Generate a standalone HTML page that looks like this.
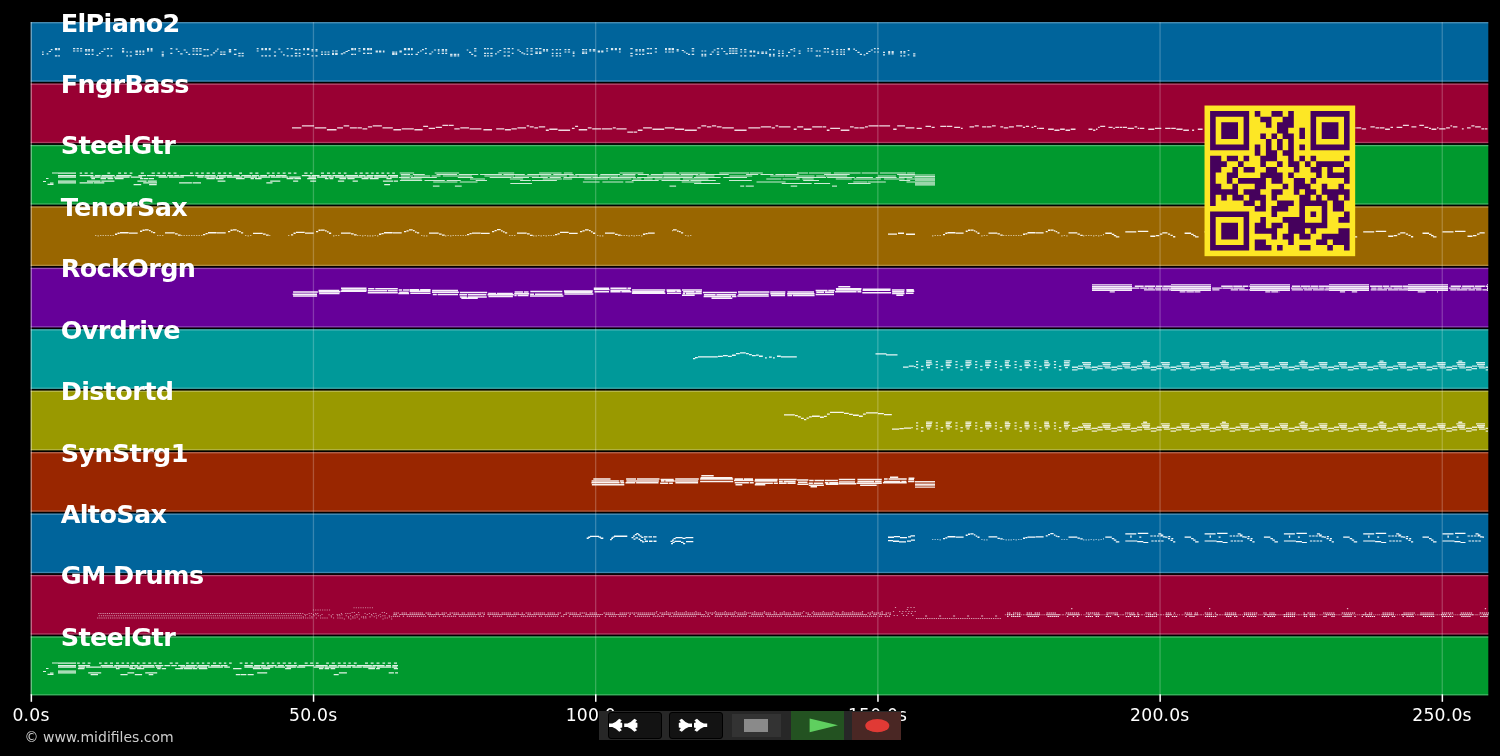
<!DOCTYPE html><html><head><meta charset="utf-8"><title>MIDI tracks</title><style>
html,body{margin:0;padding:0;background:#000;}
body{width:1500px;height:756px;position:relative;overflow:hidden;font-family:"DejaVu Sans","Liberation Sans",sans-serif;}
.lbl{position:absolute;left:60.7px;color:#fff;font-weight:bold;font-size:25.5px;line-height:25px;white-space:nowrap;letter-spacing:-0.65px;word-spacing:-0.8px;}
.tk{position:absolute;color:#fff;font-size:17.2px;line-height:17px;white-space:nowrap;transform:translateX(-50%);top:706.5px;letter-spacing:0.2px;}
.cr{position:absolute;left:24.5px;top:729.7px;color:#ccc;font-size:14px;line-height:14px;white-space:nowrap;}
.tb{position:absolute;left:599px;top:711.4px;width:302px;height:28.5px;background:#272727;}
.tb div{position:absolute;box-sizing:border-box;}

</style></head><body>
<svg width="1500" height="756" viewBox="0 0 1500 756" style="position:absolute;left:0;top:0">
<rect width="1500" height="756" fill="#000"/>
<rect x="30.7" y="22.07" width="1457.6" height="59.63" fill="#00649b"/>
<rect x="30.7" y="22.07" width="1457.6" height="1.3" fill="#fff" fill-opacity="0.3"/>
<rect x="30.7" y="80.40" width="1457.6" height="1.3" fill="#fff" fill-opacity="0.24"/>
<rect x="30.7" y="83.50" width="1457.6" height="59.63" fill="#990033"/>
<rect x="30.7" y="83.50" width="1457.6" height="1.3" fill="#fff" fill-opacity="0.3"/>
<rect x="30.7" y="141.83" width="1457.6" height="1.3" fill="#fff" fill-opacity="0.24"/>
<rect x="30.7" y="144.93" width="1457.6" height="59.63" fill="#00992e"/>
<rect x="30.7" y="144.93" width="1457.6" height="1.3" fill="#fff" fill-opacity="0.3"/>
<rect x="30.7" y="203.26" width="1457.6" height="1.3" fill="#fff" fill-opacity="0.24"/>
<rect x="30.7" y="206.36" width="1457.6" height="59.63" fill="#996600"/>
<rect x="30.7" y="206.36" width="1457.6" height="1.3" fill="#fff" fill-opacity="0.3"/>
<rect x="30.7" y="264.69" width="1457.6" height="1.3" fill="#fff" fill-opacity="0.24"/>
<rect x="30.7" y="267.79" width="1457.6" height="59.63" fill="#660099"/>
<rect x="30.7" y="267.79" width="1457.6" height="1.3" fill="#fff" fill-opacity="0.3"/>
<rect x="30.7" y="326.12" width="1457.6" height="1.3" fill="#fff" fill-opacity="0.24"/>
<rect x="30.7" y="329.22" width="1457.6" height="59.63" fill="#009999"/>
<rect x="30.7" y="329.22" width="1457.6" height="1.3" fill="#fff" fill-opacity="0.3"/>
<rect x="30.7" y="387.55" width="1457.6" height="1.3" fill="#fff" fill-opacity="0.24"/>
<rect x="30.7" y="390.65" width="1457.6" height="59.63" fill="#999900"/>
<rect x="30.7" y="390.65" width="1457.6" height="1.3" fill="#fff" fill-opacity="0.3"/>
<rect x="30.7" y="448.98" width="1457.6" height="1.3" fill="#fff" fill-opacity="0.24"/>
<rect x="30.7" y="452.08" width="1457.6" height="59.63" fill="#992600"/>
<rect x="30.7" y="452.08" width="1457.6" height="1.3" fill="#fff" fill-opacity="0.3"/>
<rect x="30.7" y="510.41" width="1457.6" height="1.3" fill="#fff" fill-opacity="0.24"/>
<rect x="30.7" y="513.51" width="1457.6" height="59.63" fill="#00649b"/>
<rect x="30.7" y="513.51" width="1457.6" height="1.3" fill="#fff" fill-opacity="0.3"/>
<rect x="30.7" y="571.84" width="1457.6" height="1.3" fill="#fff" fill-opacity="0.24"/>
<rect x="30.7" y="574.94" width="1457.6" height="59.63" fill="#990033"/>
<rect x="30.7" y="574.94" width="1457.6" height="1.3" fill="#fff" fill-opacity="0.3"/>
<rect x="30.7" y="633.27" width="1457.6" height="1.3" fill="#fff" fill-opacity="0.24"/>
<rect x="30.7" y="636.37" width="1457.6" height="59.03" fill="#00992e"/>
<rect x="30.7" y="636.37" width="1457.6" height="1.3" fill="#fff" fill-opacity="0.3"/>
<rect x="30.7" y="694.10" width="1457.6" height="1.3" fill="#fff" fill-opacity="0.24"/>
<rect x="30.60" y="22.07" width="1.3" height="673.33" fill="#fff" fill-opacity="0.45"/>
<rect x="30.60" y="694.3" width="1.5" height="7.5" fill="#fff"/>
<rect x="312.80" y="22.07" width="1.3" height="673.33" fill="#fff" fill-opacity="0.22"/>
<rect x="312.80" y="694.3" width="1.5" height="7.5" fill="#fff"/>
<rect x="595.00" y="22.07" width="1.3" height="673.33" fill="#fff" fill-opacity="0.22"/>
<rect x="595.00" y="694.3" width="1.5" height="7.5" fill="#fff"/>
<rect x="877.20" y="22.07" width="1.3" height="673.33" fill="#fff" fill-opacity="0.22"/>
<rect x="877.20" y="694.3" width="1.5" height="7.5" fill="#fff"/>
<rect x="1159.40" y="22.07" width="1.3" height="673.33" fill="#fff" fill-opacity="0.22"/>
<rect x="1159.40" y="694.3" width="1.5" height="7.5" fill="#fff"/>
<rect x="1441.60" y="22.07" width="1.3" height="673.33" fill="#fff" fill-opacity="0.22"/>
<rect x="1441.60" y="694.3" width="1.5" height="7.5" fill="#fff"/>
<path fill="#fff" fill-opacity="0.85" d="M42.0 51.4h1.7v1.2h-1.7zM42.0 53.8h1.7v1.2h-1.7zM46.6 53.3h1.7v1.2h-1.7zM48.7 50.9h2.3v1.2h-2.3zM50.7 49.0h1.8v1.2h-1.8zM54.9 48.0h2.5v1.2h-2.5zM54.9 49.0h2.5v1.2h-2.5zM54.9 55.2h2.5v1.2h-2.5zM58.2 48.0h1.7v1.2h-1.7zM58.2 49.0h1.7v1.2h-1.7zM58.2 55.2h1.7v1.2h-1.7zM73.0 50.4h2.3v1.2h-2.3zM73.0 48.0h2.3v1.2h-2.3zM76.6 50.4h2.2v1.2h-2.2zM76.6 48.0h2.2v1.2h-2.2zM80.1 50.4h2.1v1.2h-2.1zM80.1 48.0h2.1v1.2h-2.1zM85.0 50.4h2.4v1.2h-2.4zM85.0 49.0h2.4v1.2h-2.4zM85.0 53.8h2.4v1.2h-2.4zM88.1 50.4h1.9v1.2h-1.9zM88.1 49.0h1.9v1.2h-1.9zM88.1 53.8h1.9v1.2h-1.9zM91.6 50.4h1.9v1.2h-1.9zM91.6 49.0h1.9v1.2h-1.9zM91.6 53.8h1.9v1.2h-1.9zM96.5 54.7h1.9v1.2h-1.9zM99.0 52.8h1.7v1.2h-1.7zM101.2 50.9h2.2v1.2h-2.2zM103.6 48.5h1.9v1.2h-1.9zM106.9 55.2h2.1v1.2h-2.1zM106.9 48.0h2.1v1.2h-2.1zM110.6 55.2h1.7v1.2h-1.7zM110.6 48.0h1.7v1.2h-1.7zM122.0 48.0h2.2v1.2h-2.2zM122.0 51.4h2.2v1.2h-2.2zM122.0 50.4h2.2v1.2h-2.2zM126.3 51.4h1.7v1.2h-1.7zM126.3 55.2h1.7v1.2h-1.7zM129.8 51.4h2.1v1.2h-2.1zM129.8 55.2h2.1v1.2h-2.1zM135.4 53.8h2.5v1.2h-2.5zM135.4 51.4h2.5v1.2h-2.5zM135.4 50.4h2.5v1.2h-2.5zM139.3 53.8h1.8v1.2h-1.8zM139.3 51.4h1.8v1.2h-1.8zM139.3 50.4h1.8v1.2h-1.8zM142.5 53.8h1.8v1.2h-1.8zM142.5 51.4h1.8v1.2h-1.8zM142.5 50.4h1.8v1.2h-1.8zM147.0 50.4h2.1v1.2h-2.1zM147.0 48.0h2.1v1.2h-2.1zM147.0 49.0h2.1v1.2h-2.1zM150.6 50.4h1.9v1.2h-1.9zM150.6 48.0h1.9v1.2h-1.9zM150.6 49.0h1.9v1.2h-1.9zM161.7 51.4h2.1v1.2h-2.1zM161.7 55.2h2.1v1.2h-2.1zM161.7 53.8h2.1v1.2h-2.1zM170.3 48.0h2.1v1.2h-2.1zM170.3 52.8h2.1v1.2h-2.1zM175.7 48.5h1.9v1.2h-1.9zM177.8 50.9h1.7v1.2h-1.7zM180.2 53.3h2.4v1.2h-2.4zM183.6 49.4h2.2v1.2h-2.2zM185.8 51.8h1.8v1.2h-1.8zM188.3 53.8h1.9v1.2h-1.9zM192.5 53.8h2.0v1.2h-2.0zM192.5 48.0h2.0v1.2h-2.0zM192.5 50.4h2.0v1.2h-2.0zM195.7 53.8h2.4v1.2h-2.4zM195.7 48.0h2.4v1.2h-2.4zM195.7 50.4h2.4v1.2h-2.4zM199.2 53.8h2.4v1.2h-2.4zM199.2 48.0h2.4v1.2h-2.4zM199.2 50.4h2.4v1.2h-2.4zM203.4 55.2h2.3v1.2h-2.3zM203.4 49.0h2.3v1.2h-2.3zM206.6 55.2h2.1v1.2h-2.1zM206.6 49.0h2.1v1.2h-2.1zM210.5 54.2h1.9v1.2h-1.9zM212.9 52.3h2.2v1.2h-2.2zM215.0 50.4h2.4v1.2h-2.4zM216.9 48.5h1.7v1.2h-1.7zM220.1 51.4h2.4v1.2h-2.4zM220.1 53.8h2.4v1.2h-2.4zM223.2 51.4h2.3v1.2h-2.3zM223.2 53.8h2.3v1.2h-2.3zM228.8 49.0h2.4v1.2h-2.4zM228.8 51.4h2.4v1.2h-2.4zM228.8 50.4h2.4v1.2h-2.4zM233.9 53.8h2.6v1.2h-2.6zM233.9 49.0h2.6v1.2h-2.6zM238.3 52.8h2.3v1.2h-2.3zM238.3 55.2h2.3v1.2h-2.3zM241.6 52.8h2.1v1.2h-2.1zM241.6 55.2h2.1v1.2h-2.1zM256.7 48.0h1.9v1.2h-1.9zM256.7 50.4h1.9v1.2h-1.9zM261.3 55.2h2.0v1.2h-2.0zM261.3 49.0h2.0v1.2h-2.0zM261.3 48.0h2.0v1.2h-2.0zM264.8 55.2h2.2v1.2h-2.2zM264.8 49.0h2.2v1.2h-2.2zM264.8 48.0h2.2v1.2h-2.2zM268.7 55.2h2.0v1.2h-2.0zM268.7 49.0h2.0v1.2h-2.0zM268.7 48.0h2.0v1.2h-2.0zM273.9 55.2h2.2v1.2h-2.2zM273.9 51.4h2.2v1.2h-2.2zM278.4 48.5h2.0v1.2h-2.0zM280.7 51.4h1.7v1.2h-1.7zM283.0 54.2h1.8v1.2h-1.8zM286.7 55.2h1.9v1.2h-1.9zM286.7 48.0h1.9v1.2h-1.9zM290.7 55.2h2.2v1.2h-2.2zM290.7 48.0h2.2v1.2h-2.2zM294.8 52.8h2.5v1.2h-2.5zM294.8 49.0h2.5v1.2h-2.5zM294.8 55.2h2.5v1.2h-2.5zM298.7 52.8h1.8v1.2h-1.8zM298.7 49.0h1.8v1.2h-1.8zM298.7 55.2h1.8v1.2h-1.8zM303.2 48.0h1.7v1.2h-1.7zM303.2 53.8h1.7v1.2h-1.7zM303.2 49.0h1.7v1.2h-1.7zM306.9 48.0h2.4v1.2h-2.4zM306.9 53.8h2.4v1.2h-2.4zM306.9 49.0h2.4v1.2h-2.4zM311.5 49.0h1.8v1.2h-1.8zM311.5 50.4h1.8v1.2h-1.8zM311.5 55.2h1.8v1.2h-1.8zM315.5 49.0h2.0v1.2h-2.0zM315.5 50.4h2.0v1.2h-2.0zM315.5 55.2h2.0v1.2h-2.0zM321.0 53.8h2.0v1.2h-2.0zM321.0 51.4h2.0v1.2h-2.0zM324.4 53.8h2.0v1.2h-2.0zM324.4 51.4h2.0v1.2h-2.0zM327.5 53.8h2.0v1.2h-2.0zM327.5 51.4h2.0v1.2h-2.0zM332.0 50.4h2.1v1.2h-2.1zM332.0 52.8h2.1v1.2h-2.1zM332.0 53.8h2.1v1.2h-2.1zM335.1 50.4h2.6v1.2h-2.6zM335.1 52.8h2.6v1.2h-2.6zM335.1 53.8h2.6v1.2h-2.6zM340.8 53.3h2.2v1.2h-2.2zM343.2 52.3h2.3v1.2h-2.3zM345.5 50.9h2.4v1.2h-2.4zM347.7 49.9h2.0v1.2h-2.0zM351.1 48.0h2.5v1.2h-2.5zM351.1 53.8h2.5v1.2h-2.5zM351.1 49.0h2.5v1.2h-2.5zM354.4 48.0h1.6v1.2h-1.6zM354.4 53.8h1.6v1.2h-1.6zM354.4 49.0h1.6v1.2h-1.6zM358.4 48.0h2.1v1.2h-2.1zM358.4 50.4h2.1v1.2h-2.1zM363.0 52.8h2.3v1.2h-2.3zM363.0 49.0h2.3v1.2h-2.3zM363.0 48.0h2.3v1.2h-2.3zM367.0 52.8h2.6v1.2h-2.6zM367.0 49.0h2.6v1.2h-2.6zM367.0 48.0h2.6v1.2h-2.6zM370.2 52.8h1.8v1.2h-1.8zM370.2 49.0h1.8v1.2h-1.8zM370.2 48.0h1.8v1.2h-1.8zM375.6 50.4h2.3v1.2h-2.3zM375.6 51.4h2.3v1.2h-2.3zM378.9 50.4h2.4v1.2h-2.4zM378.9 51.4h2.4v1.2h-2.4zM382.9 50.4h1.6v1.2h-1.6zM382.9 51.4h1.6v1.2h-1.6zM392.1 53.8h2.6v1.2h-2.6zM392.1 51.4h2.6v1.2h-2.6zM392.1 52.8h2.6v1.2h-2.6zM395.4 53.8h1.8v1.2h-1.8zM395.4 51.4h1.8v1.2h-1.8zM395.4 52.8h1.8v1.2h-1.8zM399.4 51.4h2.4v1.2h-2.4zM399.4 50.4h2.4v1.2h-2.4zM403.9 49.0h2.4v1.2h-2.4zM403.9 48.0h2.4v1.2h-2.4zM403.9 53.8h2.4v1.2h-2.4zM407.7 49.0h2.3v1.2h-2.3zM407.7 48.0h2.3v1.2h-2.3zM407.7 53.8h2.3v1.2h-2.3zM411.0 49.0h1.8v1.2h-1.8zM411.0 48.0h1.8v1.2h-1.8zM411.0 53.8h1.8v1.2h-1.8zM415.5 53.8h2.4v1.2h-2.4zM417.6 51.8h1.6v1.2h-1.6zM420.0 50.4h1.8v1.2h-1.8zM422.0 49.0h1.9v1.2h-1.9zM424.9 52.8h1.9v1.2h-1.9zM424.9 48.0h1.9v1.2h-1.9zM429.1 53.3h2.4v1.2h-2.4zM431.5 51.4h1.7v1.2h-1.7zM433.9 49.4h2.2v1.2h-2.2zM437.8 49.0h1.7v1.2h-1.7zM437.8 50.4h1.7v1.2h-1.7zM437.8 52.8h1.7v1.2h-1.7zM441.7 49.0h2.3v1.2h-2.3zM441.7 50.4h2.3v1.2h-2.3zM441.7 52.8h2.3v1.2h-2.3zM445.2 49.0h2.0v1.2h-2.0zM445.2 50.4h2.0v1.2h-2.0zM445.2 52.8h2.0v1.2h-2.0zM450.1 55.2h2.4v1.2h-2.4zM450.1 53.8h2.4v1.2h-2.4zM453.8 55.2h2.6v1.2h-2.6zM453.8 53.8h2.6v1.2h-2.6zM457.5 55.2h1.7v1.2h-1.7zM457.5 53.8h1.7v1.2h-1.7zM466.7 49.4h1.6v1.2h-1.6zM469.0 51.8h2.2v1.2h-2.2zM471.2 53.8h2.0v1.2h-2.0zM474.1 55.2h2.3v1.2h-2.3zM474.1 48.0h2.3v1.2h-2.3zM474.1 50.4h2.3v1.2h-2.3zM484.0 55.2h2.2v1.2h-2.2zM484.0 48.0h2.2v1.2h-2.2zM484.0 52.8h2.2v1.2h-2.2zM487.1 55.2h1.7v1.2h-1.7zM487.1 48.0h1.7v1.2h-1.7zM487.1 52.8h1.7v1.2h-1.7zM490.3 55.2h2.3v1.2h-2.3zM490.3 48.0h2.3v1.2h-2.3zM490.3 52.8h2.3v1.2h-2.3zM495.0 53.3h1.8v1.2h-1.8zM497.2 51.4h2.2v1.2h-2.2zM499.3 49.9h2.0v1.2h-2.0zM503.6 48.0h2.1v1.2h-2.1zM503.6 51.4h2.1v1.2h-2.1zM503.6 55.2h2.1v1.2h-2.1zM507.4 48.0h2.6v1.2h-2.6zM507.4 51.4h2.6v1.2h-2.6zM507.4 55.2h2.6v1.2h-2.6zM511.8 48.0h1.7v1.2h-1.7zM511.8 52.8h1.7v1.2h-1.7zM517.2 49.4h2.3v1.2h-2.3zM519.4 50.9h1.6v1.2h-1.6zM521.3 52.3h2.0v1.2h-2.0zM523.5 53.3h1.8v1.2h-1.8zM526.5 48.0h1.7v1.2h-1.7zM526.5 50.4h1.7v1.2h-1.7zM526.5 53.8h1.7v1.2h-1.7zM530.4 48.0h2.3v1.2h-2.3zM530.4 50.4h2.3v1.2h-2.3zM530.4 53.8h2.3v1.2h-2.3zM535.3 51.4h2.5v1.2h-2.5zM535.3 52.8h2.5v1.2h-2.5zM535.3 48.0h2.5v1.2h-2.5zM539.0 51.4h2.5v1.2h-2.5zM539.0 52.8h2.5v1.2h-2.5zM539.0 48.0h2.5v1.2h-2.5zM542.9 49.0h2.1v1.2h-2.1zM542.9 50.4h2.1v1.2h-2.1zM546.1 49.0h2.0v1.2h-2.0zM546.1 50.4h2.0v1.2h-2.0zM551.8 52.8h1.7v1.2h-1.7zM551.8 55.2h1.7v1.2h-1.7zM551.8 49.0h1.7v1.2h-1.7zM555.8 52.8h2.0v1.2h-2.0zM555.8 55.2h2.0v1.2h-2.0zM555.8 49.0h2.0v1.2h-2.0zM559.4 52.8h1.7v1.2h-1.7zM559.4 55.2h1.7v1.2h-1.7zM559.4 49.0h1.7v1.2h-1.7zM564.5 49.0h1.9v1.2h-1.9zM564.5 51.4h1.9v1.2h-1.9zM567.8 49.0h2.3v1.2h-2.3zM567.8 51.4h2.3v1.2h-2.3zM572.7 51.4h1.8v1.2h-1.8zM572.7 52.8h1.8v1.2h-1.8zM572.7 55.2h1.8v1.2h-1.8zM582.0 52.8h2.6v1.2h-2.6zM582.0 49.0h2.6v1.2h-2.6zM582.0 51.4h2.6v1.2h-2.6zM585.4 52.8h1.7v1.2h-1.7zM585.4 49.0h1.7v1.2h-1.7zM585.4 51.4h1.7v1.2h-1.7zM589.3 50.4h1.9v1.2h-1.9zM589.3 49.0h1.9v1.2h-1.9zM592.8 50.4h2.5v1.2h-2.5zM592.8 49.0h2.5v1.2h-2.5zM597.7 51.4h2.4v1.2h-2.4zM597.7 50.4h2.4v1.2h-2.4zM601.2 51.4h2.2v1.2h-2.2zM601.2 50.4h2.2v1.2h-2.2zM606.1 48.0h2.0v1.2h-2.0zM606.1 50.4h2.0v1.2h-2.0zM610.9 49.0h2.3v1.2h-2.3zM610.9 48.0h2.3v1.2h-2.3zM614.8 49.0h2.1v1.2h-2.1zM614.8 48.0h2.1v1.2h-2.1zM618.9 51.4h1.8v1.2h-1.8zM618.9 49.0h1.8v1.2h-1.8zM618.9 48.0h1.8v1.2h-1.8zM630.3 48.0h2.4v1.2h-2.4zM630.3 52.8h2.4v1.2h-2.4zM630.3 55.2h2.4v1.2h-2.4zM635.4 49.0h2.2v1.2h-2.2zM635.4 53.8h2.2v1.2h-2.2zM635.4 50.4h2.2v1.2h-2.2zM639.1 49.0h1.7v1.2h-1.7zM639.1 53.8h1.7v1.2h-1.7zM639.1 50.4h1.7v1.2h-1.7zM642.2 49.0h2.1v1.2h-2.1zM642.2 53.8h2.1v1.2h-2.1zM642.2 50.4h2.1v1.2h-2.1zM646.8 48.0h2.6v1.2h-2.6zM646.8 52.8h2.6v1.2h-2.6zM650.1 48.0h1.9v1.2h-1.9zM650.1 52.8h1.9v1.2h-1.9zM654.8 48.0h2.2v1.2h-2.2zM654.8 51.4h2.2v1.2h-2.2zM665.0 49.0h1.9v1.2h-1.9zM665.0 51.4h1.9v1.2h-1.9zM665.0 48.0h1.9v1.2h-1.9zM668.4 49.0h2.3v1.2h-2.3zM668.4 51.4h2.3v1.2h-2.3zM668.4 48.0h2.3v1.2h-2.3zM671.6 49.0h2.4v1.2h-2.4zM671.6 51.4h2.4v1.2h-2.4zM671.6 48.0h2.4v1.2h-2.4zM676.6 50.4h2.1v1.2h-2.1zM676.6 49.0h2.1v1.2h-2.1zM681.7 49.9h2.3v1.2h-2.3zM683.6 51.4h2.1v1.2h-2.1zM686.1 52.8h1.6v1.2h-1.6zM688.0 53.8h2.1v1.2h-2.1zM691.7 53.8h2.5v1.2h-2.5zM691.7 50.4h2.5v1.2h-2.5zM691.7 48.0h2.5v1.2h-2.5zM701.4 55.2h1.8v1.2h-1.8zM701.4 50.4h1.8v1.2h-1.8zM701.4 53.8h1.8v1.2h-1.8zM704.4 55.2h1.9v1.2h-1.9zM704.4 50.4h1.9v1.2h-1.9zM704.4 53.8h1.9v1.2h-1.9zM709.7 53.8h2.2v1.2h-2.2zM711.6 51.4h2.2v1.2h-2.2zM713.6 49.4h2.0v1.2h-2.0zM716.8 48.0h2.4v1.2h-2.4zM716.8 53.8h2.4v1.2h-2.4zM716.8 51.4h2.4v1.2h-2.4zM721.1 48.0h1.7v1.2h-1.7zM723.4 50.9h1.9v1.2h-1.9zM725.5 53.3h2.4v1.2h-2.4zM729.0 50.4h2.5v1.2h-2.5zM729.0 48.0h2.5v1.2h-2.5zM729.0 52.8h2.5v1.2h-2.5zM732.1 50.4h2.4v1.2h-2.4zM732.1 48.0h2.4v1.2h-2.4zM732.1 52.8h2.4v1.2h-2.4zM735.2 50.4h2.3v1.2h-2.3zM735.2 48.0h2.3v1.2h-2.3zM735.2 52.8h2.3v1.2h-2.3zM740.3 55.2h1.8v1.2h-1.8zM740.3 51.4h1.8v1.2h-1.8zM740.3 49.0h1.8v1.2h-1.8zM744.1 55.2h2.3v1.2h-2.3zM744.1 51.4h2.3v1.2h-2.3zM744.1 49.0h2.3v1.2h-2.3zM749.6 55.2h2.4v1.2h-2.4zM749.6 50.4h2.4v1.2h-2.4zM749.6 51.4h2.4v1.2h-2.4zM753.2 55.2h2.1v1.2h-2.1zM753.2 50.4h2.1v1.2h-2.1zM753.2 51.4h2.1v1.2h-2.1zM757.3 51.4h1.9v1.2h-1.9zM757.3 52.8h1.9v1.2h-1.9zM761.3 51.4h2.5v1.2h-2.5zM761.3 52.8h2.5v1.2h-2.5zM765.3 51.4h1.9v1.2h-1.9zM765.3 52.8h1.9v1.2h-1.9zM769.0 49.0h2.1v1.2h-2.1zM769.0 55.2h2.1v1.2h-2.1zM769.0 53.8h2.1v1.2h-2.1zM772.9 49.0h1.8v1.2h-1.8zM772.9 55.2h1.8v1.2h-1.8zM772.9 53.8h1.8v1.2h-1.8zM778.1 50.4h2.0v1.2h-2.0zM778.1 55.2h2.0v1.2h-2.0zM778.1 52.8h2.0v1.2h-2.0zM781.9 50.4h1.8v1.2h-1.8zM781.9 55.2h1.8v1.2h-1.8zM781.9 52.8h1.8v1.2h-1.8zM786.0 55.2h2.0v1.2h-2.0zM788.0 51.8h2.2v1.2h-2.2zM790.3 49.0h2.4v1.2h-2.4zM793.5 50.4h1.7v1.2h-1.7zM793.5 48.0h1.7v1.2h-1.7zM793.5 55.2h1.7v1.2h-1.7zM798.6 50.4h2.0v1.2h-2.0zM798.6 52.8h2.0v1.2h-2.0zM807.4 48.0h1.7v1.2h-1.7zM807.4 50.4h1.7v1.2h-1.7zM810.6 48.0h1.9v1.2h-1.9zM810.6 50.4h1.9v1.2h-1.9zM815.7 55.2h2.3v1.2h-2.3zM815.7 50.4h2.3v1.2h-2.3zM818.8 55.2h1.9v1.2h-1.9zM818.8 50.4h1.9v1.2h-1.9zM823.7 51.4h2.3v1.2h-2.3zM823.7 48.0h2.3v1.2h-2.3zM826.9 51.4h2.1v1.2h-2.1zM826.9 48.0h2.1v1.2h-2.1zM831.6 53.8h1.9v1.2h-1.9zM831.6 50.4h1.9v1.2h-1.9zM831.6 51.4h1.9v1.2h-1.9zM836.2 53.8h2.0v1.2h-2.0zM836.2 49.0h2.0v1.2h-2.0zM836.2 51.4h2.0v1.2h-2.0zM840.2 53.8h2.0v1.2h-2.0zM840.2 49.0h2.0v1.2h-2.0zM840.2 51.4h2.0v1.2h-2.0zM843.3 53.8h1.7v1.2h-1.7zM843.3 49.0h1.7v1.2h-1.7zM843.3 51.4h1.7v1.2h-1.7zM847.8 49.0h2.2v1.2h-2.2zM847.8 48.0h2.2v1.2h-2.2zM853.3 48.5h1.7v1.2h-1.7zM855.3 49.9h1.7v1.2h-1.7zM857.4 51.8h2.2v1.2h-2.2zM859.8 53.8h2.2v1.2h-2.2zM863.6 54.2h1.7v1.2h-1.7zM866.0 52.8h2.2v1.2h-2.2zM868.4 50.9h2.1v1.2h-2.1zM870.8 49.4h2.1v1.2h-2.1zM873.9 48.0h1.8v1.2h-1.8zM873.9 51.4h1.8v1.2h-1.8zM877.2 48.0h1.7v1.2h-1.7zM877.2 51.4h1.7v1.2h-1.7zM883.0 54.2h2.0v1.2h-2.0zM883.0 51.8h2.0v1.2h-2.0zM888.2 51.8h2.0v1.2h-2.0zM888.2 53.3h2.0v1.2h-2.0zM888.2 50.9h2.0v1.2h-2.0zM891.6 51.8h2.1v1.2h-2.1zM891.6 53.3h2.1v1.2h-2.1zM891.6 50.9h2.1v1.2h-2.1zM900.3 55.2h1.7v1.2h-1.7zM900.3 50.9h1.7v1.2h-1.7zM900.3 52.3h1.7v1.2h-1.7zM903.4 55.2h2.0v1.2h-2.0zM903.4 50.9h2.0v1.2h-2.0zM903.4 52.3h2.0v1.2h-2.0zM907.7 49.9h1.7v1.2h-1.7zM907.7 54.2h1.7v1.2h-1.7zM913.1 55.2h2.3v1.2h-2.3zM913.1 53.3h2.3v1.2h-2.3zM292.0 127.2h9.3v1.3h-9.3zM301.9 125.3h12.2v1.3h-12.2zM314.7 127.2h11.6v1.3h-11.6zM326.9 129.1h9.6v1.3h-9.6zM337.1 127.2h5.9v1.3h-5.9zM343.6 125.3h5.6v1.3h-5.6zM349.9 127.2h7.0v1.3h-7.0zM357.4 127.2h4.5v1.3h-4.5zM362.5 128.2h4.8v1.3h-4.8zM367.9 126.2h4.2v1.3h-4.2zM372.7 125.3h9.2v1.3h-9.2zM382.5 127.2h10.3v1.3h-10.3zM393.4 129.1h7.7v1.3h-7.7zM401.7 128.2h12.1v1.3h-12.1zM414.4 129.1h8.2v1.3h-8.2zM423.2 125.8h4.9v1.3h-4.9zM428.7 127.7h6.3v1.3h-6.3zM435.7 126.7h6.2v1.3h-6.2zM442.4 124.8h6.0v1.3h-6.0zM449.0 124.8h4.7v1.3h-4.7zM454.3 128.2h5.4v1.3h-5.4zM460.3 127.2h8.8v1.3h-8.8zM469.7 128.2h11.7v1.3h-11.7zM483.4 129.1h8.6v1.3h-8.6zM496.2 128.2h8.1v1.3h-8.1zM504.9 129.1h6.0v1.3h-6.0zM511.4 128.2h5.4v1.3h-5.4zM517.4 127.2h8.6v1.3h-8.6zM526.7 125.3h2.5v1.3h-2.5zM529.8 126.2h3.9v1.3h-3.9zM534.3 127.2h3.8v1.3h-3.8zM538.8 126.2h6.4v1.3h-6.4zM545.8 129.6h3.0v1.3h-3.0zM549.3 128.6h8.3v1.3h-8.3zM558.3 129.6h11.8v1.3h-11.8zM571.9 127.7h2.7v1.3h-2.7zM575.1 125.8h3.0v1.3h-3.0zM578.7 129.1h8.5v1.3h-8.5zM587.8 127.2h3.8v1.3h-3.8zM592.2 128.2h8.8v1.3h-8.8zM601.7 128.2h10.5v1.3h-10.5zM612.8 127.2h3.0v1.3h-3.0zM616.4 128.2h10.2v1.3h-10.2zM627.3 131.5h6.2v1.3h-6.2zM634.0 131.5h3.2v1.3h-3.2zM637.8 129.6h4.7v1.3h-4.7zM643.1 127.2h8.8v1.3h-8.8zM652.5 128.6h11.7v1.3h-11.7zM664.8 127.2h9.5v1.3h-9.5zM674.9 128.6h9.2v1.3h-9.2zM684.7 129.6h12.1v1.3h-12.1zM697.4 127.2h3.3v1.3h-3.3zM701.3 125.3h5.0v1.3h-5.0zM706.9 126.2h4.4v1.3h-4.4zM711.9 125.3h4.3v1.3h-4.3zM716.8 126.2h4.8v1.3h-4.8zM722.2 127.2h11.6v1.3h-11.6zM734.4 129.6h12.2v1.3h-12.2zM748.3 127.2h12.0v1.3h-12.0zM760.8 126.2h10.3v1.3h-10.3zM771.7 127.2h3.2v1.3h-3.2zM775.5 125.3h2.7v1.3h-2.7zM778.8 126.2h11.7v1.3h-11.7zM793.7 128.6h2.9v1.3h-2.9zM797.2 126.2h6.0v1.3h-6.0zM803.8 128.6h7.7v1.3h-7.7zM812.2 126.2h10.0v1.3h-10.0zM822.7 126.2h3.5v1.3h-3.5zM826.8 129.6h2.7v1.3h-2.7zM830.2 127.7h9.9v1.3h-9.9zM840.7 129.6h8.7v1.3h-8.7zM850.0 126.2h3.7v1.3h-3.7zM854.3 127.2h4.4v1.3h-4.4zM859.4 127.2h5.0v1.3h-5.0zM865.0 126.2h2.9v1.3h-2.9zM868.5 125.3h10.1v1.3h-10.1zM879.2 125.3h10.9v1.3h-10.9zM893.2 128.6h3.4v1.3h-3.4zM897.2 125.3h7.8v1.3h-7.8zM905.6 127.2h8.8v1.3h-8.8zM916.6 127.7h5.2v1.3h-5.2zM925.5 125.8h5.5v1.3h-5.5zM931.6 126.7h3.1v1.3h-3.1zM940.3 125.8h6.1v1.3h-6.1zM947.0 125.8h5.3v1.3h-5.3zM954.2 126.7h6.0v1.3h-6.0zM960.9 127.7h1.8v1.3h-1.8zM969.5 126.2h4.6v1.3h-4.6zM974.7 125.3h4.1v1.3h-4.1zM982.1 126.2h4.0v1.3h-4.0zM986.7 126.2h4.7v1.3h-4.7zM992.0 125.3h3.7v1.3h-3.7zM1000.3 126.2h2.9v1.3h-2.9zM1003.8 127.2h4.5v1.3h-4.5zM1008.9 126.2h5.0v1.3h-5.0zM1016.1 125.3h6.3v1.3h-6.3zM1022.9 126.7h2.2v1.3h-2.2zM1025.8 125.8h3.3v1.3h-3.3zM1031.5 126.7h1.9v1.3h-1.9zM1034.0 125.8h2.4v1.3h-2.4zM1037.1 127.7h1.5v1.3h-1.5zM1039.1 127.7h4.9v1.3h-4.9zM1048.1 128.6h5.7v1.3h-5.7zM1054.4 129.6h5.1v1.3h-5.1zM1060.1 128.6h4.7v1.3h-4.7zM1065.5 129.6h4.6v1.3h-4.6zM1070.7 128.6h4.8v1.3h-4.8zM1088.5 128.6h4.0v1.3h-4.0zM1093.1 129.6h2.3v1.3h-2.3zM1096.0 128.6h1.5v1.3h-1.5zM1098.1 126.7h1.6v1.3h-1.6zM1100.2 125.8h5.0v1.3h-5.0zM1108.5 126.7h4.1v1.3h-4.1zM1113.3 127.7h1.5v1.3h-1.5zM1115.3 126.7h4.0v1.3h-4.0zM1119.9 126.7h2.5v1.3h-2.5zM1123.0 126.7h4.0v1.3h-4.0zM1127.6 127.7h6.3v1.3h-6.3zM1134.5 126.2h2.7v1.3h-2.7zM1137.7 127.7h1.5v1.3h-1.5zM1139.8 127.7h4.5v1.3h-4.5zM1148.2 128.6h6.1v1.3h-6.1zM1154.9 127.7h6.4v1.3h-6.4zM1165.2 127.7h5.4v1.3h-5.4zM1171.2 127.7h4.6v1.3h-4.6zM1176.4 128.6h6.2v1.3h-6.2zM1183.3 129.6h5.6v1.3h-5.6zM1192.1 129.6h2.0v1.3h-2.0zM1197.8 128.6h4.8v1.3h-4.8zM1208.3 129.6h3.8v1.3h-3.8zM1212.7 128.6h1.8v1.3h-1.8zM1215.1 127.7h6.0v1.3h-6.0zM1221.8 126.2h1.8v1.3h-1.8zM1228.7 125.3h6.2v1.3h-6.2zM1235.5 126.2h4.4v1.3h-4.4zM1240.5 127.2h2.6v1.3h-2.6zM1245.9 126.2h4.1v1.3h-4.1zM1250.6 127.2h4.4v1.3h-4.4zM1255.6 128.2h5.9v1.3h-5.9zM1265.2 129.1h4.1v1.3h-4.1zM1271.2 129.1h3.5v1.3h-3.5zM1277.7 129.1h2.1v1.3h-2.1zM1280.4 129.1h2.2v1.3h-2.2zM1283.3 128.2h1.4v1.3h-1.4zM1285.3 128.2h4.9v1.3h-4.9zM1290.8 127.2h5.6v1.3h-5.6zM1297.0 127.2h6.4v1.3h-6.4zM1304.0 126.2h4.6v1.3h-4.6zM1312.4 127.7h6.4v1.3h-6.4zM1319.4 126.2h4.0v1.3h-4.0zM1323.9 125.3h1.6v1.3h-1.6zM1329.1 126.2h3.1v1.3h-3.1zM1335.1 127.2h3.5v1.3h-3.5zM1339.2 128.2h2.8v1.3h-2.8zM1342.6 128.2h3.4v1.3h-3.4zM1353.8 127.2h1.8v1.3h-1.8zM1356.2 127.2h5.0v1.3h-5.0zM1361.8 128.2h4.3v1.3h-4.3zM1370.4 126.2h4.4v1.3h-4.4zM1375.5 127.2h3.9v1.3h-3.9zM1380.0 127.2h4.5v1.3h-4.5zM1385.1 128.6h4.8v1.3h-4.8zM1390.5 126.7h2.5v1.3h-2.5zM1396.6 126.7h5.7v1.3h-5.7zM1402.9 124.8h6.0v1.3h-6.0zM1411.4 126.2h5.0v1.3h-5.0zM1419.3 124.8h4.6v1.3h-4.6zM1424.5 126.7h3.9v1.3h-3.9zM1429.0 127.7h2.0v1.3h-2.0zM1431.5 128.6h4.9v1.3h-4.9zM1437.0 127.2h1.5v1.3h-1.5zM1439.1 128.2h6.4v1.3h-6.4zM1446.1 127.2h3.8v1.3h-3.8zM1450.4 125.3h1.8v1.3h-1.8zM1452.9 126.2h4.5v1.3h-4.5zM1461.9 128.2h1.8v1.3h-1.8zM1467.0 127.2h3.7v1.3h-3.7zM1471.3 125.3h3.2v1.3h-3.2zM1475.1 126.2h5.7v1.3h-5.7zM1481.4 128.2h2.9v1.3h-2.9zM1484.9 128.2h2.5v1.3h-2.5z"/>
<path fill="#fff" fill-opacity="0.88" d="M58.0 172.4h18.0v1.3h-18.0zM58.0 175.0h18.0v1.3h-18.0zM58.0 176.5h18.0v1.3h-18.0zM58.0 180.5h18.0v1.3h-18.0zM58.0 182.2h18.0v1.3h-18.0zM43.0 181.0h3.0v1.1h-3.0zM46.0 178.0h2.5v1.1h-2.5zM47.5 183.8h6.0v1.1h-6.0zM50.0 182.4h3.5v1.1h-3.5zM52.0 172.4h6.0v1.1h-6.0zM79.7 172.4h2.4v1.3h-2.4zM84.6 172.4h3.1v1.3h-3.1zM90.5 172.4h2.7v1.3h-2.7zM107.4 172.4h2.8v1.3h-2.8zM118.1 172.4h3.0v1.3h-3.0zM124.0 172.4h2.8v1.3h-2.8zM129.7 172.4h2.7v1.3h-2.7zM140.8 172.4h3.1v1.3h-3.1zM151.6 172.4h3.2v1.3h-3.2zM157.4 172.4h2.7v1.3h-2.7zM162.6 172.4h2.8v1.3h-2.8zM168.0 172.4h2.6v1.3h-2.6zM173.5 172.4h3.0v1.3h-3.0zM190.0 172.4h2.8v1.3h-2.8zM195.6 172.4h2.8v1.3h-2.8zM201.1 172.4h2.7v1.3h-2.7zM206.6 172.4h3.2v1.3h-3.2zM212.2 172.4h2.7v1.3h-2.7zM217.9 172.4h2.9v1.3h-2.9zM223.4 172.4h2.8v1.3h-2.8zM228.9 172.4h2.5v1.3h-2.5zM239.2 172.4h2.8v1.3h-2.8zM249.6 172.4h2.9v1.3h-2.9zM255.3 172.4h3.1v1.3h-3.1zM266.8 172.4h2.8v1.3h-2.8zM272.1 172.4h2.4v1.3h-2.4zM277.3 172.4h2.5v1.3h-2.5zM282.7 172.4h2.9v1.3h-2.9zM288.1 172.4h3.1v1.3h-3.1zM293.7 172.4h2.8v1.3h-2.8zM304.3 172.4h3.2v1.3h-3.2zM310.0 172.4h2.4v1.3h-2.4zM320.9 172.4h3.1v1.3h-3.1zM327.0 172.4h3.0v1.3h-3.0zM332.5 172.4h2.6v1.3h-2.6zM338.1 172.4h2.8v1.3h-2.8zM343.8 172.4h2.7v1.3h-2.7zM354.8 172.4h2.4v1.3h-2.4zM359.7 172.4h3.1v1.3h-3.1zM365.5 172.4h3.0v1.3h-3.0zM371.2 172.4h2.5v1.3h-2.5zM376.1 172.4h2.6v1.3h-2.6zM381.4 172.4h2.8v1.3h-2.8zM386.8 172.4h2.7v1.3h-2.7zM392.2 172.4h2.7v1.3h-2.7zM79.7 175.0h13.8v1.3h-13.8zM94.8 175.0h5.9v1.3h-5.9zM101.5 175.0h13.2v1.3h-13.2zM116.2 175.0h15.2v1.3h-15.2zM138.4 175.0h7.6v1.3h-7.6zM146.8 175.0h8.7v1.3h-8.7zM156.0 175.0h10.0v1.3h-10.0zM166.9 175.0h6.6v1.3h-6.6zM174.2 175.0h5.3v1.3h-5.3zM180.2 175.0h13.8v1.3h-13.8zM194.6 175.0h10.0v1.3h-10.0zM205.1 175.0h10.6v1.3h-10.6zM217.1 175.0h15.2v1.3h-15.2zM233.5 175.0h6.3v1.3h-6.3zM241.3 175.0h9.8v1.3h-9.8zM251.7 175.0h7.6v1.3h-7.6zM260.2 175.0h6.8v1.3h-6.8zM268.5 175.0h6.6v1.3h-6.6zM276.0 175.0h10.6v1.3h-10.6zM301.8 175.0h9.0v1.3h-9.0zM311.6 175.0h8.0v1.3h-8.0zM321.0 175.0h10.7v1.3h-10.7zM332.3 175.0h11.6v1.3h-11.6zM345.3 175.0h13.0v1.3h-13.0zM359.0 175.0h6.5v1.3h-6.5zM366.6 175.0h7.1v1.3h-7.1zM374.1 175.0h12.6v1.3h-12.6zM388.0 175.0h10.0v1.3h-10.0zM90.4 176.5h9.5v1.3h-9.5zM100.4 176.5h12.3v1.3h-12.3zM113.8 176.5h15.8v1.3h-15.8zM130.8 176.5h11.3v1.3h-11.3zM158.6 176.5h8.9v1.3h-8.9zM168.9 176.5h15.0v1.3h-15.0zM197.3 176.5h6.2v1.3h-6.2zM204.4 176.5h5.3v1.3h-5.3zM210.2 176.5h7.7v1.3h-7.7zM219.0 176.5h6.8v1.3h-6.8zM226.8 176.5h15.5v1.3h-15.5zM243.8 176.5h13.1v1.3h-13.1zM258.2 176.5h12.0v1.3h-12.0zM270.9 176.5h9.9v1.3h-9.9zM281.3 176.5h7.0v1.3h-7.0zM289.2 176.5h11.4v1.3h-11.4zM308.5 176.5h7.5v1.3h-7.5zM317.1 176.5h10.1v1.3h-10.1zM328.6 176.5h5.2v1.3h-5.2zM335.0 176.5h11.6v1.3h-11.6zM347.0 176.5h15.7v1.3h-15.7zM363.5 176.5h9.4v1.3h-9.4zM374.1 176.5h14.3v1.3h-14.3zM389.8 176.5h8.2v1.3h-8.2zM91.3 178.0h3.7v1.3h-3.7zM100.5 178.0h5.5v1.3h-5.5zM107.6 178.0h5.7v1.3h-5.7zM114.8 178.0h8.8v1.3h-8.8zM140.0 178.0h3.6v1.3h-3.6zM144.0 178.0h4.4v1.3h-4.4zM148.9 178.0h5.1v1.3h-5.1zM206.4 178.0h8.4v1.3h-8.4zM215.7 178.0h7.9v1.3h-7.9zM235.9 178.0h8.7v1.3h-8.7zM250.6 178.0h3.3v1.3h-3.3zM255.0 178.0h6.6v1.3h-6.6zM286.6 178.0h7.0v1.3h-7.0zM294.3 178.0h6.7v1.3h-6.7zM307.2 178.0h9.0v1.3h-9.0zM324.9 178.0h3.6v1.3h-3.6zM329.6 178.0h3.7v1.3h-3.7zM339.4 178.0h6.7v1.3h-6.7zM347.4 178.0h7.2v1.3h-7.2zM361.6 178.0h6.9v1.3h-6.9zM369.7 178.0h8.9v1.3h-8.9zM386.4 178.0h5.3v1.3h-5.3zM87.0 180.5h13.6v1.3h-13.6zM101.3 180.5h13.1v1.3h-13.1zM137.4 180.5h9.2v1.3h-9.2zM147.7 180.5h9.1v1.3h-9.1zM217.6 180.5h7.8v1.3h-7.8zM270.2 180.5h10.1v1.3h-10.1zM293.1 180.5h5.1v1.3h-5.1zM310.2 180.5h5.9v1.3h-5.9zM337.9 180.5h6.3v1.3h-6.3zM352.6 180.5h5.3v1.3h-5.3zM382.9 180.5h10.2v1.3h-10.2zM393.8 180.5h4.2v1.3h-4.2zM79.6 182.2h13.5v1.3h-13.5zM93.7 182.2h10.6v1.3h-10.6zM143.2 182.2h13.8v1.3h-13.8zM179.1 182.2h12.8v1.3h-12.8zM192.6 182.2h8.4v1.3h-8.4zM266.3 182.2h6.2v1.3h-6.2zM133.6 184.0h7.6v1.3h-7.6zM149.1 184.0h7.6v1.3h-7.6zM384.2 184.0h5.9v1.3h-5.9zM58.0 662.4h18.0v1.3h-18.0zM58.0 665.0h18.0v1.3h-18.0zM58.0 666.5h18.0v1.3h-18.0zM58.0 670.5h18.0v1.3h-18.0zM58.0 672.2h18.0v1.3h-18.0zM43.0 671.0h3.0v1.1h-3.0zM46.0 668.0h2.5v1.1h-2.5zM47.5 673.8h6.0v1.1h-6.0zM50.0 672.4h3.5v1.1h-3.5zM52.0 662.4h6.0v1.1h-6.0zM77.1 662.4h2.7v1.3h-2.7zM82.3 662.4h2.9v1.3h-2.9zM87.7 662.4h2.8v1.3h-2.8zM99.0 662.4h2.6v1.3h-2.6zM104.4 662.4h3.0v1.3h-3.0zM110.0 662.4h3.0v1.3h-3.0zM116.0 662.4h2.9v1.3h-2.9zM121.6 662.4h2.5v1.3h-2.5zM126.6 662.4h2.5v1.3h-2.5zM131.6 662.4h2.7v1.3h-2.7zM136.9 662.4h2.7v1.3h-2.7zM142.5 662.4h3.0v1.3h-3.0zM148.2 662.4h3.0v1.3h-3.0zM153.7 662.4h2.7v1.3h-2.7zM158.9 662.4h2.9v1.3h-2.9zM169.7 662.4h3.0v1.3h-3.0zM175.3 662.4h2.9v1.3h-2.9zM186.1 662.4h2.6v1.3h-2.6zM191.3 662.4h2.5v1.3h-2.5zM196.5 662.4h2.7v1.3h-2.7zM201.9 662.4h2.4v1.3h-2.4zM207.3 662.4h2.6v1.3h-2.6zM213.0 662.4h3.1v1.3h-3.1zM218.8 662.4h2.6v1.3h-2.6zM223.9 662.4h2.4v1.3h-2.4zM229.1 662.4h2.6v1.3h-2.6zM239.7 662.4h2.7v1.3h-2.7zM244.9 662.4h2.9v1.3h-2.9zM250.6 662.4h2.6v1.3h-2.6zM261.7 662.4h2.5v1.3h-2.5zM266.6 662.4h2.6v1.3h-2.6zM271.7 662.4h2.6v1.3h-2.6zM277.2 662.4h2.9v1.3h-2.9zM282.7 662.4h3.1v1.3h-3.1zM288.2 662.4h3.0v1.3h-3.0zM294.0 662.4h2.5v1.3h-2.5zM304.7 662.4h3.0v1.3h-3.0zM310.1 662.4h3.1v1.3h-3.1zM315.9 662.4h2.7v1.3h-2.7zM326.2 662.4h2.7v1.3h-2.7zM331.7 662.4h3.2v1.3h-3.2zM337.8 662.4h2.8v1.3h-2.8zM343.3 662.4h2.6v1.3h-2.6zM348.4 662.4h2.4v1.3h-2.4zM353.8 662.4h2.9v1.3h-2.9zM365.0 662.4h3.0v1.3h-3.0zM370.7 662.4h2.9v1.3h-2.9zM376.5 662.4h3.0v1.3h-3.0zM382.5 662.4h2.6v1.3h-2.6zM387.8 662.4h3.1v1.3h-3.1zM393.9 662.4h3.1v1.3h-3.1zM78.2 665.0h11.9v1.3h-11.9zM100.7 665.0h12.4v1.3h-12.4zM114.2 665.0h14.9v1.3h-14.9zM129.9 665.0h8.3v1.3h-8.3zM139.6 665.0h14.7v1.3h-14.7zM155.1 665.0h8.3v1.3h-8.3zM164.4 665.0h5.9v1.3h-5.9zM171.3 665.0h5.4v1.3h-5.4zM178.1 665.0h7.1v1.3h-7.1zM186.0 665.0h10.9v1.3h-10.9zM197.6 665.0h11.9v1.3h-11.9zM210.9 665.0h9.3v1.3h-9.3zM220.7 665.0h6.8v1.3h-6.8zM244.3 665.0h8.5v1.3h-8.5zM254.1 665.0h11.7v1.3h-11.7zM267.2 665.0h9.3v1.3h-9.3zM277.8 665.0h6.1v1.3h-6.1zM285.0 665.0h12.2v1.3h-12.2zM298.4 665.0h15.8v1.3h-15.8zM315.4 665.0h12.3v1.3h-12.3zM329.0 665.0h7.8v1.3h-7.8zM337.7 665.0h8.6v1.3h-8.6zM347.1 665.0h8.4v1.3h-8.4zM356.6 665.0h15.3v1.3h-15.3zM372.4 665.0h12.2v1.3h-12.2zM385.8 665.0h5.2v1.3h-5.2zM392.3 665.0h5.7v1.3h-5.7zM78.5 666.5h6.7v1.3h-6.7zM86.1 666.5h15.4v1.3h-15.4zM102.0 666.5h15.3v1.3h-15.3zM117.9 666.5h15.1v1.3h-15.1zM134.5 666.5h6.9v1.3h-6.9zM142.8 666.5h11.9v1.3h-11.9zM156.0 666.5h5.3v1.3h-5.3zM180.4 666.5h14.9v1.3h-14.9zM196.6 666.5h10.5v1.3h-10.5zM208.1 666.5h14.8v1.3h-14.8zM224.2 666.5h5.7v1.3h-5.7zM244.4 666.5h15.7v1.3h-15.7zM260.9 666.5h12.6v1.3h-12.6zM274.9 666.5h10.2v1.3h-10.2zM286.5 666.5h9.4v1.3h-9.4zM296.7 666.5h8.5v1.3h-8.5zM313.5 666.5h10.5v1.3h-10.5zM324.6 666.5h14.8v1.3h-14.8zM340.1 666.5h10.9v1.3h-10.9zM352.3 666.5h9.5v1.3h-9.5zM362.7 666.5h12.9v1.3h-12.9zM376.9 666.5h14.4v1.3h-14.4zM392.1 666.5h5.1v1.3h-5.1zM77.9 668.0h6.6v1.3h-6.6zM115.9 668.0h3.7v1.3h-3.7zM129.5 668.0h6.0v1.3h-6.0zM136.9 668.0h7.3v1.3h-7.3zM157.2 668.0h3.4v1.3h-3.4zM161.7 668.0h4.4v1.3h-4.4zM175.2 668.0h8.1v1.3h-8.1zM184.0 668.0h8.1v1.3h-8.1zM192.6 668.0h4.7v1.3h-4.7zM198.8 668.0h8.6v1.3h-8.6zM233.1 668.0h8.4v1.3h-8.4zM252.9 668.0h8.7v1.3h-8.7zM262.5 668.0h7.6v1.3h-7.6zM285.1 668.0h5.9v1.3h-5.9zM319.0 668.0h4.3v1.3h-4.3zM324.6 668.0h4.6v1.3h-4.6zM330.6 668.0h4.6v1.3h-4.6zM368.3 668.0h6.7v1.3h-6.7zM376.1 668.0h3.7v1.3h-3.7zM393.8 668.0h4.2v1.3h-4.2zM88.2 672.2h13.0v1.3h-13.0zM127.4 672.2h6.8v1.3h-6.8zM145.2 672.2h12.0v1.3h-12.0zM257.2 672.2h10.0v1.3h-10.0zM338.9 672.2h8.0v1.3h-8.0zM388.7 672.2h5.2v1.3h-5.2zM395.1 672.2h2.9v1.3h-2.9zM90.6 674.0h7.4v1.3h-7.4zM120.4 674.0h7.2v1.3h-7.2zM134.8 674.0h7.3v1.3h-7.3zM148.7 674.0h4.6v1.3h-4.6zM235.8 674.0h4.6v1.3h-4.6zM240.8 674.0h5.6v1.3h-5.6zM247.6 674.0h6.1v1.3h-6.1zM333.7 674.0h5.0v1.3h-5.0z"/>
<path fill="#fff" fill-opacity="0.8" d="M399.7 172.4h14.4v1.2h-14.4zM434.7 172.4h24.4v1.2h-24.4zM498.3 172.4h15.9v1.2h-15.9zM539.1 172.4h22.4v1.2h-22.4zM563.9 172.4h8.6v1.2h-8.6zM619.6 172.4h23.8v1.2h-23.8zM663.2 172.4h13.1v1.2h-13.1zM679.1 172.4h26.4v1.2h-26.4zM719.3 172.4h30.0v1.2h-30.0zM750.0 172.4h12.8v1.2h-12.8zM797.0 172.4h11.1v1.2h-11.1zM809.0 172.4h22.0v1.2h-22.0zM833.9 172.4h26.7v1.2h-26.7zM861.7 172.4h16.2v1.2h-16.2zM879.9 172.4h26.3v1.2h-26.3zM907.1 172.4h7.9v1.2h-7.9zM400.7 173.9h9.4v1.2h-9.4zM412.9 173.9h11.9v1.2h-11.9zM436.5 173.9h20.5v1.2h-20.5zM458.9 173.9h19.4v1.2h-19.4zM480.1 173.9h21.8v1.2h-21.8zM503.4 173.9h21.4v1.2h-21.4zM527.3 173.9h23.9v1.2h-23.9zM553.3 173.9h20.4v1.2h-20.4zM575.2 173.9h22.4v1.2h-22.4zM600.3 173.9h19.7v1.2h-19.7zM622.6 173.9h12.9v1.2h-12.9zM637.7 173.9h11.2v1.2h-11.2zM650.8 173.9h28.7v1.2h-28.7zM680.7 173.9h17.7v1.2h-17.7zM699.5 173.9h29.3v1.2h-29.3zM746.1 173.9h12.1v1.2h-12.1zM760.5 173.9h13.0v1.2h-13.0zM775.4 173.9h23.3v1.2h-23.3zM824.1 173.9h25.6v1.2h-25.6zM897.1 173.9h17.9v1.2h-17.9zM400.9 175.4h12.2v1.2h-12.2zM413.9 175.4h16.2v1.2h-16.2zM431.6 175.4h9.0v1.2h-9.0zM442.9 175.4h29.0v1.2h-29.0zM484.4 175.4h29.7v1.2h-29.7zM514.9 175.4h24.0v1.2h-24.0zM540.4 175.4h26.5v1.2h-26.5zM569.2 175.4h8.3v1.2h-8.3zM578.6 175.4h19.3v1.2h-19.3zM599.3 175.4h18.8v1.2h-18.8zM619.4 175.4h15.8v1.2h-15.8zM647.1 175.4h15.8v1.2h-15.8zM663.4 175.4h29.8v1.2h-29.8zM695.7 175.4h18.7v1.2h-18.7zM729.5 175.4h22.7v1.2h-22.7zM770.2 175.4h13.9v1.2h-13.9zM784.6 175.4h29.9v1.2h-29.9zM816.2 175.4h8.7v1.2h-8.7zM825.6 175.4h21.6v1.2h-21.6zM878.0 175.4h17.9v1.2h-17.9zM898.8 175.4h16.2v1.2h-16.2zM398.9 176.9h10.9v1.2h-10.9zM410.8 176.9h26.0v1.2h-26.0zM457.8 176.9h15.4v1.2h-15.4zM489.7 176.9h21.9v1.2h-21.9zM512.5 176.9h16.5v1.2h-16.5zM531.9 176.9h15.9v1.2h-15.9zM549.7 176.9h11.1v1.2h-11.1zM563.6 176.9h27.9v1.2h-27.9zM592.4 176.9h17.4v1.2h-17.4zM610.5 176.9h25.4v1.2h-25.4zM637.1 176.9h25.5v1.2h-25.5zM663.3 176.9h29.2v1.2h-29.2zM693.9 176.9h26.8v1.2h-26.8zM723.3 176.9h23.7v1.2h-23.7zM796.2 176.9h29.9v1.2h-29.9zM827.1 176.9h27.6v1.2h-27.6zM856.2 176.9h16.7v1.2h-16.7zM875.7 176.9h20.9v1.2h-20.9zM898.9 176.9h13.5v1.2h-13.5zM914.6 176.9h0.4v1.2h-0.4zM400.8 178.4h20.9v1.2h-20.9zM470.0 178.4h15.0v1.2h-15.0zM509.9 178.4h13.2v1.2h-13.2zM542.8 178.4h19.0v1.2h-19.0zM562.9 178.4h9.2v1.2h-9.2zM584.3 178.4h23.8v1.2h-23.8zM609.3 178.4h22.1v1.2h-22.1zM632.8 178.4h8.6v1.2h-8.6zM644.0 178.4h8.6v1.2h-8.6zM654.7 178.4h25.6v1.2h-25.6zM682.9 178.4h25.5v1.2h-25.5zM766.3 178.4h15.0v1.2h-15.0zM782.6 178.4h17.1v1.2h-17.1zM802.3 178.4h11.4v1.2h-11.4zM835.8 178.4h16.0v1.2h-16.0zM853.9 178.4h27.0v1.2h-27.0zM884.0 178.4h20.6v1.2h-20.6zM906.6 178.4h8.4v1.2h-8.4zM399.9 179.9h22.3v1.2h-22.3zM424.5 179.9h20.3v1.2h-20.3zM446.7 179.9h14.0v1.2h-14.0zM475.7 179.9h11.3v1.2h-11.3zM520.1 179.9h10.7v1.2h-10.7zM531.8 179.9h25.1v1.2h-25.1zM631.8 179.9h26.9v1.2h-26.9zM661.5 179.9h27.8v1.2h-27.8zM690.4 179.9h25.4v1.2h-25.4zM729.0 179.9h22.8v1.2h-22.8zM803.2 179.9h15.8v1.2h-15.8zM899.2 179.9h11.0v1.2h-11.0zM433.2 181.4h24.2v1.2h-24.2zM459.8 181.4h17.7v1.2h-17.7zM582.9 181.4h16.7v1.2h-16.7zM602.4 181.4h20.9v1.2h-20.9zM625.3 181.4h8.3v1.2h-8.3zM681.7 181.4h19.6v1.2h-19.6zM756.5 181.4h29.1v1.2h-29.1zM853.3 181.4h13.9v1.2h-13.9zM867.8 181.4h18.0v1.2h-18.0zM906.5 181.4h8.5v1.2h-8.5zM510.3 182.9h21.7v1.2h-21.7zM694.1 182.9h26.2v1.2h-26.2zM781.7 182.9h30.0v1.2h-30.0zM814.1 182.9h16.0v1.2h-16.0zM848.0 182.9h22.6v1.2h-22.6zM915.0 174.5h20.0v1.0h-20.0zM915.0 175.9h20.0v1.0h-20.0zM915.0 177.4h20.0v1.0h-20.0zM915.0 178.8h20.0v1.0h-20.0zM915.0 180.3h20.0v1.0h-20.0zM915.0 181.7h20.0v1.0h-20.0zM915.0 183.2h20.0v1.0h-20.0zM915.0 184.6h20.0v1.0h-20.0z"/>
<path fill="#fff" fill-opacity="0.75" d="M432.9 185.6h6.6v1.1h-6.6zM454.9 185.6h6.8v1.1h-6.8zM669.5 185.6h6.6v1.1h-6.6zM740.2 185.6h4.0v1.1h-4.0zM745.7 185.6h8.1v1.1h-8.1zM790.7 185.6h6.5v1.1h-6.5zM832.0 185.6h5.0v1.1h-5.0zM393.6 612.6h1.3v1.0h-1.3zM395.6 612.6h1.3v1.0h-1.3zM397.6 612.6h1.3v1.0h-1.3zM401.6 612.6h1.3v1.0h-1.3zM403.6 612.6h1.3v1.0h-1.3zM405.6 612.6h1.3v1.0h-1.3zM409.6 612.6h1.3v1.0h-1.3zM411.6 612.6h1.3v1.0h-1.3zM413.6 612.6h1.3v1.0h-1.3zM415.6 612.6h1.3v1.0h-1.3zM417.6 612.6h1.3v1.0h-1.3zM419.6 612.6h1.3v1.0h-1.3zM421.6 612.6h1.3v1.0h-1.3zM425.6 612.6h1.3v1.0h-1.3zM427.6 612.6h1.3v1.0h-1.3zM429.6 612.6h1.3v1.0h-1.3zM435.6 612.6h1.3v1.0h-1.3zM437.6 612.6h1.3v1.0h-1.3zM441.6 612.6h1.3v1.0h-1.3zM443.6 612.6h1.3v1.0h-1.3zM445.6 612.6h1.3v1.0h-1.3zM449.6 612.6h1.3v1.0h-1.3zM451.6 612.6h1.3v1.0h-1.3zM453.6 612.6h1.3v1.0h-1.3zM455.6 612.6h1.3v1.0h-1.3zM457.6 612.6h1.3v1.0h-1.3zM461.6 612.6h1.3v1.0h-1.3zM463.6 612.6h1.3v1.0h-1.3zM467.6 612.6h1.3v1.0h-1.3zM469.6 612.6h1.3v1.0h-1.3zM471.6 612.6h1.3v1.0h-1.3zM473.6 612.6h1.3v1.0h-1.3zM477.6 612.6h1.3v1.0h-1.3zM479.6 612.6h1.3v1.0h-1.3zM481.6 612.6h1.3v1.0h-1.3zM483.6 612.6h1.3v1.0h-1.3zM487.6 612.6h1.3v1.0h-1.3zM489.6 612.6h1.3v1.0h-1.3zM491.6 612.6h1.3v1.0h-1.3zM493.6 612.6h1.3v1.0h-1.3zM495.6 612.6h1.3v1.0h-1.3zM497.6 612.6h1.3v1.0h-1.3zM501.6 612.6h1.3v1.0h-1.3zM503.6 612.6h1.3v1.0h-1.3zM505.6 612.6h1.3v1.0h-1.3zM507.6 612.6h1.3v1.0h-1.3zM509.6 612.6h1.3v1.0h-1.3zM513.6 612.6h1.3v1.0h-1.3zM515.6 612.6h1.3v1.0h-1.3zM517.6 612.6h1.3v1.0h-1.3zM521.6 612.6h1.3v1.0h-1.3zM525.6 612.6h1.3v1.0h-1.3zM527.6 612.6h1.3v1.0h-1.3zM529.6 612.6h1.3v1.0h-1.3zM533.6 612.6h1.3v1.0h-1.3zM535.6 612.6h1.3v1.0h-1.3zM537.6 612.6h1.3v1.0h-1.3zM539.6 612.6h1.3v1.0h-1.3zM541.6 612.6h1.3v1.0h-1.3zM543.6 612.6h1.3v1.0h-1.3zM547.6 612.6h1.3v1.0h-1.3zM549.6 612.6h1.3v1.0h-1.3zM551.6 612.6h1.3v1.0h-1.3zM553.6 612.6h1.3v1.0h-1.3zM557.6 612.6h1.3v1.0h-1.3zM559.6 612.6h1.3v1.0h-1.3zM565.6 612.6h1.3v1.0h-1.3zM567.6 612.6h1.3v1.0h-1.3zM569.6 612.6h1.3v1.0h-1.3zM571.6 612.6h1.3v1.0h-1.3zM573.6 612.6h1.3v1.0h-1.3zM575.6 612.6h1.3v1.0h-1.3zM579.6 612.6h1.3v1.0h-1.3zM581.6 612.6h1.3v1.0h-1.3zM583.6 612.6h1.3v1.0h-1.3zM585.6 612.6h1.3v1.0h-1.3zM589.6 612.6h1.3v1.0h-1.3zM591.6 612.6h1.3v1.0h-1.3zM593.6 612.6h1.3v1.0h-1.3zM595.6 612.6h1.3v1.0h-1.3zM603.6 612.6h1.3v1.0h-1.3zM605.6 612.6h1.3v1.0h-1.3zM607.6 612.6h1.3v1.0h-1.3zM609.6 612.6h1.3v1.0h-1.3zM611.6 612.6h1.3v1.0h-1.3zM613.6 612.6h1.3v1.0h-1.3zM619.6 612.6h1.3v1.0h-1.3zM621.6 612.6h1.3v1.0h-1.3zM623.6 612.6h1.3v1.0h-1.3zM625.6 612.6h1.3v1.0h-1.3zM627.6 612.6h1.3v1.0h-1.3zM629.6 612.6h1.3v1.0h-1.3zM631.6 612.6h1.3v1.0h-1.3zM633.6 612.6h1.3v1.0h-1.3zM635.6 612.6h1.3v1.0h-1.3zM637.6 612.6h1.3v1.0h-1.3zM639.6 612.6h1.3v1.0h-1.3zM641.6 612.6h1.3v1.0h-1.3zM643.6 612.6h1.3v1.0h-1.3zM645.6 612.6h1.3v1.0h-1.3zM647.6 612.6h1.3v1.0h-1.3zM649.6 612.6h1.3v1.0h-1.3zM651.6 612.6h1.3v1.0h-1.3zM653.6 612.6h1.3v1.0h-1.3zM655.6 612.6h1.3v1.0h-1.3zM659.6 612.6h1.3v1.0h-1.3zM661.6 612.6h1.3v1.0h-1.3zM663.6 612.6h1.3v1.0h-1.3zM665.6 612.6h1.3v1.0h-1.3zM667.6 612.6h1.3v1.0h-1.3zM669.6 612.6h1.3v1.0h-1.3zM671.6 612.6h1.3v1.0h-1.3zM673.6 612.6h1.3v1.0h-1.3zM675.6 612.6h1.3v1.0h-1.3zM677.6 612.6h1.3v1.0h-1.3zM679.6 612.6h1.3v1.0h-1.3zM681.6 612.6h1.3v1.0h-1.3zM683.6 612.6h1.3v1.0h-1.3zM685.6 612.6h1.3v1.0h-1.3zM687.6 612.6h1.3v1.0h-1.3zM689.6 612.6h1.3v1.0h-1.3zM691.6 612.6h1.3v1.0h-1.3zM693.6 612.6h1.3v1.0h-1.3zM695.6 612.6h1.3v1.0h-1.3zM697.6 612.6h1.3v1.0h-1.3zM699.6 612.6h1.3v1.0h-1.3zM705.6 612.6h1.3v1.0h-1.3zM707.6 612.6h1.3v1.0h-1.3zM709.6 612.6h1.3v1.0h-1.3zM711.6 612.6h1.3v1.0h-1.3zM713.6 612.6h1.3v1.0h-1.3zM715.6 612.6h1.3v1.0h-1.3zM717.6 612.6h1.3v1.0h-1.3zM719.6 612.6h1.3v1.0h-1.3zM721.6 612.6h1.3v1.0h-1.3zM723.6 612.6h1.3v1.0h-1.3zM725.6 612.6h1.3v1.0h-1.3zM727.6 612.6h1.3v1.0h-1.3zM729.6 612.6h1.3v1.0h-1.3zM731.6 612.6h1.3v1.0h-1.3zM733.6 612.6h1.3v1.0h-1.3zM735.6 612.6h1.3v1.0h-1.3zM737.6 612.6h1.3v1.0h-1.3zM739.6 612.6h1.3v1.0h-1.3zM741.6 612.6h1.3v1.0h-1.3zM743.6 612.6h1.3v1.0h-1.3zM745.6 612.6h1.3v1.0h-1.3zM747.6 612.6h1.3v1.0h-1.3zM749.6 612.6h1.3v1.0h-1.3zM751.6 612.6h1.3v1.0h-1.3zM753.6 612.6h1.3v1.0h-1.3zM755.6 612.6h1.3v1.0h-1.3zM757.6 612.6h1.3v1.0h-1.3zM759.6 612.6h1.3v1.0h-1.3zM761.6 612.6h1.3v1.0h-1.3zM763.6 612.6h1.3v1.0h-1.3zM765.6 612.6h1.3v1.0h-1.3zM767.6 612.6h1.3v1.0h-1.3zM769.6 612.6h1.3v1.0h-1.3zM773.6 612.6h1.3v1.0h-1.3zM775.6 612.6h1.3v1.0h-1.3zM779.6 612.6h1.3v1.0h-1.3zM781.6 612.6h1.3v1.0h-1.3zM783.6 612.6h1.3v1.0h-1.3zM785.6 612.6h1.3v1.0h-1.3zM787.6 612.6h1.3v1.0h-1.3zM789.6 612.6h1.3v1.0h-1.3zM793.6 612.6h1.3v1.0h-1.3zM795.6 612.6h1.3v1.0h-1.3zM797.6 612.6h1.3v1.0h-1.3zM799.6 612.6h1.3v1.0h-1.3zM801.6 612.6h1.3v1.0h-1.3zM805.6 612.6h1.3v1.0h-1.3zM807.6 612.6h1.3v1.0h-1.3zM811.6 612.6h1.3v1.0h-1.3zM813.6 612.6h1.3v1.0h-1.3zM815.6 612.6h1.3v1.0h-1.3zM817.6 612.6h1.3v1.0h-1.3zM819.6 612.6h1.3v1.0h-1.3zM821.6 612.6h1.3v1.0h-1.3zM823.6 612.6h1.3v1.0h-1.3zM825.6 612.6h1.3v1.0h-1.3zM827.6 612.6h1.3v1.0h-1.3zM829.6 612.6h1.3v1.0h-1.3zM831.6 612.6h1.3v1.0h-1.3zM833.6 612.6h1.3v1.0h-1.3zM835.6 612.6h1.3v1.0h-1.3zM837.6 612.6h1.3v1.0h-1.3zM841.6 612.6h1.3v1.0h-1.3zM843.6 612.6h1.3v1.0h-1.3zM845.6 612.6h1.3v1.0h-1.3zM847.6 612.6h1.3v1.0h-1.3zM849.6 612.6h1.3v1.0h-1.3zM851.6 612.6h1.3v1.0h-1.3zM853.6 612.6h1.3v1.0h-1.3zM855.6 612.6h1.3v1.0h-1.3zM857.6 612.6h1.3v1.0h-1.3zM859.6 612.6h1.3v1.0h-1.3zM861.6 612.6h1.3v1.0h-1.3zM867.6 612.6h1.3v1.0h-1.3zM869.6 612.6h1.3v1.0h-1.3zM871.6 612.6h1.3v1.0h-1.3zM873.6 612.6h1.3v1.0h-1.3zM875.6 612.6h1.3v1.0h-1.3zM877.6 612.6h1.3v1.0h-1.3zM879.6 612.6h1.3v1.0h-1.3zM881.6 612.6h1.3v1.0h-1.3zM885.6 612.6h1.3v1.0h-1.3zM887.6 612.6h1.3v1.0h-1.3zM889.6 612.6h1.3v1.0h-1.3zM393.5 614.1h1.3v1.0h-1.3zM395.5 614.1h1.3v1.0h-1.3zM399.5 614.1h1.3v1.0h-1.3zM401.5 614.1h1.3v1.0h-1.3zM403.5 614.1h1.3v1.0h-1.3zM405.5 614.1h1.3v1.0h-1.3zM407.5 614.1h1.3v1.0h-1.3zM409.5 614.1h1.3v1.0h-1.3zM411.5 614.1h1.3v1.0h-1.3zM413.5 614.1h1.3v1.0h-1.3zM415.5 614.1h1.3v1.0h-1.3zM417.5 614.1h1.3v1.0h-1.3zM419.5 614.1h1.3v1.0h-1.3zM421.5 614.1h1.3v1.0h-1.3zM423.5 614.1h1.3v1.0h-1.3zM427.5 614.1h1.3v1.0h-1.3zM429.5 614.1h1.3v1.0h-1.3zM431.5 614.1h1.3v1.0h-1.3zM433.5 614.1h1.3v1.0h-1.3zM435.5 614.1h1.3v1.0h-1.3zM437.5 614.1h1.3v1.0h-1.3zM439.5 614.1h1.3v1.0h-1.3zM441.5 614.1h1.3v1.0h-1.3zM443.5 614.1h1.3v1.0h-1.3zM447.5 614.1h1.3v1.0h-1.3zM449.5 614.1h1.3v1.0h-1.3zM453.5 614.1h1.3v1.0h-1.3zM455.5 614.1h1.3v1.0h-1.3zM457.5 614.1h1.3v1.0h-1.3zM459.5 614.1h1.3v1.0h-1.3zM461.5 614.1h1.3v1.0h-1.3zM463.5 614.1h1.3v1.0h-1.3zM465.5 614.1h1.3v1.0h-1.3zM467.5 614.1h1.3v1.0h-1.3zM469.5 614.1h1.3v1.0h-1.3zM471.5 614.1h1.3v1.0h-1.3zM473.5 614.1h1.3v1.0h-1.3zM475.5 614.1h1.3v1.0h-1.3zM477.5 614.1h1.3v1.0h-1.3zM479.5 614.1h1.3v1.0h-1.3zM483.5 614.1h1.3v1.0h-1.3zM487.5 614.1h1.3v1.0h-1.3zM489.5 614.1h1.3v1.0h-1.3zM491.5 614.1h1.3v1.0h-1.3zM493.5 614.1h1.3v1.0h-1.3zM495.5 614.1h1.3v1.0h-1.3zM497.5 614.1h1.3v1.0h-1.3zM499.5 614.1h1.3v1.0h-1.3zM501.5 614.1h1.3v1.0h-1.3zM503.5 614.1h1.3v1.0h-1.3zM505.5 614.1h1.3v1.0h-1.3zM507.5 614.1h1.3v1.0h-1.3zM509.5 614.1h1.3v1.0h-1.3zM511.5 614.1h1.3v1.0h-1.3zM513.5 614.1h1.3v1.0h-1.3zM515.5 614.1h1.3v1.0h-1.3zM517.5 614.1h1.3v1.0h-1.3zM519.5 614.1h1.3v1.0h-1.3zM521.5 614.1h1.3v1.0h-1.3zM523.5 614.1h1.3v1.0h-1.3zM527.5 614.1h1.3v1.0h-1.3zM529.5 614.1h1.3v1.0h-1.3zM531.5 614.1h1.3v1.0h-1.3zM533.5 614.1h1.3v1.0h-1.3zM535.5 614.1h1.3v1.0h-1.3zM537.5 614.1h1.3v1.0h-1.3zM539.5 614.1h1.3v1.0h-1.3zM541.5 614.1h1.3v1.0h-1.3zM543.5 614.1h1.3v1.0h-1.3zM545.5 614.1h1.3v1.0h-1.3zM547.5 614.1h1.3v1.0h-1.3zM549.5 614.1h1.3v1.0h-1.3zM551.5 614.1h1.3v1.0h-1.3zM553.5 614.1h1.3v1.0h-1.3zM555.5 614.1h1.3v1.0h-1.3zM557.5 614.1h1.3v1.0h-1.3zM563.5 614.1h1.3v1.0h-1.3zM565.5 614.1h1.3v1.0h-1.3zM569.5 614.1h1.3v1.0h-1.3zM571.5 614.1h1.3v1.0h-1.3zM573.5 614.1h1.3v1.0h-1.3zM575.5 614.1h1.3v1.0h-1.3zM577.5 614.1h1.3v1.0h-1.3zM579.5 614.1h1.3v1.0h-1.3zM585.5 614.1h1.3v1.0h-1.3zM587.5 614.1h1.3v1.0h-1.3zM589.5 614.1h1.3v1.0h-1.3zM591.5 614.1h1.3v1.0h-1.3zM593.5 614.1h1.3v1.0h-1.3zM595.5 614.1h1.3v1.0h-1.3zM597.5 614.1h1.3v1.0h-1.3zM599.5 614.1h1.3v1.0h-1.3zM601.5 614.1h1.3v1.0h-1.3zM605.5 614.1h1.3v1.0h-1.3zM607.5 614.1h1.3v1.0h-1.3zM609.5 614.1h1.3v1.0h-1.3zM611.5 614.1h1.3v1.0h-1.3zM613.5 614.1h1.3v1.0h-1.3zM615.5 614.1h1.3v1.0h-1.3zM617.5 614.1h1.3v1.0h-1.3zM619.5 614.1h1.3v1.0h-1.3zM621.5 614.1h1.3v1.0h-1.3zM623.5 614.1h1.3v1.0h-1.3zM625.5 614.1h1.3v1.0h-1.3zM629.5 614.1h1.3v1.0h-1.3zM633.5 614.1h1.3v1.0h-1.3zM637.5 614.1h1.3v1.0h-1.3zM639.5 614.1h1.3v1.0h-1.3zM641.5 614.1h1.3v1.0h-1.3zM643.5 614.1h1.3v1.0h-1.3zM645.5 614.1h1.3v1.0h-1.3zM647.5 614.1h1.3v1.0h-1.3zM649.5 614.1h1.3v1.0h-1.3zM651.5 614.1h1.3v1.0h-1.3zM653.5 614.1h1.3v1.0h-1.3zM657.5 614.1h1.3v1.0h-1.3zM661.5 614.1h1.3v1.0h-1.3zM663.5 614.1h1.3v1.0h-1.3zM665.5 614.1h1.3v1.0h-1.3zM667.5 614.1h1.3v1.0h-1.3zM669.5 614.1h1.3v1.0h-1.3zM673.5 614.1h1.3v1.0h-1.3zM675.5 614.1h1.3v1.0h-1.3zM677.5 614.1h1.3v1.0h-1.3zM679.5 614.1h1.3v1.0h-1.3zM681.5 614.1h1.3v1.0h-1.3zM683.5 614.1h1.3v1.0h-1.3zM685.5 614.1h1.3v1.0h-1.3zM687.5 614.1h1.3v1.0h-1.3zM689.5 614.1h1.3v1.0h-1.3zM691.5 614.1h1.3v1.0h-1.3zM693.5 614.1h1.3v1.0h-1.3zM695.5 614.1h1.3v1.0h-1.3zM697.5 614.1h1.3v1.0h-1.3zM699.5 614.1h1.3v1.0h-1.3zM701.5 614.1h1.3v1.0h-1.3zM703.5 614.1h1.3v1.0h-1.3zM707.5 614.1h1.3v1.0h-1.3zM711.5 614.1h1.3v1.0h-1.3zM715.5 614.1h1.3v1.0h-1.3zM717.5 614.1h1.3v1.0h-1.3zM719.5 614.1h1.3v1.0h-1.3zM721.5 614.1h1.3v1.0h-1.3zM723.5 614.1h1.3v1.0h-1.3zM725.5 614.1h1.3v1.0h-1.3zM727.5 614.1h1.3v1.0h-1.3zM729.5 614.1h1.3v1.0h-1.3zM731.5 614.1h1.3v1.0h-1.3zM733.5 614.1h1.3v1.0h-1.3zM737.5 614.1h1.3v1.0h-1.3zM739.5 614.1h1.3v1.0h-1.3zM741.5 614.1h1.3v1.0h-1.3zM743.5 614.1h1.3v1.0h-1.3zM745.5 614.1h1.3v1.0h-1.3zM751.5 614.1h1.3v1.0h-1.3zM753.5 614.1h1.3v1.0h-1.3zM755.5 614.1h1.3v1.0h-1.3zM757.5 614.1h1.3v1.0h-1.3zM759.5 614.1h1.3v1.0h-1.3zM761.5 614.1h1.3v1.0h-1.3zM765.5 614.1h1.3v1.0h-1.3zM767.5 614.1h1.3v1.0h-1.3zM769.5 614.1h1.3v1.0h-1.3zM771.5 614.1h1.3v1.0h-1.3zM773.5 614.1h1.3v1.0h-1.3zM775.5 614.1h1.3v1.0h-1.3zM777.5 614.1h1.3v1.0h-1.3zM779.5 614.1h1.3v1.0h-1.3zM781.5 614.1h1.3v1.0h-1.3zM783.5 614.1h1.3v1.0h-1.3zM785.5 614.1h1.3v1.0h-1.3zM787.5 614.1h1.3v1.0h-1.3zM789.5 614.1h1.3v1.0h-1.3zM791.5 614.1h1.3v1.0h-1.3zM793.5 614.1h1.3v1.0h-1.3zM795.5 614.1h1.3v1.0h-1.3zM797.5 614.1h1.3v1.0h-1.3zM799.5 614.1h1.3v1.0h-1.3zM807.5 614.1h1.3v1.0h-1.3zM809.5 614.1h1.3v1.0h-1.3zM813.5 614.1h1.3v1.0h-1.3zM815.5 614.1h1.3v1.0h-1.3zM817.5 614.1h1.3v1.0h-1.3zM819.5 614.1h1.3v1.0h-1.3zM821.5 614.1h1.3v1.0h-1.3zM823.5 614.1h1.3v1.0h-1.3zM825.5 614.1h1.3v1.0h-1.3zM827.5 614.1h1.3v1.0h-1.3zM829.5 614.1h1.3v1.0h-1.3zM831.5 614.1h1.3v1.0h-1.3zM835.5 614.1h1.3v1.0h-1.3zM837.5 614.1h1.3v1.0h-1.3zM839.5 614.1h1.3v1.0h-1.3zM841.5 614.1h1.3v1.0h-1.3zM843.5 614.1h1.3v1.0h-1.3zM845.5 614.1h1.3v1.0h-1.3zM847.5 614.1h1.3v1.0h-1.3zM849.5 614.1h1.3v1.0h-1.3zM851.5 614.1h1.3v1.0h-1.3zM853.5 614.1h1.3v1.0h-1.3zM855.5 614.1h1.3v1.0h-1.3zM857.5 614.1h1.3v1.0h-1.3zM859.5 614.1h1.3v1.0h-1.3zM861.5 614.1h1.3v1.0h-1.3zM863.5 614.1h1.3v1.0h-1.3zM865.5 614.1h1.3v1.0h-1.3zM869.5 614.1h1.3v1.0h-1.3zM873.5 614.1h1.3v1.0h-1.3zM875.5 614.1h1.3v1.0h-1.3zM879.5 614.1h1.3v1.0h-1.3zM881.5 614.1h1.3v1.0h-1.3zM883.5 614.1h1.3v1.0h-1.3zM885.5 614.1h1.3v1.0h-1.3zM889.5 614.1h1.3v1.0h-1.3zM392.8 615.7h1.3v1.0h-1.3zM394.8 615.7h1.3v1.0h-1.3zM396.8 615.7h1.3v1.0h-1.3zM398.8 615.7h1.3v1.0h-1.3zM402.8 615.7h1.3v1.0h-1.3zM406.8 615.7h1.3v1.0h-1.3zM408.8 615.7h1.3v1.0h-1.3zM410.8 615.7h1.3v1.0h-1.3zM412.8 615.7h1.3v1.0h-1.3zM414.8 615.7h1.3v1.0h-1.3zM416.8 615.7h1.3v1.0h-1.3zM418.8 615.7h1.3v1.0h-1.3zM420.8 615.7h1.3v1.0h-1.3zM422.8 615.7h1.3v1.0h-1.3zM424.8 615.7h1.3v1.0h-1.3zM428.8 615.7h1.3v1.0h-1.3zM430.8 615.7h1.3v1.0h-1.3zM432.8 615.7h1.3v1.0h-1.3zM434.8 615.7h1.3v1.0h-1.3zM438.8 615.7h1.3v1.0h-1.3zM442.8 615.7h1.3v1.0h-1.3zM444.8 615.7h1.3v1.0h-1.3zM446.8 615.7h1.3v1.0h-1.3zM448.8 615.7h1.3v1.0h-1.3zM450.8 615.7h1.3v1.0h-1.3zM452.8 615.7h1.3v1.0h-1.3zM454.8 615.7h1.3v1.0h-1.3zM458.8 615.7h1.3v1.0h-1.3zM460.8 615.7h1.3v1.0h-1.3zM462.8 615.7h1.3v1.0h-1.3zM464.8 615.7h1.3v1.0h-1.3zM466.8 615.7h1.3v1.0h-1.3zM468.8 615.7h1.3v1.0h-1.3zM470.8 615.7h1.3v1.0h-1.3zM472.8 615.7h1.3v1.0h-1.3zM474.8 615.7h1.3v1.0h-1.3zM478.8 615.7h1.3v1.0h-1.3zM480.8 615.7h1.3v1.0h-1.3zM482.8 615.7h1.3v1.0h-1.3zM488.8 615.7h1.3v1.0h-1.3zM492.8 615.7h1.3v1.0h-1.3zM494.8 615.7h1.3v1.0h-1.3zM496.8 615.7h1.3v1.0h-1.3zM498.8 615.7h1.3v1.0h-1.3zM500.8 615.7h1.3v1.0h-1.3zM506.8 615.7h1.3v1.0h-1.3zM508.8 615.7h1.3v1.0h-1.3zM510.8 615.7h1.3v1.0h-1.3zM512.8 615.7h1.3v1.0h-1.3zM514.8 615.7h1.3v1.0h-1.3zM520.8 615.7h1.3v1.0h-1.3zM522.8 615.7h1.3v1.0h-1.3zM524.8 615.7h1.3v1.0h-1.3zM526.8 615.7h1.3v1.0h-1.3zM528.8 615.7h1.3v1.0h-1.3zM530.8 615.7h1.3v1.0h-1.3zM532.8 615.7h1.3v1.0h-1.3zM534.8 615.7h1.3v1.0h-1.3zM538.8 615.7h1.3v1.0h-1.3zM540.8 615.7h1.3v1.0h-1.3zM544.8 615.7h1.3v1.0h-1.3zM546.8 615.7h1.3v1.0h-1.3zM548.8 615.7h1.3v1.0h-1.3zM550.8 615.7h1.3v1.0h-1.3zM552.8 615.7h1.3v1.0h-1.3zM554.8 615.7h1.3v1.0h-1.3zM556.8 615.7h1.3v1.0h-1.3zM560.8 615.7h1.3v1.0h-1.3zM562.8 615.7h1.3v1.0h-1.3zM568.8 615.7h1.3v1.0h-1.3zM572.8 615.7h1.3v1.0h-1.3zM574.8 615.7h1.3v1.0h-1.3zM576.8 615.7h1.3v1.0h-1.3zM578.8 615.7h1.3v1.0h-1.3zM580.8 615.7h1.3v1.0h-1.3zM582.8 615.7h1.3v1.0h-1.3zM584.8 615.7h1.3v1.0h-1.3zM586.8 615.7h1.3v1.0h-1.3zM588.8 615.7h1.3v1.0h-1.3zM590.8 615.7h1.3v1.0h-1.3zM592.8 615.7h1.3v1.0h-1.3zM594.8 615.7h1.3v1.0h-1.3zM596.8 615.7h1.3v1.0h-1.3zM598.8 615.7h1.3v1.0h-1.3zM604.8 615.7h1.3v1.0h-1.3zM608.8 615.7h1.3v1.0h-1.3zM610.8 615.7h1.3v1.0h-1.3zM612.8 615.7h1.3v1.0h-1.3zM614.8 615.7h1.3v1.0h-1.3zM618.8 615.7h1.3v1.0h-1.3zM620.8 615.7h1.3v1.0h-1.3zM622.8 615.7h1.3v1.0h-1.3zM624.8 615.7h1.3v1.0h-1.3zM628.8 615.7h1.3v1.0h-1.3zM634.8 615.7h1.3v1.0h-1.3zM636.8 615.7h1.3v1.0h-1.3zM638.8 615.7h1.3v1.0h-1.3zM640.8 615.7h1.3v1.0h-1.3zM642.8 615.7h1.3v1.0h-1.3zM644.8 615.7h1.3v1.0h-1.3zM646.8 615.7h1.3v1.0h-1.3zM648.8 615.7h1.3v1.0h-1.3zM652.8 615.7h1.3v1.0h-1.3zM654.8 615.7h1.3v1.0h-1.3zM656.8 615.7h1.3v1.0h-1.3zM658.8 615.7h1.3v1.0h-1.3zM660.8 615.7h1.3v1.0h-1.3zM662.8 615.7h1.3v1.0h-1.3zM668.8 615.7h1.3v1.0h-1.3zM670.8 615.7h1.3v1.0h-1.3zM672.8 615.7h1.3v1.0h-1.3zM674.8 615.7h1.3v1.0h-1.3zM676.8 615.7h1.3v1.0h-1.3zM678.8 615.7h1.3v1.0h-1.3zM680.8 615.7h1.3v1.0h-1.3zM682.8 615.7h1.3v1.0h-1.3zM684.8 615.7h1.3v1.0h-1.3zM686.8 615.7h1.3v1.0h-1.3zM688.8 615.7h1.3v1.0h-1.3zM690.8 615.7h1.3v1.0h-1.3zM692.8 615.7h1.3v1.0h-1.3zM694.8 615.7h1.3v1.0h-1.3zM700.8 615.7h1.3v1.0h-1.3zM702.8 615.7h1.3v1.0h-1.3zM704.8 615.7h1.3v1.0h-1.3zM706.8 615.7h1.3v1.0h-1.3zM708.8 615.7h1.3v1.0h-1.3zM714.8 615.7h1.3v1.0h-1.3zM716.8 615.7h1.3v1.0h-1.3zM718.8 615.7h1.3v1.0h-1.3zM720.8 615.7h1.3v1.0h-1.3zM724.8 615.7h1.3v1.0h-1.3zM726.8 615.7h1.3v1.0h-1.3zM730.8 615.7h1.3v1.0h-1.3zM732.8 615.7h1.3v1.0h-1.3zM734.8 615.7h1.3v1.0h-1.3zM736.8 615.7h1.3v1.0h-1.3zM738.8 615.7h1.3v1.0h-1.3zM740.8 615.7h1.3v1.0h-1.3zM742.8 615.7h1.3v1.0h-1.3zM744.8 615.7h1.3v1.0h-1.3zM748.8 615.7h1.3v1.0h-1.3zM750.8 615.7h1.3v1.0h-1.3zM752.8 615.7h1.3v1.0h-1.3zM754.8 615.7h1.3v1.0h-1.3zM756.8 615.7h1.3v1.0h-1.3zM758.8 615.7h1.3v1.0h-1.3zM760.8 615.7h1.3v1.0h-1.3zM762.8 615.7h1.3v1.0h-1.3zM766.8 615.7h1.3v1.0h-1.3zM768.8 615.7h1.3v1.0h-1.3zM770.8 615.7h1.3v1.0h-1.3zM772.8 615.7h1.3v1.0h-1.3zM774.8 615.7h1.3v1.0h-1.3zM776.8 615.7h1.3v1.0h-1.3zM778.8 615.7h1.3v1.0h-1.3zM780.8 615.7h1.3v1.0h-1.3zM784.8 615.7h1.3v1.0h-1.3zM786.8 615.7h1.3v1.0h-1.3zM788.8 615.7h1.3v1.0h-1.3zM790.8 615.7h1.3v1.0h-1.3zM792.8 615.7h1.3v1.0h-1.3zM794.8 615.7h1.3v1.0h-1.3zM796.8 615.7h1.3v1.0h-1.3zM798.8 615.7h1.3v1.0h-1.3zM800.8 615.7h1.3v1.0h-1.3zM802.8 615.7h1.3v1.0h-1.3zM804.8 615.7h1.3v1.0h-1.3zM806.8 615.7h1.3v1.0h-1.3zM808.8 615.7h1.3v1.0h-1.3zM810.8 615.7h1.3v1.0h-1.3zM812.8 615.7h1.3v1.0h-1.3zM814.8 615.7h1.3v1.0h-1.3zM816.8 615.7h1.3v1.0h-1.3zM818.8 615.7h1.3v1.0h-1.3zM820.8 615.7h1.3v1.0h-1.3zM822.8 615.7h1.3v1.0h-1.3zM824.8 615.7h1.3v1.0h-1.3zM826.8 615.7h1.3v1.0h-1.3zM828.8 615.7h1.3v1.0h-1.3zM830.8 615.7h1.3v1.0h-1.3zM832.8 615.7h1.3v1.0h-1.3zM834.8 615.7h1.3v1.0h-1.3zM836.8 615.7h1.3v1.0h-1.3zM838.8 615.7h1.3v1.0h-1.3zM840.8 615.7h1.3v1.0h-1.3zM842.8 615.7h1.3v1.0h-1.3zM844.8 615.7h1.3v1.0h-1.3zM846.8 615.7h1.3v1.0h-1.3zM848.8 615.7h1.3v1.0h-1.3zM850.8 615.7h1.3v1.0h-1.3zM852.8 615.7h1.3v1.0h-1.3zM854.8 615.7h1.3v1.0h-1.3zM856.8 615.7h1.3v1.0h-1.3zM858.8 615.7h1.3v1.0h-1.3zM860.8 615.7h1.3v1.0h-1.3zM862.8 615.7h1.3v1.0h-1.3zM864.8 615.7h1.3v1.0h-1.3zM866.8 615.7h1.3v1.0h-1.3zM868.8 615.7h1.3v1.0h-1.3zM870.8 615.7h1.3v1.0h-1.3zM872.8 615.7h1.3v1.0h-1.3zM874.8 615.7h1.3v1.0h-1.3zM878.8 615.7h1.3v1.0h-1.3zM880.8 615.7h1.3v1.0h-1.3zM884.8 615.7h1.3v1.0h-1.3zM886.8 615.7h1.3v1.0h-1.3zM888.8 615.7h1.3v1.0h-1.3z"/>
<path fill="#fff" fill-opacity="0.55" d="M95.0 234.9h1.4v1.1h-1.4zM97.5 235.3h1.4v1.1h-1.4zM100.0 234.9h1.4v1.1h-1.4zM102.5 234.9h1.4v1.1h-1.4zM105.0 234.9h1.4v1.1h-1.4zM107.5 234.9h1.4v1.1h-1.4zM110.0 234.9h1.4v1.1h-1.4zM112.5 234.9h1.4v1.1h-1.4zM157.0 234.9h1.4v1.1h-1.4zM159.5 234.9h1.4v1.1h-1.4zM162.0 234.9h1.4v1.1h-1.4zM181.0 234.9h1.4v1.1h-1.4zM183.5 234.9h1.4v1.1h-1.4zM186.0 234.9h1.4v1.1h-1.4zM188.5 234.9h1.4v1.1h-1.4zM191.0 234.9h1.4v1.1h-1.4zM193.5 234.9h1.4v1.1h-1.4zM196.0 234.9h1.4v1.1h-1.4zM198.5 234.9h1.4v1.1h-1.4zM201.0 234.9h1.4v1.1h-1.4zM245.0 234.9h1.4v1.1h-1.4zM247.5 235.3h1.4v1.1h-1.4zM250.0 234.9h1.4v1.1h-1.4zM269.0 234.9h1.4v1.1h-1.4zM288.0 234.9h1.4v1.1h-1.4zM333.0 235.3h1.4v1.1h-1.4zM335.5 234.9h1.4v1.1h-1.4zM338.0 234.9h1.4v1.1h-1.4zM357.0 234.9h1.4v1.1h-1.4zM359.5 234.9h1.4v1.1h-1.4zM362.0 235.3h1.4v1.1h-1.4zM364.5 234.9h1.4v1.1h-1.4zM367.0 235.3h1.4v1.1h-1.4zM369.5 235.3h1.4v1.1h-1.4zM372.0 235.3h1.4v1.1h-1.4zM374.5 234.9h1.4v1.1h-1.4zM377.0 235.3h1.4v1.1h-1.4zM421.0 234.9h1.4v1.1h-1.4zM423.5 235.3h1.4v1.1h-1.4zM426.0 235.3h1.4v1.1h-1.4zM445.0 235.3h1.4v1.1h-1.4zM447.5 234.9h1.4v1.1h-1.4zM450.0 235.3h1.4v1.1h-1.4zM452.5 234.9h1.4v1.1h-1.4zM455.0 234.9h1.4v1.1h-1.4zM457.5 234.9h1.4v1.1h-1.4zM460.0 234.9h1.4v1.1h-1.4zM462.5 234.9h1.4v1.1h-1.4zM465.0 234.9h1.4v1.1h-1.4zM509.0 234.9h1.4v1.1h-1.4zM511.5 234.9h1.4v1.1h-1.4zM514.0 234.9h1.4v1.1h-1.4zM533.0 235.3h1.4v1.1h-1.4zM535.5 235.3h1.4v1.1h-1.4zM538.0 234.9h1.4v1.1h-1.4zM540.5 235.3h1.4v1.1h-1.4zM543.0 234.9h1.4v1.1h-1.4zM545.5 235.3h1.4v1.1h-1.4zM548.0 234.9h1.4v1.1h-1.4zM550.5 234.9h1.4v1.1h-1.4zM553.0 234.9h1.4v1.1h-1.4zM597.0 234.9h1.4v1.1h-1.4zM599.5 235.3h1.4v1.1h-1.4zM602.0 235.3h1.4v1.1h-1.4zM621.0 234.9h1.4v1.1h-1.4zM623.5 234.9h1.4v1.1h-1.4zM626.0 234.9h1.4v1.1h-1.4zM628.5 235.3h1.4v1.1h-1.4zM631.0 234.9h1.4v1.1h-1.4zM633.5 235.3h1.4v1.1h-1.4zM636.0 234.9h1.4v1.1h-1.4zM638.5 234.9h1.4v1.1h-1.4zM641.0 235.3h1.4v1.1h-1.4zM685.0 234.9h1.4v1.1h-1.4zM687.5 235.3h1.4v1.1h-1.4zM690.0 234.9h1.4v1.1h-1.4zM932.0 235.3h1.4v1.1h-1.4zM934.5 234.9h1.4v1.1h-1.4zM937.0 234.9h1.4v1.1h-1.4zM939.5 234.9h1.4v1.1h-1.4zM981.2 235.3h1.4v1.1h-1.4zM983.7 234.9h1.4v1.1h-1.4zM986.2 234.9h1.4v1.1h-1.4zM1003.0 234.9h1.4v1.1h-1.4zM1005.5 234.9h1.4v1.1h-1.4zM1008.0 234.9h1.4v1.1h-1.4zM1010.5 234.9h1.4v1.1h-1.4zM1013.0 234.9h1.4v1.1h-1.4zM1015.5 234.9h1.4v1.1h-1.4zM1018.0 234.9h1.4v1.1h-1.4zM1020.5 234.9h1.4v1.1h-1.4zM1061.2 235.3h1.4v1.1h-1.4zM1063.7 234.9h1.4v1.1h-1.4zM1066.2 235.3h1.4v1.1h-1.4zM1083.0 235.3h1.4v1.1h-1.4zM1085.5 234.9h1.4v1.1h-1.4zM1088.0 234.9h1.4v1.1h-1.4zM1090.5 234.9h1.4v1.1h-1.4zM1093.0 235.3h1.4v1.1h-1.4zM1095.5 234.9h1.4v1.1h-1.4zM1098.0 235.3h1.4v1.1h-1.4zM1100.5 234.9h1.4v1.1h-1.4zM932.0 538.9h1.4v1.1h-1.4zM934.5 538.9h1.4v1.1h-1.4zM937.0 538.9h1.4v1.1h-1.4zM939.5 539.3h1.4v1.1h-1.4zM981.2 538.9h1.4v1.1h-1.4zM983.7 539.3h1.4v1.1h-1.4zM986.2 539.3h1.4v1.1h-1.4zM1003.0 538.9h1.4v1.1h-1.4zM1005.5 539.3h1.4v1.1h-1.4zM1008.0 539.3h1.4v1.1h-1.4zM1010.5 539.3h1.4v1.1h-1.4zM1013.0 538.9h1.4v1.1h-1.4zM1015.5 539.3h1.4v1.1h-1.4zM1018.0 538.9h1.4v1.1h-1.4zM1020.5 538.9h1.4v1.1h-1.4zM1061.2 538.9h1.4v1.1h-1.4zM1063.7 538.9h1.4v1.1h-1.4zM1066.2 538.9h1.4v1.1h-1.4zM1083.0 539.3h1.4v1.1h-1.4zM1085.5 539.3h1.4v1.1h-1.4zM1088.0 539.3h1.4v1.1h-1.4zM1090.5 538.9h1.4v1.1h-1.4zM1093.0 539.3h1.4v1.1h-1.4zM1095.5 538.9h1.4v1.1h-1.4zM1098.0 539.3h1.4v1.1h-1.4zM1100.5 538.9h1.4v1.1h-1.4zM300.0 613.0h1.1v1.0h-1.1zM302.2 613.0h1.1v1.0h-1.1zM304.3 614.0h1.1v1.0h-1.1zM306.5 614.0h1.1v1.0h-1.1zM308.6 613.0h1.1v1.0h-1.1zM310.8 613.0h1.1v1.0h-1.1zM312.9 614.0h1.1v1.0h-1.1zM315.1 613.0h1.1v1.0h-1.1zM317.2 613.0h1.1v1.0h-1.1zM321.5 614.0h1.1v1.0h-1.1zM332.3 614.0h1.1v1.0h-1.1zM336.6 614.0h1.1v1.0h-1.1zM338.7 614.0h1.1v1.0h-1.1zM340.9 613.0h1.1v1.0h-1.1zM345.2 613.0h1.1v1.0h-1.1zM347.3 613.0h1.1v1.0h-1.1zM349.5 613.0h1.1v1.0h-1.1zM351.6 612.0h1.1v1.0h-1.1zM353.8 612.0h1.1v1.0h-1.1zM355.9 614.0h1.1v1.0h-1.1zM358.1 612.0h1.1v1.0h-1.1zM364.5 613.0h1.1v1.0h-1.1zM366.7 614.0h1.1v1.0h-1.1zM368.8 613.0h1.1v1.0h-1.1zM371.0 614.0h1.1v1.0h-1.1zM373.1 613.0h1.1v1.0h-1.1zM375.3 613.0h1.1v1.0h-1.1zM379.6 614.0h1.1v1.0h-1.1zM381.7 612.0h1.1v1.0h-1.1zM383.9 612.0h1.1v1.0h-1.1zM386.0 613.0h1.1v1.0h-1.1zM300.6 615.2h1.1v1.0h-1.1zM302.7 616.2h1.1v1.0h-1.1zM304.9 615.2h1.1v1.0h-1.1zM309.2 615.2h1.1v1.0h-1.1zM311.3 616.2h1.1v1.0h-1.1zM313.5 615.2h1.1v1.0h-1.1zM315.6 614.2h1.1v1.0h-1.1zM317.8 615.2h1.1v1.0h-1.1zM319.9 615.2h1.1v1.0h-1.1zM328.5 614.2h1.1v1.0h-1.1zM330.7 615.2h1.1v1.0h-1.1zM337.1 615.2h1.1v1.0h-1.1zM339.3 615.2h1.1v1.0h-1.1zM341.4 614.2h1.1v1.0h-1.1zM345.7 615.2h1.1v1.0h-1.1zM347.9 616.2h1.1v1.0h-1.1zM350.0 615.2h1.1v1.0h-1.1zM352.2 616.2h1.1v1.0h-1.1zM354.3 615.2h1.1v1.0h-1.1zM356.5 614.2h1.1v1.0h-1.1zM358.6 614.2h1.1v1.0h-1.1zM362.9 616.2h1.1v1.0h-1.1zM365.1 616.2h1.1v1.0h-1.1zM369.4 616.2h1.1v1.0h-1.1zM371.5 615.2h1.1v1.0h-1.1zM373.7 616.2h1.1v1.0h-1.1zM375.8 615.2h1.1v1.0h-1.1zM378.0 615.2h1.1v1.0h-1.1zM380.1 616.2h1.1v1.0h-1.1zM382.3 615.2h1.1v1.0h-1.1zM384.4 615.2h1.1v1.0h-1.1zM388.7 615.2h1.1v1.0h-1.1zM390.9 616.2h1.1v1.0h-1.1zM300.8 617.4h1.1v1.0h-1.1zM302.9 617.4h1.1v1.0h-1.1zM305.1 617.4h1.1v1.0h-1.1zM307.2 617.4h1.1v1.0h-1.1zM309.4 617.4h1.1v1.0h-1.1zM311.5 617.4h1.1v1.0h-1.1zM315.8 617.4h1.1v1.0h-1.1zM320.1 617.4h1.1v1.0h-1.1zM322.3 617.4h1.1v1.0h-1.1zM324.4 617.4h1.1v1.0h-1.1zM326.6 617.4h1.1v1.0h-1.1zM330.9 616.4h1.1v1.0h-1.1zM333.0 617.4h1.1v1.0h-1.1zM337.3 617.4h1.1v1.0h-1.1zM339.5 617.4h1.1v1.0h-1.1zM341.6 617.4h1.1v1.0h-1.1zM343.8 618.4h1.1v1.0h-1.1zM348.1 617.4h1.1v1.0h-1.1zM350.2 618.4h1.1v1.0h-1.1zM352.4 617.4h1.1v1.0h-1.1zM354.5 617.4h1.1v1.0h-1.1zM356.7 616.4h1.1v1.0h-1.1zM358.8 618.4h1.1v1.0h-1.1zM361.0 616.4h1.1v1.0h-1.1zM363.1 617.4h1.1v1.0h-1.1zM365.3 617.4h1.1v1.0h-1.1zM369.6 616.4h1.1v1.0h-1.1zM376.0 617.4h1.1v1.0h-1.1zM382.5 618.4h1.1v1.0h-1.1zM384.6 617.4h1.1v1.0h-1.1zM386.8 617.4h1.1v1.0h-1.1zM388.9 616.4h1.1v1.0h-1.1zM391.1 618.4h1.1v1.0h-1.1zM656.1 611.0h1.2v1.0h-1.2zM665.9 611.0h1.2v1.0h-1.2zM675.7 611.0h1.2v1.0h-1.2zM685.5 611.0h1.2v1.0h-1.2zM695.3 611.0h1.2v1.0h-1.2zM705.1 611.0h1.2v1.0h-1.2zM714.9 611.0h1.2v1.0h-1.2zM724.7 611.0h1.2v1.0h-1.2zM734.5 611.0h1.2v1.0h-1.2zM744.3 611.0h1.2v1.0h-1.2zM754.1 611.0h1.2v1.0h-1.2zM763.9 611.0h1.2v1.0h-1.2zM773.7 611.0h1.2v1.0h-1.2zM783.5 611.0h1.2v1.0h-1.2zM793.3 611.0h1.2v1.0h-1.2zM803.1 611.0h1.2v1.0h-1.2zM812.9 611.0h1.2v1.0h-1.2zM822.7 611.0h1.2v1.0h-1.2zM832.5 611.0h1.2v1.0h-1.2zM842.3 611.0h1.2v1.0h-1.2zM852.1 611.0h1.2v1.0h-1.2zM861.9 611.0h1.2v1.0h-1.2zM871.7 611.0h1.2v1.0h-1.2zM881.5 611.0h1.2v1.0h-1.2z"/>
<path fill="#fff" fill-opacity="0.95" d="M115.0 233.6h2.2v1.3h-2.2zM117.5 232.6h2.2v1.3h-2.2zM120.0 232.1h8.7v1.3h-8.7zM129.0 232.5h8.7v1.3h-8.7zM140.0 230.6h2.2v1.3h-2.2zM142.5 229.6h2.2v1.3h-2.2zM145.0 229.2h3.7v1.3h-3.7zM149.0 229.9h1.7v1.3h-1.7zM151.0 231.2h1.7v1.3h-1.7zM153.0 232.0h2.2v1.3h-2.2zM165.0 232.2h9.7v1.3h-9.7zM175.0 233.2h2.7v1.3h-2.7zM178.0 234.5h2.7v1.3h-2.7zM203.0 233.9h2.2v1.3h-2.2zM205.5 232.9h2.2v1.3h-2.2zM208.0 232.1h8.7v1.3h-8.7zM217.0 232.2h8.7v1.3h-8.7zM228.0 230.9h2.2v1.3h-2.2zM230.5 229.6h2.2v1.3h-2.2zM233.0 229.2h3.7v1.3h-3.7zM237.0 230.2h1.7v1.3h-1.7zM239.0 230.9h1.7v1.3h-1.7zM241.0 232.3h2.2v1.3h-2.2zM253.0 232.8h9.7v1.3h-9.7zM263.0 233.5h2.7v1.3h-2.7zM266.0 234.5h2.7v1.3h-2.7zM291.0 234.2h2.2v1.3h-2.2zM293.5 232.6h2.2v1.3h-2.2zM296.0 231.8h8.7v1.3h-8.7zM305.0 232.5h8.7v1.3h-8.7zM316.0 230.9h2.2v1.3h-2.2zM318.5 229.6h2.2v1.3h-2.2zM321.0 229.5h3.7v1.3h-3.7zM325.0 230.2h1.7v1.3h-1.7zM327.0 231.2h1.7v1.3h-1.7zM329.0 232.6h2.2v1.3h-2.2zM341.0 232.5h9.7v1.3h-9.7zM351.0 233.2h2.7v1.3h-2.7zM354.0 234.2h2.7v1.3h-2.7zM379.0 233.6h2.2v1.3h-2.2zM381.5 232.9h2.2v1.3h-2.2zM384.0 232.1h8.7v1.3h-8.7zM393.0 232.2h8.7v1.3h-8.7zM404.0 230.9h2.2v1.3h-2.2zM406.5 230.2h2.2v1.3h-2.2zM409.0 229.2h3.7v1.3h-3.7zM413.0 229.9h1.7v1.3h-1.7zM415.0 231.5h1.7v1.3h-1.7zM417.0 232.3h2.2v1.3h-2.2zM429.0 232.5h9.7v1.3h-9.7zM439.0 233.5h2.7v1.3h-2.7zM442.0 234.5h2.7v1.3h-2.7zM467.0 233.9h2.2v1.3h-2.2zM469.5 232.9h2.2v1.3h-2.2zM472.0 232.4h8.7v1.3h-8.7zM481.0 232.8h8.7v1.3h-8.7zM492.0 230.9h2.2v1.3h-2.2zM494.5 229.9h2.2v1.3h-2.2zM497.0 228.9h3.7v1.3h-3.7zM501.0 230.2h1.7v1.3h-1.7zM503.0 231.2h1.7v1.3h-1.7zM505.0 232.3h2.2v1.3h-2.2zM517.0 232.5h9.7v1.3h-9.7zM527.0 233.2h2.7v1.3h-2.7zM530.0 234.8h2.7v1.3h-2.7zM555.0 233.9h2.2v1.3h-2.2zM557.5 233.2h2.2v1.3h-2.2zM560.0 231.8h8.7v1.3h-8.7zM569.0 232.8h8.7v1.3h-8.7zM580.0 230.9h2.2v1.3h-2.2zM582.5 230.2h2.2v1.3h-2.2zM585.0 229.2h3.7v1.3h-3.7zM589.0 229.9h1.7v1.3h-1.7zM591.0 231.2h1.7v1.3h-1.7zM593.0 232.6h2.2v1.3h-2.2zM605.0 232.5h9.7v1.3h-9.7zM615.0 233.8h2.7v1.3h-2.7zM618.0 234.5h2.7v1.3h-2.7zM643.0 233.6h2.2v1.3h-2.2zM645.5 232.9h2.2v1.3h-2.2zM648.0 232.4h6.7v1.3h-6.7zM672.0 229.9h0.7v1.3h-0.7zM673.0 229.2h3.7v1.3h-3.7zM677.0 230.5h1.7v1.3h-1.7zM679.0 230.9h1.7v1.3h-1.7zM681.0 232.3h2.2v1.3h-2.2zM888.0 233.4h9.0v1.3h-9.0zM898.0 232.6h6.0v1.3h-6.0zM906.0 233.6h9.0v1.3h-9.0zM943.0 233.9h2.0v1.3h-2.0zM945.3 232.6h2.0v1.3h-2.0zM947.5 232.1h7.9v1.3h-7.9zM955.7 232.5h7.9v1.3h-7.9zM965.7 230.6h2.0v1.3h-2.0zM968.0 229.6h2.0v1.3h-2.0zM970.3 229.5h3.3v1.3h-3.3zM973.9 230.2h1.5v1.3h-1.5zM975.7 231.2h1.5v1.3h-1.5zM977.5 232.6h2.0v1.3h-2.0zM988.5 232.5h8.8v1.3h-8.8zM997.5 233.2h2.4v1.3h-2.4zM1000.3 234.5h2.4v1.3h-2.4zM1023.0 233.6h2.0v1.3h-2.0zM1025.3 233.2h2.0v1.3h-2.0zM1027.5 232.1h7.9v1.3h-7.9zM1035.7 232.2h7.9v1.3h-7.9zM1045.7 230.9h2.0v1.3h-2.0zM1048.0 229.6h2.0v1.3h-2.0zM1050.3 229.5h3.3v1.3h-3.3zM1053.9 230.2h1.5v1.3h-1.5zM1055.7 230.9h1.5v1.3h-1.5zM1057.5 232.3h2.0v1.3h-2.0zM1068.5 232.2h8.8v1.3h-8.8zM1077.5 233.5h2.4v1.3h-2.4zM1080.3 234.8h2.4v1.3h-2.4zM1103.0 233.9h0.7v1.3h-0.7zM1105.3 232.6h6.5v1.3h-6.5zM1111.8 233.8h2.5v1.3h-2.5zM1113.8 235.0h2.5v1.3h-2.5zM1115.8 236.2h3.5v1.3h-3.5zM1125.3 231.2h11.0v1.3h-11.0zM1137.8 230.8h10.5v1.3h-10.5zM1150.3 235.6h5.0v1.3h-5.0zM1155.8 235.0h3.5v1.3h-3.5zM1159.8 233.5h2.5v1.3h-2.5zM1162.3 232.2h3.0v1.3h-3.0zM1165.3 232.2h2.2v1.3h-2.2zM1167.9 233.5h2.2v1.3h-2.2zM1170.5 234.8h2.2v1.3h-2.2zM1173.1 236.1h2.2v1.3h-2.2zM1184.6 232.6h6.5v1.3h-6.5zM1191.1 233.8h2.5v1.3h-2.5zM1193.1 235.0h2.5v1.3h-2.5zM1195.1 236.2h3.5v1.3h-3.5zM1204.6 231.2h11.0v1.3h-11.0zM1217.1 230.8h10.5v1.3h-10.5zM1229.6 235.6h5.0v1.3h-5.0zM1235.1 235.0h3.5v1.3h-3.5zM1239.1 233.5h2.5v1.3h-2.5zM1241.6 232.2h3.0v1.3h-3.0zM1244.6 232.2h2.2v1.3h-2.2zM1247.2 233.5h2.2v1.3h-2.2zM1249.8 234.8h2.2v1.3h-2.2zM1252.4 236.1h2.2v1.3h-2.2zM1263.9 232.6h6.5v1.3h-6.5zM1270.4 233.8h2.5v1.3h-2.5zM1272.4 235.0h2.5v1.3h-2.5zM1274.4 236.2h3.5v1.3h-3.5zM1283.9 231.2h11.0v1.3h-11.0zM1296.4 230.8h10.5v1.3h-10.5zM1308.9 235.6h5.0v1.3h-5.0zM1314.4 235.0h3.5v1.3h-3.5zM1318.4 233.5h2.5v1.3h-2.5zM1320.9 232.2h3.0v1.3h-3.0zM1323.9 232.2h2.2v1.3h-2.2zM1326.5 233.5h2.2v1.3h-2.2zM1329.1 234.8h2.2v1.3h-2.2zM1331.7 236.1h2.2v1.3h-2.2zM1343.2 232.6h6.5v1.3h-6.5zM1349.7 233.8h2.5v1.3h-2.5zM1351.7 235.0h2.5v1.3h-2.5zM1353.7 236.2h3.5v1.3h-3.5zM1363.2 231.2h11.0v1.3h-11.0zM1375.7 230.8h10.5v1.3h-10.5zM1388.2 235.6h5.0v1.3h-5.0zM1393.7 235.0h3.5v1.3h-3.5zM1397.7 233.5h2.5v1.3h-2.5zM1400.2 232.2h3.0v1.3h-3.0zM1403.2 232.2h2.2v1.3h-2.2zM1405.8 233.5h2.2v1.3h-2.2zM1408.4 234.8h2.2v1.3h-2.2zM1411.0 236.1h2.2v1.3h-2.2zM1422.5 232.6h6.5v1.3h-6.5zM1429.0 233.8h2.5v1.3h-2.5zM1431.0 235.0h2.5v1.3h-2.5zM1433.0 236.2h3.5v1.3h-3.5zM1442.5 231.2h11.0v1.3h-11.0zM1455.0 230.8h10.5v1.3h-10.5zM1467.5 235.6h5.0v1.3h-5.0zM1473.0 235.0h3.5v1.3h-3.5zM1477.0 233.5h2.5v1.3h-2.5zM1479.5 232.2h3.0v1.3h-3.0zM1482.5 232.2h2.2v1.3h-2.2zM293.1 291.3h24.7v1.5h-24.7zM292.7 293.5h24.3v1.5h-24.3zM293.1 295.2h24.0v1.5h-24.0zM318.5 289.8h20.8v1.5h-20.8zM318.6 291.1h21.6v1.5h-21.6zM319.1 292.8h20.4v1.5h-20.4zM341.0 287.4h25.5v1.5h-25.5zM341.5 289.2h25.3v1.5h-25.3zM340.6 290.4h25.8v1.5h-25.8zM368.1 287.9h6.3v1.5h-6.3zM375.2 287.9h22.6v1.5h-22.6zM367.8 290.1h19.2v1.5h-19.2zM387.7 290.1h9.9v1.5h-9.9zM367.8 291.9h30.0v1.5h-30.0zM398.7 289.3h3.5v1.5h-3.5zM403.0 289.3h6.1v1.5h-6.1zM399.2 291.6h9.5v1.5h-9.5zM398.3 292.8h10.7v1.5h-10.7zM409.5 288.9h9.7v1.5h-9.7zM420.1 288.9h10.5v1.5h-10.5zM409.6 290.6h20.9v1.5h-20.9zM410.3 292.4h20.3v1.5h-20.3zM432.1 289.8h25.9v1.5h-25.9zM432.0 291.6h26.9v1.5h-26.9zM432.8 293.8h4.0v1.5h-4.0zM437.6 293.8h20.4v1.5h-20.4zM459.8 291.7h27.4v1.5h-27.4zM459.4 294.0h7.6v1.5h-7.6zM467.8 294.0h18.6v1.5h-18.6zM459.9 296.2h7.0v1.5h-7.0zM467.7 296.2h19.1v1.5h-19.1zM461.3 297.5h16.5v1.5h-16.5zM488.2 292.7h8.0v1.5h-8.0zM497.0 292.7h15.8v1.5h-15.8zM487.6 294.0h26.2v1.5h-26.2zM488.4 295.7h24.5v1.5h-24.5zM514.6 291.3h8.4v1.5h-8.4zM523.8 291.3h4.8v1.5h-4.8zM514.2 293.0h15.0v1.5h-15.0zM514.3 294.8h2.4v1.5h-2.4zM517.6 294.8h10.9v1.5h-10.9zM530.3 290.8h32.0v1.5h-32.0zM530.1 293.5h4.0v1.5h-4.0zM535.0 293.5h27.5v1.5h-27.5zM530.0 295.2h33.4v1.5h-33.4zM564.0 290.3h28.8v1.5h-28.8zM564.3 291.6h28.2v1.5h-28.2zM564.4 293.3h28.9v1.5h-28.9zM593.8 287.4h15.2v1.5h-15.2zM593.8 288.7h15.7v1.5h-15.7zM594.5 290.9h14.5v1.5h-14.5zM610.4 287.4h16.3v1.5h-16.3zM627.5 287.4h3.5v1.5h-3.5zM610.4 289.6h20.0v1.5h-20.0zM610.4 290.9h10.2v1.5h-10.2zM621.4 290.9h10.0v1.5h-10.0zM632.0 289.3h33.2v1.5h-33.2zM632.2 291.1h32.4v1.5h-32.4zM631.9 292.4h33.5v1.5h-33.5zM666.5 289.3h14.0v1.5h-14.0zM666.8 290.6h8.8v1.5h-8.8zM676.4 290.6h4.8v1.5h-4.8zM667.0 292.4h14.1v1.5h-14.1zM682.0 289.3h20.0v1.5h-20.0zM683.1 291.1h11.5v1.5h-11.5zM695.4 291.1h6.4v1.5h-6.4zM682.8 292.8h2.2v1.5h-2.2zM685.8 292.8h16.0v1.5h-16.0zM682.0 294.6h12.7v1.5h-12.7zM702.9 291.7h34.0v1.5h-34.0zM703.9 294.0h11.7v1.5h-11.7zM716.4 294.0h19.5v1.5h-19.5zM703.6 295.7h27.5v1.5h-27.5zM731.9 295.7h4.5v1.5h-4.5zM711.5 297.5h20.8v1.5h-20.8zM738.0 291.3h31.4v1.5h-31.4zM738.3 293.5h30.4v1.5h-30.4zM737.4 295.2h31.4v1.5h-31.4zM770.2 291.3h15.2v1.5h-15.2zM770.3 293.0h14.9v1.5h-14.9zM770.9 294.8h14.2v1.5h-14.2zM787.5 291.3h26.5v1.5h-26.5zM787.1 293.0h27.4v1.5h-27.4zM787.4 294.8h4.7v1.5h-4.7zM792.9 294.8h21.7v1.5h-21.7zM815.6 289.8h11.9v1.5h-11.9zM828.3 289.8h6.4v1.5h-6.4zM816.3 291.6h7.7v1.5h-7.7zM824.9 291.6h9.1v1.5h-9.1zM815.7 293.8h18.3v1.5h-18.3zM835.9 287.9h25.6v1.5h-25.6zM836.1 289.2h25.0v1.5h-25.0zM835.1 290.9h21.5v1.5h-21.5zM857.4 290.9h3.9v1.5h-3.9zM838.3 286.1h12.0v1.5h-12.0zM862.8 288.4h27.8v1.5h-27.8zM862.6 289.6h27.9v1.5h-27.9zM862.3 291.9h28.8v1.5h-28.8zM891.9 289.3h12.7v1.5h-12.7zM892.1 291.1h12.2v1.5h-12.2zM892.1 292.8h12.5v1.5h-12.5zM896.3 294.6h7.1v1.5h-7.1zM906.3 288.9h7.5v1.5h-7.5zM906.4 290.6h7.9v1.5h-7.9zM905.9 292.4h7.7v1.5h-7.7zM591.6 480.2h27.3v1.5h-27.3zM619.7 480.2h4.1v1.5h-4.1zM591.4 482.1h28.2v1.5h-28.2zM620.4 482.1h3.8v1.5h-3.8zM591.9 484.0h32.4v1.5h-32.4zM593.3 478.3h17.2v1.5h-17.2zM626.1 478.3h10.0v1.5h-10.0zM637.0 478.3h22.5v1.5h-22.5zM626.4 480.2h32.5v1.5h-32.5zM625.5 482.1h9.8v1.5h-9.8zM636.1 482.1h22.4v1.5h-22.4zM660.6 478.8h13.1v1.5h-13.1zM661.0 480.2h3.5v1.5h-3.5zM665.3 480.2h8.9v1.5h-8.9zM660.1 482.6h8.2v1.5h-8.2zM669.1 482.6h3.8v1.5h-3.8zM675.2 478.3h23.6v1.5h-23.6zM674.5 480.2h23.7v1.5h-23.7zM675.4 482.1h22.7v1.5h-22.7zM700.6 476.9h31.8v1.5h-31.8zM700.1 478.3h33.1v1.5h-33.1zM700.1 480.7h33.1v1.5h-33.1zM701.3 475.0h12.4v1.5h-12.4zM734.6 478.3h8.4v1.5h-8.4zM743.8 478.3h9.2v1.5h-9.2zM734.0 479.7h19.4v1.5h-19.4zM734.7 482.1h14.2v1.5h-14.2zM749.7 482.1h4.0v1.5h-4.0zM735.5 484.0h6.8v1.5h-6.8zM754.9 478.8h22.8v1.5h-22.8zM754.5 480.2h22.9v1.5h-22.9zM755.4 482.6h17.5v1.5h-17.5zM773.7 482.6h4.2v1.5h-4.2zM754.8 484.0h10.5v1.5h-10.5zM778.8 478.8h17.9v1.5h-17.9zM779.0 480.7h3.8v1.5h-3.8zM783.7 480.7h11.9v1.5h-11.9zM779.0 482.6h7.7v1.5h-7.7zM787.4 482.6h8.2v1.5h-8.2zM797.1 479.3h11.3v1.5h-11.3zM798.0 481.6h9.5v1.5h-9.5zM797.4 483.5h11.0v1.5h-11.0zM809.2 479.8h4.5v1.5h-4.5zM814.5 479.8h9.6v1.5h-9.6zM808.8 482.6h4.1v1.5h-4.1zM813.7 482.6h9.6v1.5h-9.6zM808.8 484.5h15.1v1.5h-15.1zM810.5 485.9h6.5v1.5h-6.5zM824.9 479.8h13.0v1.5h-13.0zM824.8 482.1h3.7v1.5h-3.7zM829.2 482.1h9.1v1.5h-9.1zM825.8 483.5h12.6v1.5h-12.6zM838.8 478.8h16.4v1.5h-16.4zM839.0 481.2h16.1v1.5h-16.1zM838.8 483.1h17.4v1.5h-17.4zM857.4 478.8h24.4v1.5h-24.4zM857.5 480.7h16.7v1.5h-16.7zM875.0 480.7h6.6v1.5h-6.6zM856.6 482.6h25.2v1.5h-25.2zM860.1 484.5h16.6v1.5h-16.6zM884.0 478.3h3.7v1.5h-3.7zM888.5 478.3h18.2v1.5h-18.2zM883.8 480.7h16.6v1.5h-16.6zM901.3 480.7h5.1v1.5h-5.1zM882.9 482.1h23.8v1.5h-23.8zM890.0 476.4h8.2v1.5h-8.2zM908.6 477.4h5.8v1.5h-5.8zM908.4 478.8h5.6v1.5h-5.6zM908.1 480.7h6.3v1.5h-6.3z"/>
<path fill="#fff" fill-opacity="0.93" d="M1092.0 284.2h40.0v1.4h-40.0zM1092.0 286.0h40.0v1.4h-40.0zM1092.0 287.8h40.0v1.4h-40.0zM1092.0 289.6h40.0v1.4h-40.0zM1134.8 285.6h8.9v1.4h-8.9zM1144.5 285.6h10.6v1.4h-10.6zM1155.8 285.6h6.8v1.4h-6.8zM1163.2 285.6h7.8v1.4h-7.8zM1132.0 287.4h7.4v1.4h-7.4zM1140.2 287.4h6.7v1.4h-6.7zM1147.5 287.4h6.2v1.4h-6.2zM1154.7 287.4h6.4v1.4h-6.4zM1161.9 287.4h9.1v1.4h-9.1zM1144.0 289.2h11.6v1.4h-11.6zM1156.0 289.2h5.5v1.4h-5.5zM1162.3 289.2h6.0v1.4h-6.0zM1169.0 289.2h2.0v1.4h-2.0zM1171.0 284.2h40.0v1.4h-40.0zM1171.0 286.0h40.0v1.4h-40.0zM1171.0 287.8h40.0v1.4h-40.0zM1171.0 289.6h40.0v1.4h-40.0zM1221.2 285.6h11.6v1.4h-11.6zM1233.2 285.6h9.1v1.4h-9.1zM1242.8 285.6h5.5v1.4h-5.5zM1249.3 285.6h0.7v1.4h-0.7zM1212.1 287.4h9.8v1.4h-9.8zM1222.3 287.4h11.1v1.4h-11.1zM1233.7 287.4h10.9v1.4h-10.9zM1212.3 289.2h7.1v1.4h-7.1zM1230.7 289.2h7.6v1.4h-7.6zM1239.1 289.2h9.1v1.4h-9.1zM1248.8 289.2h1.2v1.4h-1.2zM1250.0 284.2h40.0v1.4h-40.0zM1250.0 286.0h40.0v1.4h-40.0zM1250.0 287.8h40.0v1.4h-40.0zM1250.0 289.6h40.0v1.4h-40.0zM1291.9 285.6h8.3v1.4h-8.3zM1300.8 285.6h9.3v1.4h-9.3zM1310.6 285.6h7.6v1.4h-7.6zM1318.7 285.6h10.3v1.4h-10.3zM1291.0 287.4h10.8v1.4h-10.8zM1302.5 287.4h5.2v1.4h-5.2zM1308.0 287.4h10.6v1.4h-10.6zM1319.1 287.4h5.4v1.4h-5.4zM1325.3 287.4h3.7v1.4h-3.7zM1291.7 289.2h11.5v1.4h-11.5zM1304.1 289.2h8.0v1.4h-8.0zM1312.9 289.2h11.0v1.4h-11.0zM1324.3 289.2h4.7v1.4h-4.7zM1329.0 284.2h40.0v1.4h-40.0zM1329.0 286.0h40.0v1.4h-40.0zM1329.0 287.8h40.0v1.4h-40.0zM1329.0 289.6h40.0v1.4h-40.0zM1370.1 285.6h11.9v1.4h-11.9zM1382.5 285.6h6.8v1.4h-6.8zM1390.3 285.6h12.0v1.4h-12.0zM1402.7 285.6h5.3v1.4h-5.3zM1371.2 287.4h5.4v1.4h-5.4zM1377.4 287.4h5.2v1.4h-5.2zM1383.5 287.4h9.0v1.4h-9.0zM1393.4 287.4h9.2v1.4h-9.2zM1403.2 287.4h4.8v1.4h-4.8zM1370.7 289.2h6.0v1.4h-6.0zM1377.2 289.2h9.8v1.4h-9.8zM1387.9 289.2h10.5v1.4h-10.5zM1398.7 289.2h9.3v1.4h-9.3zM1408.0 284.2h40.0v1.4h-40.0zM1408.0 286.0h40.0v1.4h-40.0zM1408.0 287.8h40.0v1.4h-40.0zM1408.0 289.6h40.0v1.4h-40.0zM1450.7 285.6h10.5v1.4h-10.5zM1462.1 285.6h11.9v1.4h-11.9zM1474.6 285.6h10.3v1.4h-10.3zM1485.6 285.6h1.4v1.4h-1.4zM1448.8 287.4h11.5v1.4h-11.5zM1461.2 287.4h10.3v1.4h-10.3zM1472.4 287.4h9.0v1.4h-9.0zM1450.3 289.2h5.7v1.4h-5.7zM1456.4 289.2h11.1v1.4h-11.1zM1468.3 289.2h6.8v1.4h-6.8zM1475.9 289.2h5.7v1.4h-5.7zM1482.4 289.2h4.6v1.4h-4.6zM1487.0 284.2h1.0v1.4h-1.0zM1487.0 286.0h1.0v1.4h-1.0zM1487.0 287.8h1.0v1.4h-1.0zM1487.0 289.6h1.0v1.4h-1.0z"/>
<path fill="#fff" fill-opacity="0.9" d="M1109.7 291.3h5.1v1.3h-5.1zM1179.7 291.3h5.8v1.3h-5.8zM1186.4 291.3h7.5v1.3h-7.5zM1194.4 291.3h5.9v1.3h-5.9zM1200.9 291.3h0.1v1.3h-0.1zM1265.3 291.3h5.1v1.3h-5.1zM1271.3 291.3h7.0v1.3h-7.0zM1279.7 291.3h0.3v1.3h-0.3zM1339.9 291.3h5.2v1.3h-5.2zM1351.8 291.3h5.4v1.3h-5.4zM1417.7 291.3h7.9v1.3h-7.9zM1437.0 291.3h1.0v1.3h-1.0zM875.5 353.2h11.0v1.3h-11.0zM886.0 354.3h11.5v1.3h-11.5zM903.0 366.5h5.5v1.3h-5.5zM908.8 365.5h5.0v1.3h-5.0zM914.1 366.0h1.6v1.3h-1.6zM892.0 428.5h7.1v1.3h-7.1zM899.4 428.0h4.4v1.3h-4.4zM904.0 427.5h7.1v1.3h-7.1zM911.4 427.0h1.3v1.3h-1.3zM915.0 481.0h20.0v1.0h-20.0zM915.0 482.4h20.0v1.0h-20.0zM915.0 483.9h20.0v1.0h-20.0zM915.0 485.3h20.0v1.0h-20.0zM915.0 486.8h20.0v1.0h-20.0z"/>
<path fill="#fff" fill-opacity="0.92" d="M693.0 358.0h2.3v1.3h-2.3zM695.0 357.0h2.8v1.3h-2.8zM698.0 356.2h19.8v1.3h-19.8zM718.0 355.8h4.8v1.3h-4.8zM723.0 355.0h4.8v1.3h-4.8zM728.0 355.8h3.8v1.3h-3.8zM732.0 354.6h3.8v1.3h-3.8zM736.0 353.0h3.8v1.3h-3.8zM740.0 352.2h5.8v1.3h-5.8zM746.0 353.0h2.8v1.3h-2.8zM749.0 354.0h2.8v1.3h-2.8zM752.0 355.0h3.8v1.3h-3.8zM756.0 354.4h2.8v1.3h-2.8zM759.0 355.6h3.8v1.3h-3.8zM765.0 357.2h1.8v1.3h-1.8zM769.0 356.4h2.8v1.3h-2.8zM773.0 357.2h1.8v1.3h-1.8zM777.0 355.6h3.8v1.3h-3.8zM781.0 356.2h15.8v1.3h-15.8zM784.0 414.2h10.8v1.3h-10.8zM795.0 415.0h2.8v1.3h-2.8zM798.0 416.3h2.8v1.3h-2.8zM801.0 417.8h2.8v1.3h-2.8zM804.0 419.0h2.3v1.3h-2.3zM806.5 417.5h2.3v1.3h-2.3zM809.0 416.2h2.8v1.3h-2.8zM812.0 415.6h7.8v1.3h-7.8zM820.0 416.6h3.8v1.3h-3.8zM824.0 415.8h2.8v1.3h-2.8zM827.0 413.5h2.8v1.3h-2.8zM830.0 411.8h13.8v1.3h-13.8zM844.0 412.8h4.8v1.3h-4.8zM849.0 413.8h3.8v1.3h-3.8zM853.0 414.6h5.8v1.3h-5.8zM859.0 415.6h3.8v1.3h-3.8zM863.0 413.4h2.8v1.3h-2.8zM866.0 412.2h11.8v1.3h-11.8zM878.0 413.0h5.8v1.3h-5.8zM884.0 414.0h7.8v1.3h-7.8zM1007.0 612.5h1.4v1.0h-1.4zM1009.0 612.5h1.4v1.0h-1.4zM1013.0 612.5h1.4v1.0h-1.4zM1015.0 612.5h1.4v1.0h-1.4zM1017.0 612.5h1.4v1.0h-1.4zM1019.0 612.5h1.4v1.0h-1.4zM1006.9 614.2h1.4v1.0h-1.4zM1008.9 614.2h1.4v1.0h-1.4zM1010.9 614.2h1.4v1.0h-1.4zM1012.9 614.2h1.4v1.0h-1.4zM1016.9 614.2h1.4v1.0h-1.4zM1018.9 614.2h1.4v1.0h-1.4zM1007.1 615.9h1.4v1.0h-1.4zM1011.1 615.9h1.4v1.0h-1.4zM1013.1 615.9h1.4v1.0h-1.4zM1015.1 615.9h1.4v1.0h-1.4zM1017.1 615.9h1.4v1.0h-1.4zM1019.1 615.9h1.4v1.0h-1.4zM1026.6 612.5h1.4v1.0h-1.4zM1028.6 612.5h1.4v1.0h-1.4zM1030.6 612.5h1.4v1.0h-1.4zM1034.6 612.5h1.4v1.0h-1.4zM1036.6 612.5h1.4v1.0h-1.4zM1038.6 612.5h1.4v1.0h-1.4zM1026.4 614.2h1.4v1.0h-1.4zM1028.4 614.2h1.4v1.0h-1.4zM1030.4 614.2h1.4v1.0h-1.4zM1032.4 614.2h1.4v1.0h-1.4zM1034.4 614.2h1.4v1.0h-1.4zM1036.4 614.2h1.4v1.0h-1.4zM1038.4 614.2h1.4v1.0h-1.4zM1027.5 615.9h1.4v1.0h-1.4zM1029.5 615.9h1.4v1.0h-1.4zM1031.5 615.9h1.4v1.0h-1.4zM1033.5 615.9h1.4v1.0h-1.4zM1035.5 615.9h1.4v1.0h-1.4zM1037.5 615.9h1.4v1.0h-1.4zM1046.5 612.5h1.4v1.0h-1.4zM1048.5 612.5h1.4v1.0h-1.4zM1050.5 612.5h1.4v1.0h-1.4zM1052.5 612.5h1.4v1.0h-1.4zM1054.5 612.5h1.4v1.0h-1.4zM1046.4 614.2h1.4v1.0h-1.4zM1048.4 614.2h1.4v1.0h-1.4zM1050.4 614.2h1.4v1.0h-1.4zM1052.4 614.2h1.4v1.0h-1.4zM1054.4 614.2h1.4v1.0h-1.4zM1056.4 614.2h1.4v1.0h-1.4zM1058.4 614.2h1.4v1.0h-1.4zM1047.5 615.9h1.4v1.0h-1.4zM1049.5 615.9h1.4v1.0h-1.4zM1051.5 615.9h1.4v1.0h-1.4zM1053.5 615.9h1.4v1.0h-1.4zM1055.5 615.9h1.4v1.0h-1.4zM1057.5 615.9h1.4v1.0h-1.4zM1065.8 612.5h1.4v1.0h-1.4zM1067.8 612.5h1.4v1.0h-1.4zM1069.8 612.5h1.4v1.0h-1.4zM1071.8 612.5h1.4v1.0h-1.4zM1073.8 612.5h1.4v1.0h-1.4zM1075.8 612.5h1.4v1.0h-1.4zM1077.8 612.5h1.4v1.0h-1.4zM1068.1 614.2h1.4v1.0h-1.4zM1070.1 614.2h1.4v1.0h-1.4zM1072.1 614.2h1.4v1.0h-1.4zM1074.1 614.2h1.4v1.0h-1.4zM1076.1 614.2h1.4v1.0h-1.4zM1078.1 614.2h1.4v1.0h-1.4zM1066.8 615.9h1.4v1.0h-1.4zM1072.8 615.9h1.4v1.0h-1.4zM1076.8 615.9h1.4v1.0h-1.4zM1085.9 612.5h1.4v1.0h-1.4zM1087.9 612.5h1.4v1.0h-1.4zM1089.9 612.5h1.4v1.0h-1.4zM1091.9 612.5h1.4v1.0h-1.4zM1093.9 612.5h1.4v1.0h-1.4zM1095.9 612.5h1.4v1.0h-1.4zM1097.9 612.5h1.4v1.0h-1.4zM1088.3 614.2h1.4v1.0h-1.4zM1094.3 614.2h1.4v1.0h-1.4zM1096.3 614.2h1.4v1.0h-1.4zM1098.3 614.2h1.4v1.0h-1.4zM1085.6 615.9h1.4v1.0h-1.4zM1087.6 615.9h1.4v1.0h-1.4zM1089.6 615.9h1.4v1.0h-1.4zM1091.6 615.9h1.4v1.0h-1.4zM1095.6 615.9h1.4v1.0h-1.4zM1097.6 615.9h1.4v1.0h-1.4zM1106.4 612.5h1.4v1.0h-1.4zM1108.4 612.5h1.4v1.0h-1.4zM1110.4 612.5h1.4v1.0h-1.4zM1112.4 612.5h1.4v1.0h-1.4zM1114.4 612.5h1.4v1.0h-1.4zM1116.4 612.5h1.4v1.0h-1.4zM1106.6 614.2h1.4v1.0h-1.4zM1114.6 614.2h1.4v1.0h-1.4zM1116.6 614.2h1.4v1.0h-1.4zM1105.7 615.9h1.4v1.0h-1.4zM1107.7 615.9h1.4v1.0h-1.4zM1109.7 615.9h1.4v1.0h-1.4zM1117.7 615.9h1.4v1.0h-1.4zM1125.1 612.5h1.4v1.0h-1.4zM1127.1 612.5h1.4v1.0h-1.4zM1129.1 612.5h1.4v1.0h-1.4zM1131.1 612.5h1.4v1.0h-1.4zM1133.1 612.5h1.4v1.0h-1.4zM1137.1 612.5h1.4v1.0h-1.4zM1129.6 614.2h1.4v1.0h-1.4zM1131.6 614.2h1.4v1.0h-1.4zM1133.6 614.2h1.4v1.0h-1.4zM1137.6 614.2h1.4v1.0h-1.4zM1125.7 615.9h1.4v1.0h-1.4zM1127.7 615.9h1.4v1.0h-1.4zM1129.7 615.9h1.4v1.0h-1.4zM1133.7 615.9h1.4v1.0h-1.4zM1135.7 615.9h1.4v1.0h-1.4zM1137.7 615.9h1.4v1.0h-1.4zM1145.4 612.5h1.4v1.0h-1.4zM1147.4 612.5h1.4v1.0h-1.4zM1149.4 612.5h1.4v1.0h-1.4zM1153.4 612.5h1.4v1.0h-1.4zM1155.4 612.5h1.4v1.0h-1.4zM1148.0 614.2h1.4v1.0h-1.4zM1150.0 614.2h1.4v1.0h-1.4zM1152.0 614.2h1.4v1.0h-1.4zM1156.0 614.2h1.4v1.0h-1.4zM1145.5 615.9h1.4v1.0h-1.4zM1147.5 615.9h1.4v1.0h-1.4zM1149.5 615.9h1.4v1.0h-1.4zM1151.5 615.9h1.4v1.0h-1.4zM1153.5 615.9h1.4v1.0h-1.4zM1155.5 615.9h1.4v1.0h-1.4zM1165.8 612.5h1.4v1.0h-1.4zM1167.8 612.5h1.4v1.0h-1.4zM1169.8 612.5h1.4v1.0h-1.4zM1173.8 612.5h1.4v1.0h-1.4zM1166.1 614.2h1.4v1.0h-1.4zM1168.1 614.2h1.4v1.0h-1.4zM1170.1 614.2h1.4v1.0h-1.4zM1165.8 615.9h1.4v1.0h-1.4zM1167.8 615.9h1.4v1.0h-1.4zM1171.8 615.9h1.4v1.0h-1.4zM1173.8 615.9h1.4v1.0h-1.4zM1175.8 615.9h1.4v1.0h-1.4zM1184.6 612.5h1.4v1.0h-1.4zM1186.6 612.5h1.4v1.0h-1.4zM1188.6 612.5h1.4v1.0h-1.4zM1190.6 612.5h1.4v1.0h-1.4zM1194.6 612.5h1.4v1.0h-1.4zM1196.6 612.5h1.4v1.0h-1.4zM1186.4 614.2h1.4v1.0h-1.4zM1188.4 614.2h1.4v1.0h-1.4zM1190.4 614.2h1.4v1.0h-1.4zM1194.4 614.2h1.4v1.0h-1.4zM1196.4 614.2h1.4v1.0h-1.4zM1185.3 615.9h1.4v1.0h-1.4zM1189.3 615.9h1.4v1.0h-1.4zM1191.3 615.9h1.4v1.0h-1.4zM1193.3 615.9h1.4v1.0h-1.4zM1204.7 612.5h1.4v1.0h-1.4zM1206.7 612.5h1.4v1.0h-1.4zM1208.7 612.5h1.4v1.0h-1.4zM1210.7 612.5h1.4v1.0h-1.4zM1214.7 612.5h1.4v1.0h-1.4zM1206.3 614.2h1.4v1.0h-1.4zM1208.3 614.2h1.4v1.0h-1.4zM1210.3 614.2h1.4v1.0h-1.4zM1216.3 614.2h1.4v1.0h-1.4zM1204.9 615.9h1.4v1.0h-1.4zM1206.9 615.9h1.4v1.0h-1.4zM1208.9 615.9h1.4v1.0h-1.4zM1210.9 615.9h1.4v1.0h-1.4zM1212.9 615.9h1.4v1.0h-1.4zM1214.9 615.9h1.4v1.0h-1.4zM1224.8 612.5h1.4v1.0h-1.4zM1226.8 612.5h1.4v1.0h-1.4zM1228.8 612.5h1.4v1.0h-1.4zM1230.8 612.5h1.4v1.0h-1.4zM1232.8 612.5h1.4v1.0h-1.4zM1234.8 612.5h1.4v1.0h-1.4zM1224.8 614.2h1.4v1.0h-1.4zM1226.8 614.2h1.4v1.0h-1.4zM1228.8 614.2h1.4v1.0h-1.4zM1230.8 614.2h1.4v1.0h-1.4zM1232.8 614.2h1.4v1.0h-1.4zM1234.8 614.2h1.4v1.0h-1.4zM1226.0 615.9h1.4v1.0h-1.4zM1228.0 615.9h1.4v1.0h-1.4zM1230.0 615.9h1.4v1.0h-1.4zM1234.0 615.9h1.4v1.0h-1.4zM1236.0 615.9h1.4v1.0h-1.4zM1243.8 612.5h1.4v1.0h-1.4zM1245.8 612.5h1.4v1.0h-1.4zM1247.8 612.5h1.4v1.0h-1.4zM1249.8 612.5h1.4v1.0h-1.4zM1251.8 612.5h1.4v1.0h-1.4zM1253.8 612.5h1.4v1.0h-1.4zM1255.8 612.5h1.4v1.0h-1.4zM1244.0 614.2h1.4v1.0h-1.4zM1246.0 614.2h1.4v1.0h-1.4zM1248.0 614.2h1.4v1.0h-1.4zM1250.0 614.2h1.4v1.0h-1.4zM1252.0 614.2h1.4v1.0h-1.4zM1254.0 614.2h1.4v1.0h-1.4zM1242.9 615.9h1.4v1.0h-1.4zM1246.9 615.9h1.4v1.0h-1.4zM1248.9 615.9h1.4v1.0h-1.4zM1250.9 615.9h1.4v1.0h-1.4zM1252.9 615.9h1.4v1.0h-1.4zM1254.9 615.9h1.4v1.0h-1.4zM1263.3 612.5h1.4v1.0h-1.4zM1265.3 612.5h1.4v1.0h-1.4zM1269.3 612.5h1.4v1.0h-1.4zM1271.3 612.5h1.4v1.0h-1.4zM1273.3 612.5h1.4v1.0h-1.4zM1264.5 614.2h1.4v1.0h-1.4zM1266.5 614.2h1.4v1.0h-1.4zM1268.5 614.2h1.4v1.0h-1.4zM1270.5 614.2h1.4v1.0h-1.4zM1272.5 614.2h1.4v1.0h-1.4zM1274.5 614.2h1.4v1.0h-1.4zM1263.6 615.9h1.4v1.0h-1.4zM1267.6 615.9h1.4v1.0h-1.4zM1269.6 615.9h1.4v1.0h-1.4zM1271.6 615.9h1.4v1.0h-1.4zM1273.6 615.9h1.4v1.0h-1.4zM1286.0 612.5h1.4v1.0h-1.4zM1288.0 612.5h1.4v1.0h-1.4zM1290.0 612.5h1.4v1.0h-1.4zM1292.0 612.5h1.4v1.0h-1.4zM1294.0 612.5h1.4v1.0h-1.4zM1283.6 614.2h1.4v1.0h-1.4zM1285.6 614.2h1.4v1.0h-1.4zM1287.6 614.2h1.4v1.0h-1.4zM1289.6 614.2h1.4v1.0h-1.4zM1291.6 614.2h1.4v1.0h-1.4zM1293.6 614.2h1.4v1.0h-1.4zM1283.6 615.9h1.4v1.0h-1.4zM1285.6 615.9h1.4v1.0h-1.4zM1287.6 615.9h1.4v1.0h-1.4zM1289.6 615.9h1.4v1.0h-1.4zM1291.6 615.9h1.4v1.0h-1.4zM1293.6 615.9h1.4v1.0h-1.4zM1303.5 612.5h1.4v1.0h-1.4zM1307.5 612.5h1.4v1.0h-1.4zM1309.5 612.5h1.4v1.0h-1.4zM1311.5 612.5h1.4v1.0h-1.4zM1313.5 612.5h1.4v1.0h-1.4zM1303.6 614.2h1.4v1.0h-1.4zM1305.6 614.2h1.4v1.0h-1.4zM1309.6 614.2h1.4v1.0h-1.4zM1311.6 614.2h1.4v1.0h-1.4zM1313.6 614.2h1.4v1.0h-1.4zM1303.8 615.9h1.4v1.0h-1.4zM1305.8 615.9h1.4v1.0h-1.4zM1309.8 615.9h1.4v1.0h-1.4zM1311.8 615.9h1.4v1.0h-1.4zM1313.8 615.9h1.4v1.0h-1.4zM1323.1 612.5h1.4v1.0h-1.4zM1325.1 612.5h1.4v1.0h-1.4zM1327.1 612.5h1.4v1.0h-1.4zM1329.1 612.5h1.4v1.0h-1.4zM1331.1 612.5h1.4v1.0h-1.4zM1333.1 612.5h1.4v1.0h-1.4zM1325.7 614.2h1.4v1.0h-1.4zM1327.7 614.2h1.4v1.0h-1.4zM1329.7 614.2h1.4v1.0h-1.4zM1331.7 614.2h1.4v1.0h-1.4zM1333.7 614.2h1.4v1.0h-1.4zM1323.3 615.9h1.4v1.0h-1.4zM1325.3 615.9h1.4v1.0h-1.4zM1331.3 615.9h1.4v1.0h-1.4zM1333.3 615.9h1.4v1.0h-1.4zM1341.7 612.5h1.4v1.0h-1.4zM1343.7 612.5h1.4v1.0h-1.4zM1345.7 612.5h1.4v1.0h-1.4zM1347.7 612.5h1.4v1.0h-1.4zM1349.7 612.5h1.4v1.0h-1.4zM1351.7 612.5h1.4v1.0h-1.4zM1353.7 612.5h1.4v1.0h-1.4zM1344.4 614.2h1.4v1.0h-1.4zM1346.4 614.2h1.4v1.0h-1.4zM1348.4 614.2h1.4v1.0h-1.4zM1350.4 614.2h1.4v1.0h-1.4zM1342.3 615.9h1.4v1.0h-1.4zM1344.3 615.9h1.4v1.0h-1.4zM1346.3 615.9h1.4v1.0h-1.4zM1348.3 615.9h1.4v1.0h-1.4zM1350.3 615.9h1.4v1.0h-1.4zM1354.3 615.9h1.4v1.0h-1.4zM1364.9 612.5h1.4v1.0h-1.4zM1368.9 612.5h1.4v1.0h-1.4zM1370.9 612.5h1.4v1.0h-1.4zM1362.4 614.2h1.4v1.0h-1.4zM1364.4 614.2h1.4v1.0h-1.4zM1366.4 614.2h1.4v1.0h-1.4zM1368.4 614.2h1.4v1.0h-1.4zM1370.4 614.2h1.4v1.0h-1.4zM1361.6 615.9h1.4v1.0h-1.4zM1365.6 615.9h1.4v1.0h-1.4zM1367.6 615.9h1.4v1.0h-1.4zM1369.6 615.9h1.4v1.0h-1.4zM1371.6 615.9h1.4v1.0h-1.4zM1373.6 615.9h1.4v1.0h-1.4zM1382.5 612.5h1.4v1.0h-1.4zM1384.5 612.5h1.4v1.0h-1.4zM1386.5 612.5h1.4v1.0h-1.4zM1388.5 612.5h1.4v1.0h-1.4zM1390.5 612.5h1.4v1.0h-1.4zM1392.5 612.5h1.4v1.0h-1.4zM1382.4 614.2h1.4v1.0h-1.4zM1384.4 614.2h1.4v1.0h-1.4zM1386.4 614.2h1.4v1.0h-1.4zM1388.4 614.2h1.4v1.0h-1.4zM1390.4 614.2h1.4v1.0h-1.4zM1392.4 614.2h1.4v1.0h-1.4zM1381.7 615.9h1.4v1.0h-1.4zM1383.7 615.9h1.4v1.0h-1.4zM1385.7 615.9h1.4v1.0h-1.4zM1387.7 615.9h1.4v1.0h-1.4zM1391.7 615.9h1.4v1.0h-1.4zM1393.7 615.9h1.4v1.0h-1.4zM1403.4 612.5h1.4v1.0h-1.4zM1405.4 612.5h1.4v1.0h-1.4zM1407.4 612.5h1.4v1.0h-1.4zM1409.4 612.5h1.4v1.0h-1.4zM1411.4 612.5h1.4v1.0h-1.4zM1413.4 612.5h1.4v1.0h-1.4zM1401.6 614.2h1.4v1.0h-1.4zM1403.6 614.2h1.4v1.0h-1.4zM1405.6 614.2h1.4v1.0h-1.4zM1407.6 614.2h1.4v1.0h-1.4zM1409.6 614.2h1.4v1.0h-1.4zM1411.6 614.2h1.4v1.0h-1.4zM1402.5 615.9h1.4v1.0h-1.4zM1406.5 615.9h1.4v1.0h-1.4zM1408.5 615.9h1.4v1.0h-1.4zM1410.5 615.9h1.4v1.0h-1.4zM1412.5 615.9h1.4v1.0h-1.4zM1420.4 612.5h1.4v1.0h-1.4zM1422.4 612.5h1.4v1.0h-1.4zM1424.4 612.5h1.4v1.0h-1.4zM1426.4 612.5h1.4v1.0h-1.4zM1428.4 612.5h1.4v1.0h-1.4zM1430.4 612.5h1.4v1.0h-1.4zM1432.4 612.5h1.4v1.0h-1.4zM1420.3 614.2h1.4v1.0h-1.4zM1422.3 614.2h1.4v1.0h-1.4zM1424.3 614.2h1.4v1.0h-1.4zM1426.3 614.2h1.4v1.0h-1.4zM1428.3 614.2h1.4v1.0h-1.4zM1430.3 614.2h1.4v1.0h-1.4zM1432.3 614.2h1.4v1.0h-1.4zM1422.9 615.9h1.4v1.0h-1.4zM1424.9 615.9h1.4v1.0h-1.4zM1426.9 615.9h1.4v1.0h-1.4zM1428.9 615.9h1.4v1.0h-1.4zM1430.9 615.9h1.4v1.0h-1.4zM1432.9 615.9h1.4v1.0h-1.4zM1441.8 612.5h1.4v1.0h-1.4zM1443.8 612.5h1.4v1.0h-1.4zM1445.8 612.5h1.4v1.0h-1.4zM1447.8 612.5h1.4v1.0h-1.4zM1449.8 612.5h1.4v1.0h-1.4zM1451.8 612.5h1.4v1.0h-1.4zM1440.9 614.2h1.4v1.0h-1.4zM1442.9 614.2h1.4v1.0h-1.4zM1444.9 614.2h1.4v1.0h-1.4zM1448.9 614.2h1.4v1.0h-1.4zM1441.8 615.9h1.4v1.0h-1.4zM1443.8 615.9h1.4v1.0h-1.4zM1445.8 615.9h1.4v1.0h-1.4zM1447.8 615.9h1.4v1.0h-1.4zM1449.8 615.9h1.4v1.0h-1.4zM1451.8 615.9h1.4v1.0h-1.4zM1460.7 612.5h1.4v1.0h-1.4zM1462.7 612.5h1.4v1.0h-1.4zM1464.7 612.5h1.4v1.0h-1.4zM1466.7 612.5h1.4v1.0h-1.4zM1468.7 612.5h1.4v1.0h-1.4zM1470.7 612.5h1.4v1.0h-1.4zM1460.0 614.2h1.4v1.0h-1.4zM1462.0 614.2h1.4v1.0h-1.4zM1464.0 614.2h1.4v1.0h-1.4zM1466.0 614.2h1.4v1.0h-1.4zM1468.0 614.2h1.4v1.0h-1.4zM1470.0 614.2h1.4v1.0h-1.4zM1472.0 614.2h1.4v1.0h-1.4zM1461.2 615.9h1.4v1.0h-1.4zM1463.2 615.9h1.4v1.0h-1.4zM1465.2 615.9h1.4v1.0h-1.4zM1467.2 615.9h1.4v1.0h-1.4zM1469.2 615.9h1.4v1.0h-1.4zM1479.6 612.5h1.4v1.0h-1.4zM1481.6 612.5h1.4v1.0h-1.4zM1483.6 612.5h1.4v1.0h-1.4zM1485.6 612.5h1.4v1.0h-1.4zM1487.6 612.5h1.4v1.0h-1.4zM1483.1 614.2h1.4v1.0h-1.4zM1485.1 614.2h1.4v1.0h-1.4zM1487.1 614.2h1.4v1.0h-1.4zM1480.2 615.9h1.4v1.0h-1.4zM1482.2 615.9h1.4v1.0h-1.4zM1484.2 615.9h1.4v1.0h-1.4zM1486.2 615.9h1.4v1.0h-1.4z"/>
<path fill="#fff" fill-opacity="0.82" d="M916.0 361.0h2.2v1.2h-2.2zM916.0 364.0h2.2v1.2h-2.2zM916.0 367.0h2.2v1.2h-2.2zM921.0 365.8h2.4v1.2h-2.4zM921.0 369.3h2.4v1.2h-2.4zM926.0 360.3h5.7v1.2h-5.7zM926.0 361.9h5.7v1.2h-5.7zM926.0 363.5h6.4v1.2h-6.4zM926.0 365.1h4.1v1.2h-4.1zM927.0 367.0h3.0v1.2h-3.0zM935.7 361.0h2.2v1.2h-2.2zM935.7 364.0h2.2v1.2h-2.2zM935.7 367.0h2.2v1.2h-2.2zM940.7 365.8h2.4v1.2h-2.4zM940.7 369.3h2.4v1.2h-2.4zM945.7 360.3h6.1v1.2h-6.1zM945.7 361.9h6.0v1.2h-6.0zM945.7 363.5h4.7v1.2h-4.7zM945.7 365.1h5.5v1.2h-5.5zM946.7 367.0h3.0v1.2h-3.0zM955.4 361.0h2.2v1.2h-2.2zM955.4 364.0h2.2v1.2h-2.2zM955.4 367.0h2.2v1.2h-2.2zM960.4 365.8h2.4v1.2h-2.4zM960.4 369.3h2.4v1.2h-2.4zM965.4 360.3h6.2v1.2h-6.2zM965.4 361.9h5.8v1.2h-5.8zM965.4 363.5h6.3v1.2h-6.3zM965.4 365.1h4.9v1.2h-4.9zM966.4 367.0h3.0v1.2h-3.0zM975.1 361.0h2.2v1.2h-2.2zM975.1 364.0h2.2v1.2h-2.2zM975.1 367.0h2.2v1.2h-2.2zM980.1 365.8h2.4v1.2h-2.4zM980.1 369.3h2.4v1.2h-2.4zM985.1 360.3h6.1v1.2h-6.1zM985.1 361.9h6.1v1.2h-6.1zM985.1 363.5h4.6v1.2h-4.6zM985.1 365.1h5.3v1.2h-5.3zM986.1 367.0h3.0v1.2h-3.0zM994.8 361.0h2.2v1.2h-2.2zM994.8 364.0h2.2v1.2h-2.2zM994.8 367.0h2.2v1.2h-2.2zM999.8 365.8h2.4v1.2h-2.4zM999.8 369.3h2.4v1.2h-2.4zM1004.8 360.3h5.1v1.2h-5.1zM1004.8 361.9h4.1v1.2h-4.1zM1004.8 363.5h4.2v1.2h-4.2zM1004.8 365.1h6.0v1.2h-6.0zM1005.8 367.0h3.0v1.2h-3.0zM1014.5 361.0h2.2v1.2h-2.2zM1014.5 364.0h2.2v1.2h-2.2zM1014.5 367.0h2.2v1.2h-2.2zM1019.5 365.8h2.4v1.2h-2.4zM1019.5 369.3h2.4v1.2h-2.4zM1024.5 360.3h6.2v1.2h-6.2zM1024.5 361.9h4.5v1.2h-4.5zM1024.5 363.5h5.5v1.2h-5.5zM1024.5 365.1h6.2v1.2h-6.2zM1025.5 367.0h3.0v1.2h-3.0zM1034.2 361.0h2.2v1.2h-2.2zM1034.2 364.0h2.2v1.2h-2.2zM1034.2 367.0h2.2v1.2h-2.2zM1039.2 365.8h2.4v1.2h-2.4zM1039.2 369.3h2.4v1.2h-2.4zM1044.2 360.3h4.2v1.2h-4.2zM1044.2 361.9h4.7v1.2h-4.7zM1044.2 363.5h6.1v1.2h-6.1zM1044.2 365.1h5.5v1.2h-5.5zM1045.2 367.0h3.0v1.2h-3.0zM1053.9 361.0h2.2v1.2h-2.2zM1053.9 364.0h2.2v1.2h-2.2zM1053.9 367.0h2.2v1.2h-2.2zM1058.9 365.8h2.4v1.2h-2.4zM1058.9 369.3h2.4v1.2h-2.4zM1063.9 360.3h6.4v1.2h-6.4zM1063.9 361.9h5.6v1.2h-5.6zM1063.9 363.5h5.9v1.2h-5.9zM1063.9 365.1h5.6v1.2h-5.6zM1064.9 367.0h3.0v1.2h-3.0zM1072.0 366.6h6.0v1.3h-6.0zM1072.0 369.2h5.5v1.3h-5.5zM1078.0 365.4h5.0v1.3h-5.0zM1077.5 368.0h5.5v1.3h-5.5zM1082.0 362.0h9.0v1.3h-9.0zM1083.0 363.7h8.0v1.3h-8.0zM1083.5 365.4h7.0v1.3h-7.0zM1085.0 367.2h6.5v1.3h-6.5zM1091.7 366.6h6.0v1.3h-6.0zM1091.7 369.2h5.5v1.3h-5.5zM1097.7 365.4h5.0v1.3h-5.0zM1097.2 368.0h5.5v1.3h-5.5zM1101.7 362.0h9.0v1.3h-9.0zM1102.7 363.7h8.0v1.3h-8.0zM1103.2 365.4h7.0v1.3h-7.0zM1104.7 367.2h6.5v1.3h-6.5zM1111.4 366.6h6.0v1.3h-6.0zM1111.4 369.2h5.5v1.3h-5.5zM1117.4 365.4h5.0v1.3h-5.0zM1116.9 368.0h5.5v1.3h-5.5zM1121.4 362.0h9.0v1.3h-9.0zM1122.4 363.7h8.0v1.3h-8.0zM1122.9 365.4h7.0v1.3h-7.0zM1124.4 367.2h6.5v1.3h-6.5zM1131.1 366.6h6.0v1.3h-6.0zM1131.1 369.2h5.5v1.3h-5.5zM1137.1 365.4h5.0v1.3h-5.0zM1136.6 368.0h5.5v1.3h-5.5zM1141.1 362.0h9.0v1.3h-9.0zM1142.1 363.7h8.0v1.3h-8.0zM1142.6 365.4h7.0v1.3h-7.0zM1144.1 367.2h6.5v1.3h-6.5zM1143.1 360.4h4.0v1.3h-4.0zM1150.8 366.6h6.0v1.3h-6.0zM1150.8 369.2h5.5v1.3h-5.5zM1156.8 365.4h5.0v1.3h-5.0zM1156.3 368.0h5.5v1.3h-5.5zM1160.8 362.0h9.0v1.3h-9.0zM1161.8 363.7h8.0v1.3h-8.0zM1162.3 365.4h7.0v1.3h-7.0zM1163.8 367.2h6.5v1.3h-6.5zM1170.5 366.6h6.0v1.3h-6.0zM1170.5 369.2h5.5v1.3h-5.5zM1176.5 365.4h5.0v1.3h-5.0zM1176.0 368.0h5.5v1.3h-5.5zM1180.5 362.0h9.0v1.3h-9.0zM1181.5 363.7h8.0v1.3h-8.0zM1182.0 365.4h7.0v1.3h-7.0zM1183.5 367.2h6.5v1.3h-6.5zM1190.2 366.6h6.0v1.3h-6.0zM1190.2 369.2h5.5v1.3h-5.5zM1196.2 365.4h5.0v1.3h-5.0zM1195.7 368.0h5.5v1.3h-5.5zM1200.2 362.0h9.0v1.3h-9.0zM1201.2 363.7h8.0v1.3h-8.0zM1201.7 365.4h7.0v1.3h-7.0zM1203.2 367.2h6.5v1.3h-6.5zM1209.9 366.6h6.0v1.3h-6.0zM1209.9 369.2h5.5v1.3h-5.5zM1215.9 365.4h5.0v1.3h-5.0zM1215.4 368.0h5.5v1.3h-5.5zM1219.9 362.0h9.0v1.3h-9.0zM1220.9 363.7h8.0v1.3h-8.0zM1221.4 365.4h7.0v1.3h-7.0zM1222.9 367.2h6.5v1.3h-6.5zM1221.9 360.4h4.0v1.3h-4.0zM1229.6 366.6h6.0v1.3h-6.0zM1229.6 369.2h5.5v1.3h-5.5zM1235.6 365.4h5.0v1.3h-5.0zM1235.1 368.0h5.5v1.3h-5.5zM1239.6 362.0h9.0v1.3h-9.0zM1240.6 363.7h8.0v1.3h-8.0zM1241.1 365.4h7.0v1.3h-7.0zM1242.6 367.2h6.5v1.3h-6.5zM1249.3 366.6h6.0v1.3h-6.0zM1249.3 369.2h5.5v1.3h-5.5zM1255.3 365.4h5.0v1.3h-5.0zM1254.8 368.0h5.5v1.3h-5.5zM1259.3 362.0h9.0v1.3h-9.0zM1260.3 363.7h8.0v1.3h-8.0zM1260.8 365.4h7.0v1.3h-7.0zM1262.3 367.2h6.5v1.3h-6.5zM1269.0 366.6h6.0v1.3h-6.0zM1269.0 369.2h5.5v1.3h-5.5zM1275.0 365.4h5.0v1.3h-5.0zM1274.5 368.0h5.5v1.3h-5.5zM1279.0 362.0h9.0v1.3h-9.0zM1280.0 363.7h8.0v1.3h-8.0zM1280.5 365.4h7.0v1.3h-7.0zM1282.0 367.2h6.5v1.3h-6.5zM1288.7 366.6h6.0v1.3h-6.0zM1288.7 369.2h5.5v1.3h-5.5zM1294.7 365.4h5.0v1.3h-5.0zM1294.2 368.0h5.5v1.3h-5.5zM1298.7 362.0h9.0v1.3h-9.0zM1299.7 363.7h8.0v1.3h-8.0zM1300.2 365.4h7.0v1.3h-7.0zM1301.7 367.2h6.5v1.3h-6.5zM1300.7 360.4h4.0v1.3h-4.0zM1308.4 366.6h6.0v1.3h-6.0zM1308.4 369.2h5.5v1.3h-5.5zM1314.4 365.4h5.0v1.3h-5.0zM1313.9 368.0h5.5v1.3h-5.5zM1318.4 362.0h9.0v1.3h-9.0zM1319.4 363.7h8.0v1.3h-8.0zM1319.9 365.4h7.0v1.3h-7.0zM1321.4 367.2h6.5v1.3h-6.5zM1328.1 366.6h6.0v1.3h-6.0zM1328.1 369.2h5.5v1.3h-5.5zM1334.1 365.4h5.0v1.3h-5.0zM1333.6 368.0h5.5v1.3h-5.5zM1338.1 362.0h9.0v1.3h-9.0zM1339.1 363.7h8.0v1.3h-8.0zM1339.6 365.4h7.0v1.3h-7.0zM1341.1 367.2h6.5v1.3h-6.5zM1347.8 366.6h6.0v1.3h-6.0zM1347.8 369.2h5.5v1.3h-5.5zM1353.8 365.4h5.0v1.3h-5.0zM1353.3 368.0h5.5v1.3h-5.5zM1357.8 362.0h9.0v1.3h-9.0zM1358.8 363.7h8.0v1.3h-8.0zM1359.3 365.4h7.0v1.3h-7.0zM1360.8 367.2h6.5v1.3h-6.5zM1367.5 366.6h6.0v1.3h-6.0zM1367.5 369.2h5.5v1.3h-5.5zM1373.5 365.4h5.0v1.3h-5.0zM1373.0 368.0h5.5v1.3h-5.5zM1377.5 362.0h9.0v1.3h-9.0zM1378.5 363.7h8.0v1.3h-8.0zM1379.0 365.4h7.0v1.3h-7.0zM1380.5 367.2h6.5v1.3h-6.5zM1379.5 360.4h4.0v1.3h-4.0zM1387.2 366.6h6.0v1.3h-6.0zM1387.2 369.2h5.5v1.3h-5.5zM1393.2 365.4h5.0v1.3h-5.0zM1392.7 368.0h5.5v1.3h-5.5zM1397.2 362.0h9.0v1.3h-9.0zM1398.2 363.7h8.0v1.3h-8.0zM1398.7 365.4h7.0v1.3h-7.0zM1400.2 367.2h6.5v1.3h-6.5zM1406.9 366.6h6.0v1.3h-6.0zM1406.9 369.2h5.5v1.3h-5.5zM1412.9 365.4h5.0v1.3h-5.0zM1412.4 368.0h5.5v1.3h-5.5zM1416.9 362.0h9.0v1.3h-9.0zM1417.9 363.7h8.0v1.3h-8.0zM1418.4 365.4h7.0v1.3h-7.0zM1419.9 367.2h6.5v1.3h-6.5zM1426.6 366.6h6.0v1.3h-6.0zM1426.6 369.2h5.5v1.3h-5.5zM1432.6 365.4h5.0v1.3h-5.0zM1432.1 368.0h5.5v1.3h-5.5zM1436.6 362.0h9.0v1.3h-9.0zM1437.6 363.7h8.0v1.3h-8.0zM1438.1 365.4h7.0v1.3h-7.0zM1439.6 367.2h6.5v1.3h-6.5zM1446.3 366.6h6.0v1.3h-6.0zM1446.3 369.2h5.5v1.3h-5.5zM1452.3 365.4h5.0v1.3h-5.0zM1451.8 368.0h5.5v1.3h-5.5zM1456.3 362.0h9.0v1.3h-9.0zM1457.3 363.7h8.0v1.3h-8.0zM1457.8 365.4h7.0v1.3h-7.0zM1459.3 367.2h6.5v1.3h-6.5zM1458.3 360.4h4.0v1.3h-4.0zM1466.0 366.6h6.0v1.3h-6.0zM1466.0 369.2h5.5v1.3h-5.5zM1472.0 365.4h5.0v1.3h-5.0zM1471.5 368.0h5.5v1.3h-5.5zM1476.0 362.0h9.0v1.3h-9.0zM1477.0 363.7h8.0v1.3h-8.0zM1477.5 365.4h7.0v1.3h-7.0zM1479.0 367.2h6.5v1.3h-6.5zM1485.7 366.6h2.3v1.3h-2.3zM1485.7 369.2h2.3v1.3h-2.3zM916.0 422.2h2.2v1.2h-2.2zM916.0 425.2h2.2v1.2h-2.2zM916.0 428.2h2.2v1.2h-2.2zM921.0 427.0h2.4v1.2h-2.4zM921.0 430.5h2.4v1.2h-2.4zM926.0 421.5h6.4v1.2h-6.4zM926.0 423.1h5.9v1.2h-5.9zM926.0 424.7h5.6v1.2h-5.6zM926.0 426.3h5.3v1.2h-5.3zM927.0 428.2h3.0v1.2h-3.0zM935.7 422.2h2.2v1.2h-2.2zM935.7 425.2h2.2v1.2h-2.2zM935.7 428.2h2.2v1.2h-2.2zM940.7 427.0h2.4v1.2h-2.4zM940.7 430.5h2.4v1.2h-2.4zM945.7 421.5h6.1v1.2h-6.1zM945.7 423.1h5.1v1.2h-5.1zM945.7 424.7h4.2v1.2h-4.2zM945.7 426.3h6.3v1.2h-6.3zM946.7 428.2h3.0v1.2h-3.0zM955.4 422.2h2.2v1.2h-2.2zM955.4 425.2h2.2v1.2h-2.2zM955.4 428.2h2.2v1.2h-2.2zM960.4 427.0h2.4v1.2h-2.4zM960.4 430.5h2.4v1.2h-2.4zM965.4 421.5h6.0v1.2h-6.0zM965.4 423.1h5.7v1.2h-5.7zM965.4 424.7h5.9v1.2h-5.9zM965.4 426.3h4.6v1.2h-4.6zM966.4 428.2h3.0v1.2h-3.0zM975.1 422.2h2.2v1.2h-2.2zM975.1 425.2h2.2v1.2h-2.2zM975.1 428.2h2.2v1.2h-2.2zM980.1 427.0h2.4v1.2h-2.4zM980.1 430.5h2.4v1.2h-2.4zM985.1 421.5h5.2v1.2h-5.2zM985.1 423.1h6.1v1.2h-6.1zM985.1 424.7h6.4v1.2h-6.4zM985.1 426.3h6.3v1.2h-6.3zM986.1 428.2h3.0v1.2h-3.0zM994.8 422.2h2.2v1.2h-2.2zM994.8 425.2h2.2v1.2h-2.2zM994.8 428.2h2.2v1.2h-2.2zM999.8 427.0h2.4v1.2h-2.4zM999.8 430.5h2.4v1.2h-2.4zM1004.8 421.5h4.4v1.2h-4.4zM1004.8 423.1h5.7v1.2h-5.7zM1004.8 424.7h5.4v1.2h-5.4zM1004.8 426.3h5.0v1.2h-5.0zM1005.8 428.2h3.0v1.2h-3.0zM1014.5 422.2h2.2v1.2h-2.2zM1014.5 425.2h2.2v1.2h-2.2zM1014.5 428.2h2.2v1.2h-2.2zM1019.5 427.0h2.4v1.2h-2.4zM1019.5 430.5h2.4v1.2h-2.4zM1024.5 421.5h4.4v1.2h-4.4zM1024.5 423.1h4.3v1.2h-4.3zM1024.5 424.7h5.2v1.2h-5.2zM1024.5 426.3h5.2v1.2h-5.2zM1025.5 428.2h3.0v1.2h-3.0zM1034.2 422.2h2.2v1.2h-2.2zM1034.2 425.2h2.2v1.2h-2.2zM1034.2 428.2h2.2v1.2h-2.2zM1039.2 427.0h2.4v1.2h-2.4zM1039.2 430.5h2.4v1.2h-2.4zM1044.2 421.5h4.7v1.2h-4.7zM1044.2 423.1h4.9v1.2h-4.9zM1044.2 424.7h5.4v1.2h-5.4zM1044.2 426.3h5.9v1.2h-5.9zM1045.2 428.2h3.0v1.2h-3.0zM1053.9 422.2h2.2v1.2h-2.2zM1053.9 425.2h2.2v1.2h-2.2zM1053.9 428.2h2.2v1.2h-2.2zM1058.9 427.0h2.4v1.2h-2.4zM1058.9 430.5h2.4v1.2h-2.4zM1063.9 421.5h5.5v1.2h-5.5zM1063.9 423.1h4.4v1.2h-4.4zM1063.9 424.7h6.2v1.2h-6.2zM1063.9 426.3h4.9v1.2h-4.9zM1064.9 428.2h3.0v1.2h-3.0zM1072.0 427.8h6.0v1.3h-6.0zM1072.0 430.4h5.5v1.3h-5.5zM1078.0 426.6h5.0v1.3h-5.0zM1077.5 429.2h5.5v1.3h-5.5zM1082.0 423.2h9.0v1.3h-9.0zM1083.0 424.9h8.0v1.3h-8.0zM1083.5 426.6h7.0v1.3h-7.0zM1085.0 428.4h6.5v1.3h-6.5zM1091.7 427.8h6.0v1.3h-6.0zM1091.7 430.4h5.5v1.3h-5.5zM1097.7 426.6h5.0v1.3h-5.0zM1097.2 429.2h5.5v1.3h-5.5zM1101.7 423.2h9.0v1.3h-9.0zM1102.7 424.9h8.0v1.3h-8.0zM1103.2 426.6h7.0v1.3h-7.0zM1104.7 428.4h6.5v1.3h-6.5zM1111.4 427.8h6.0v1.3h-6.0zM1111.4 430.4h5.5v1.3h-5.5zM1117.4 426.6h5.0v1.3h-5.0zM1116.9 429.2h5.5v1.3h-5.5zM1121.4 423.2h9.0v1.3h-9.0zM1122.4 424.9h8.0v1.3h-8.0zM1122.9 426.6h7.0v1.3h-7.0zM1124.4 428.4h6.5v1.3h-6.5zM1131.1 427.8h6.0v1.3h-6.0zM1131.1 430.4h5.5v1.3h-5.5zM1137.1 426.6h5.0v1.3h-5.0zM1136.6 429.2h5.5v1.3h-5.5zM1141.1 423.2h9.0v1.3h-9.0zM1142.1 424.9h8.0v1.3h-8.0zM1142.6 426.6h7.0v1.3h-7.0zM1144.1 428.4h6.5v1.3h-6.5zM1143.1 421.6h4.0v1.3h-4.0zM1150.8 427.8h6.0v1.3h-6.0zM1150.8 430.4h5.5v1.3h-5.5zM1156.8 426.6h5.0v1.3h-5.0zM1156.3 429.2h5.5v1.3h-5.5zM1160.8 423.2h9.0v1.3h-9.0zM1161.8 424.9h8.0v1.3h-8.0zM1162.3 426.6h7.0v1.3h-7.0zM1163.8 428.4h6.5v1.3h-6.5zM1170.5 427.8h6.0v1.3h-6.0zM1170.5 430.4h5.5v1.3h-5.5zM1176.5 426.6h5.0v1.3h-5.0zM1176.0 429.2h5.5v1.3h-5.5zM1180.5 423.2h9.0v1.3h-9.0zM1181.5 424.9h8.0v1.3h-8.0zM1182.0 426.6h7.0v1.3h-7.0zM1183.5 428.4h6.5v1.3h-6.5zM1190.2 427.8h6.0v1.3h-6.0zM1190.2 430.4h5.5v1.3h-5.5zM1196.2 426.6h5.0v1.3h-5.0zM1195.7 429.2h5.5v1.3h-5.5zM1200.2 423.2h9.0v1.3h-9.0zM1201.2 424.9h8.0v1.3h-8.0zM1201.7 426.6h7.0v1.3h-7.0zM1203.2 428.4h6.5v1.3h-6.5zM1209.9 427.8h6.0v1.3h-6.0zM1209.9 430.4h5.5v1.3h-5.5zM1215.9 426.6h5.0v1.3h-5.0zM1215.4 429.2h5.5v1.3h-5.5zM1219.9 423.2h9.0v1.3h-9.0zM1220.9 424.9h8.0v1.3h-8.0zM1221.4 426.6h7.0v1.3h-7.0zM1222.9 428.4h6.5v1.3h-6.5zM1221.9 421.6h4.0v1.3h-4.0zM1229.6 427.8h6.0v1.3h-6.0zM1229.6 430.4h5.5v1.3h-5.5zM1235.6 426.6h5.0v1.3h-5.0zM1235.1 429.2h5.5v1.3h-5.5zM1239.6 423.2h9.0v1.3h-9.0zM1240.6 424.9h8.0v1.3h-8.0zM1241.1 426.6h7.0v1.3h-7.0zM1242.6 428.4h6.5v1.3h-6.5zM1249.3 427.8h6.0v1.3h-6.0zM1249.3 430.4h5.5v1.3h-5.5zM1255.3 426.6h5.0v1.3h-5.0zM1254.8 429.2h5.5v1.3h-5.5zM1259.3 423.2h9.0v1.3h-9.0zM1260.3 424.9h8.0v1.3h-8.0zM1260.8 426.6h7.0v1.3h-7.0zM1262.3 428.4h6.5v1.3h-6.5zM1269.0 427.8h6.0v1.3h-6.0zM1269.0 430.4h5.5v1.3h-5.5zM1275.0 426.6h5.0v1.3h-5.0zM1274.5 429.2h5.5v1.3h-5.5zM1279.0 423.2h9.0v1.3h-9.0zM1280.0 424.9h8.0v1.3h-8.0zM1280.5 426.6h7.0v1.3h-7.0zM1282.0 428.4h6.5v1.3h-6.5zM1288.7 427.8h6.0v1.3h-6.0zM1288.7 430.4h5.5v1.3h-5.5zM1294.7 426.6h5.0v1.3h-5.0zM1294.2 429.2h5.5v1.3h-5.5zM1298.7 423.2h9.0v1.3h-9.0zM1299.7 424.9h8.0v1.3h-8.0zM1300.2 426.6h7.0v1.3h-7.0zM1301.7 428.4h6.5v1.3h-6.5zM1300.7 421.6h4.0v1.3h-4.0zM1308.4 427.8h6.0v1.3h-6.0zM1308.4 430.4h5.5v1.3h-5.5zM1314.4 426.6h5.0v1.3h-5.0zM1313.9 429.2h5.5v1.3h-5.5zM1318.4 423.2h9.0v1.3h-9.0zM1319.4 424.9h8.0v1.3h-8.0zM1319.9 426.6h7.0v1.3h-7.0zM1321.4 428.4h6.5v1.3h-6.5zM1328.1 427.8h6.0v1.3h-6.0zM1328.1 430.4h5.5v1.3h-5.5zM1334.1 426.6h5.0v1.3h-5.0zM1333.6 429.2h5.5v1.3h-5.5zM1338.1 423.2h9.0v1.3h-9.0zM1339.1 424.9h8.0v1.3h-8.0zM1339.6 426.6h7.0v1.3h-7.0zM1341.1 428.4h6.5v1.3h-6.5zM1347.8 427.8h6.0v1.3h-6.0zM1347.8 430.4h5.5v1.3h-5.5zM1353.8 426.6h5.0v1.3h-5.0zM1353.3 429.2h5.5v1.3h-5.5zM1357.8 423.2h9.0v1.3h-9.0zM1358.8 424.9h8.0v1.3h-8.0zM1359.3 426.6h7.0v1.3h-7.0zM1360.8 428.4h6.5v1.3h-6.5zM1367.5 427.8h6.0v1.3h-6.0zM1367.5 430.4h5.5v1.3h-5.5zM1373.5 426.6h5.0v1.3h-5.0zM1373.0 429.2h5.5v1.3h-5.5zM1377.5 423.2h9.0v1.3h-9.0zM1378.5 424.9h8.0v1.3h-8.0zM1379.0 426.6h7.0v1.3h-7.0zM1380.5 428.4h6.5v1.3h-6.5zM1379.5 421.6h4.0v1.3h-4.0zM1387.2 427.8h6.0v1.3h-6.0zM1387.2 430.4h5.5v1.3h-5.5zM1393.2 426.6h5.0v1.3h-5.0zM1392.7 429.2h5.5v1.3h-5.5zM1397.2 423.2h9.0v1.3h-9.0zM1398.2 424.9h8.0v1.3h-8.0zM1398.7 426.6h7.0v1.3h-7.0zM1400.2 428.4h6.5v1.3h-6.5zM1406.9 427.8h6.0v1.3h-6.0zM1406.9 430.4h5.5v1.3h-5.5zM1412.9 426.6h5.0v1.3h-5.0zM1412.4 429.2h5.5v1.3h-5.5zM1416.9 423.2h9.0v1.3h-9.0zM1417.9 424.9h8.0v1.3h-8.0zM1418.4 426.6h7.0v1.3h-7.0zM1419.9 428.4h6.5v1.3h-6.5zM1426.6 427.8h6.0v1.3h-6.0zM1426.6 430.4h5.5v1.3h-5.5zM1432.6 426.6h5.0v1.3h-5.0zM1432.1 429.2h5.5v1.3h-5.5zM1436.6 423.2h9.0v1.3h-9.0zM1437.6 424.9h8.0v1.3h-8.0zM1438.1 426.6h7.0v1.3h-7.0zM1439.6 428.4h6.5v1.3h-6.5zM1446.3 427.8h6.0v1.3h-6.0zM1446.3 430.4h5.5v1.3h-5.5zM1452.3 426.6h5.0v1.3h-5.0zM1451.8 429.2h5.5v1.3h-5.5zM1456.3 423.2h9.0v1.3h-9.0zM1457.3 424.9h8.0v1.3h-8.0zM1457.8 426.6h7.0v1.3h-7.0zM1459.3 428.4h6.5v1.3h-6.5zM1458.3 421.6h4.0v1.3h-4.0zM1466.0 427.8h6.0v1.3h-6.0zM1466.0 430.4h5.5v1.3h-5.5zM1472.0 426.6h5.0v1.3h-5.0zM1471.5 429.2h5.5v1.3h-5.5zM1476.0 423.2h9.0v1.3h-9.0zM1477.0 424.9h8.0v1.3h-8.0zM1477.5 426.6h7.0v1.3h-7.0zM1479.0 428.4h6.5v1.3h-6.5zM1485.7 427.8h2.3v1.3h-2.3zM1485.7 430.4h2.3v1.3h-2.3z"/>
<path fill="#fff" fill-opacity="0.97" d="M586.7 537.6h2.0v1.3h-2.0zM588.2 536.6h2.0v1.3h-2.0zM590.0 535.7h9.0v1.3h-9.0zM598.5 536.5h2.5v1.3h-2.5zM600.5 537.6h2.8v1.3h-2.8zM610.0 539.0h1.8v1.3h-1.8zM611.2 537.6h1.8v1.3h-1.8zM612.5 536.4h2.0v1.3h-2.0zM614.0 535.6h13.3v1.3h-13.3zM631.5 537.0h2.0v1.3h-2.0zM633.0 535.5h2.0v1.3h-2.0zM634.8 534.0h2.0v1.3h-2.0zM636.3 533.0h2.2v1.3h-2.2zM638.0 534.2h2.0v1.3h-2.0zM639.6 535.5h2.0v1.3h-2.0zM641.2 536.8h2.2v1.3h-2.2zM633.5 538.5h2.0v1.3h-2.0zM635.5 537.2h2.5v1.3h-2.5zM638.5 538.6h2.0v1.3h-2.0zM640.0 540.0h2.5v1.3h-2.5zM642.0 541.2h2.5v1.3h-2.5zM644.0 536.3h3.5v1.3h-3.5zM648.5 536.3h3.5v1.3h-3.5zM653.0 536.3h3.5v1.3h-3.5zM645.0 540.6h3.0v1.3h-3.0zM649.0 540.6h3.5v1.3h-3.5zM653.5 540.6h3.0v1.3h-3.0zM644.0 538.4h2.0v1.3h-2.0zM670.5 540.8h2.0v1.3h-2.0zM672.0 539.4h2.0v1.3h-2.0zM673.5 538.0h2.2v1.3h-2.2zM675.5 537.0h7.0v1.3h-7.0zM682.5 537.8h3.0v1.3h-3.0zM685.5 537.0h7.8v1.3h-7.8zM671.0 543.0h2.0v1.3h-2.0zM672.5 541.8h2.2v1.3h-2.2zM674.5 540.8h6.5v1.3h-6.5zM681.0 541.8h2.5v1.3h-2.5zM683.0 543.0h2.2v1.3h-2.2zM686.0 540.9h7.3v1.3h-7.3zM888.0 536.6h6.0v1.3h-6.0zM894.0 536.0h6.0v1.3h-6.0zM900.0 537.0h7.0v1.3h-7.0zM908.0 536.2h3.0v1.3h-3.0zM910.5 535.2h4.5v1.3h-4.5zM888.0 540.0h5.0v1.3h-5.0zM893.0 540.6h6.0v1.3h-6.0zM899.0 541.2h7.0v1.3h-7.0zM907.0 540.4h4.0v1.3h-4.0zM911.0 539.4h4.0v1.3h-4.0zM943.0 537.9h2.0v1.3h-2.0zM945.3 537.2h2.0v1.3h-2.0zM947.5 536.1h7.9v1.3h-7.9zM955.7 536.5h7.9v1.3h-7.9zM965.7 534.6h2.0v1.3h-2.0zM968.0 533.6h2.0v1.3h-2.0zM970.3 533.2h3.3v1.3h-3.3zM973.9 534.2h1.5v1.3h-1.5zM975.7 535.5h1.5v1.3h-1.5zM977.5 536.6h2.0v1.3h-2.0zM988.5 536.2h8.8v1.3h-8.8zM997.5 537.8h2.4v1.3h-2.4zM1000.3 538.2h2.4v1.3h-2.4zM1023.0 537.6h2.0v1.3h-2.0zM1025.3 536.9h2.0v1.3h-2.0zM1027.5 536.4h7.9v1.3h-7.9zM1035.7 536.2h7.9v1.3h-7.9zM1045.7 535.2h2.0v1.3h-2.0zM1048.0 533.9h2.0v1.3h-2.0zM1050.3 532.9h3.3v1.3h-3.3zM1053.9 534.5h1.5v1.3h-1.5zM1055.7 535.5h1.5v1.3h-1.5zM1057.5 536.0h2.0v1.3h-2.0zM1068.5 536.5h8.8v1.3h-8.8zM1077.5 537.5h2.4v1.3h-2.4zM1080.3 538.2h2.4v1.3h-2.4zM1103.0 538.2h0.7v1.3h-0.7zM1105.3 536.6h6.5v1.2h-6.5zM1111.8 538.0h2.5v1.2h-2.5zM1113.8 539.6h2.5v1.2h-2.5zM1115.8 541.2h3.5v1.2h-3.5zM1125.3 533.2h11.0v1.2h-11.0zM1137.8 532.8h10.5v1.2h-10.5zM1130.3 535.5h1.3v2.2h-1.3zM1125.3 540.4h12.0v1.2h-12.0zM1137.3 541.0h6.0v1.2h-6.0zM1143.3 541.9h5.0v1.2h-5.0zM1139.3 536.5h2.0v1.2h-2.0zM1150.3 535.4h2.4v1.2h-2.4zM1151.3 540.4h2.4v1.2h-2.4zM1153.6 535.4h2.4v1.2h-2.4zM1154.6 540.4h2.4v1.2h-2.4zM1156.9 535.4h2.4v1.2h-2.4zM1157.9 540.4h2.4v1.2h-2.4zM1160.2 535.4h2.4v1.2h-2.4zM1161.2 540.4h2.4v1.2h-2.4zM1158.3 533.3h3.0v1.2h-3.0zM1160.8 534.6h2.5v1.2h-2.5zM1162.8 536.2h2.5v1.2h-2.5zM1165.3 536.5h2.2v1.2h-2.2zM1167.9 538.1h2.2v1.2h-2.2zM1170.5 539.7h2.2v1.2h-2.2zM1173.1 541.3h2.2v1.2h-2.2zM1168.3 536.0h2.0v1.2h-2.0zM1171.3 538.0h2.0v1.2h-2.0zM1184.6 536.6h6.5v1.2h-6.5zM1191.1 538.0h2.5v1.2h-2.5zM1193.1 539.6h2.5v1.2h-2.5zM1195.1 541.2h3.5v1.2h-3.5zM1204.6 533.2h11.0v1.2h-11.0zM1217.1 532.8h10.5v1.2h-10.5zM1209.6 535.5h1.3v2.2h-1.3zM1204.6 540.4h12.0v1.2h-12.0zM1216.6 541.0h6.0v1.2h-6.0zM1222.6 541.9h5.0v1.2h-5.0zM1218.6 536.5h2.0v1.2h-2.0zM1229.6 535.4h2.4v1.2h-2.4zM1230.6 540.4h2.4v1.2h-2.4zM1232.9 535.4h2.4v1.2h-2.4zM1233.9 540.4h2.4v1.2h-2.4zM1236.2 535.4h2.4v1.2h-2.4zM1237.2 540.4h2.4v1.2h-2.4zM1239.5 535.4h2.4v1.2h-2.4zM1240.5 540.4h2.4v1.2h-2.4zM1237.6 533.3h3.0v1.2h-3.0zM1240.1 534.6h2.5v1.2h-2.5zM1242.1 536.2h2.5v1.2h-2.5zM1244.6 536.5h2.2v1.2h-2.2zM1247.2 538.1h2.2v1.2h-2.2zM1249.8 539.7h2.2v1.2h-2.2zM1252.4 541.3h2.2v1.2h-2.2zM1247.6 536.0h2.0v1.2h-2.0zM1250.6 538.0h2.0v1.2h-2.0zM1263.9 536.6h6.5v1.2h-6.5zM1270.4 538.0h2.5v1.2h-2.5zM1272.4 539.6h2.5v1.2h-2.5zM1274.4 541.2h3.5v1.2h-3.5zM1283.9 533.2h11.0v1.2h-11.0zM1296.4 532.8h10.5v1.2h-10.5zM1288.9 535.5h1.3v2.2h-1.3zM1283.9 540.4h12.0v1.2h-12.0zM1295.9 541.0h6.0v1.2h-6.0zM1301.9 541.9h5.0v1.2h-5.0zM1297.9 536.5h2.0v1.2h-2.0zM1308.9 535.4h2.4v1.2h-2.4zM1309.9 540.4h2.4v1.2h-2.4zM1312.2 535.4h2.4v1.2h-2.4zM1313.2 540.4h2.4v1.2h-2.4zM1315.5 535.4h2.4v1.2h-2.4zM1316.5 540.4h2.4v1.2h-2.4zM1318.8 535.4h2.4v1.2h-2.4zM1319.8 540.4h2.4v1.2h-2.4zM1316.9 533.3h3.0v1.2h-3.0zM1319.4 534.6h2.5v1.2h-2.5zM1321.4 536.2h2.5v1.2h-2.5zM1323.9 536.5h2.2v1.2h-2.2zM1326.5 538.1h2.2v1.2h-2.2zM1329.1 539.7h2.2v1.2h-2.2zM1331.7 541.3h2.2v1.2h-2.2zM1326.9 536.0h2.0v1.2h-2.0zM1329.9 538.0h2.0v1.2h-2.0zM1343.2 536.6h6.5v1.2h-6.5zM1349.7 538.0h2.5v1.2h-2.5zM1351.7 539.6h2.5v1.2h-2.5zM1353.7 541.2h3.5v1.2h-3.5zM1363.2 533.2h11.0v1.2h-11.0zM1375.7 532.8h10.5v1.2h-10.5zM1368.2 535.5h1.3v2.2h-1.3zM1363.2 540.4h12.0v1.2h-12.0zM1375.2 541.0h6.0v1.2h-6.0zM1381.2 541.9h5.0v1.2h-5.0zM1377.2 536.5h2.0v1.2h-2.0zM1388.2 535.4h2.4v1.2h-2.4zM1389.2 540.4h2.4v1.2h-2.4zM1391.5 535.4h2.4v1.2h-2.4zM1392.5 540.4h2.4v1.2h-2.4zM1394.8 535.4h2.4v1.2h-2.4zM1395.8 540.4h2.4v1.2h-2.4zM1398.1 535.4h2.4v1.2h-2.4zM1399.1 540.4h2.4v1.2h-2.4zM1396.2 533.3h3.0v1.2h-3.0zM1398.7 534.6h2.5v1.2h-2.5zM1400.7 536.2h2.5v1.2h-2.5zM1403.2 536.5h2.2v1.2h-2.2zM1405.8 538.1h2.2v1.2h-2.2zM1408.4 539.7h2.2v1.2h-2.2zM1411.0 541.3h2.2v1.2h-2.2zM1406.2 536.0h2.0v1.2h-2.0zM1409.2 538.0h2.0v1.2h-2.0zM1422.5 536.6h6.5v1.2h-6.5zM1429.0 538.0h2.5v1.2h-2.5zM1431.0 539.6h2.5v1.2h-2.5zM1433.0 541.2h3.5v1.2h-3.5zM1442.5 533.2h11.0v1.2h-11.0zM1455.0 532.8h10.5v1.2h-10.5zM1447.5 535.5h1.3v2.2h-1.3zM1442.5 540.4h12.0v1.2h-12.0zM1454.5 541.0h6.0v1.2h-6.0zM1460.5 541.9h5.0v1.2h-5.0zM1456.5 536.5h2.0v1.2h-2.0zM1467.5 535.4h2.4v1.2h-2.4zM1468.5 540.4h2.4v1.2h-2.4zM1470.8 535.4h2.4v1.2h-2.4zM1471.8 540.4h2.4v1.2h-2.4zM1474.1 535.4h2.4v1.2h-2.4zM1475.1 540.4h2.4v1.2h-2.4zM1477.4 535.4h2.4v1.2h-2.4zM1478.4 540.4h2.4v1.2h-2.4zM1475.5 533.3h3.0v1.2h-3.0zM1478.0 534.6h2.5v1.2h-2.5zM1480.0 536.2h2.5v1.2h-2.5zM1482.5 536.5h1.5v1.2h-1.5z"/>
<path fill="#fff" fill-opacity="0.56" d="M98.2 613.0h1.2v1.0h-1.2zM100.3 613.0h1.2v1.0h-1.2zM102.5 613.0h1.2v1.0h-1.2zM104.6 613.0h1.2v1.0h-1.2zM106.8 613.0h1.2v1.0h-1.2zM108.9 613.0h1.2v1.0h-1.2zM111.1 613.0h1.2v1.0h-1.2zM113.2 613.0h1.2v1.0h-1.2zM115.4 613.0h1.2v1.0h-1.2zM117.5 613.0h1.2v1.0h-1.2zM119.7 613.0h1.2v1.0h-1.2zM121.8 613.0h1.2v1.0h-1.2zM124.0 613.0h1.2v1.0h-1.2zM126.1 613.0h1.2v1.0h-1.2zM128.3 613.0h1.2v1.0h-1.2zM130.4 613.0h1.2v1.0h-1.2zM132.6 613.0h1.2v1.0h-1.2zM134.7 613.0h1.2v1.0h-1.2zM136.9 613.0h1.2v1.0h-1.2zM139.0 613.0h1.2v1.0h-1.2zM141.2 613.0h1.2v1.0h-1.2zM143.3 613.0h1.2v1.0h-1.2zM145.5 613.0h1.2v1.0h-1.2zM147.6 613.0h1.2v1.0h-1.2zM149.8 613.0h1.2v1.0h-1.2zM151.9 613.0h1.2v1.0h-1.2zM154.1 613.0h1.2v1.0h-1.2zM156.2 613.0h1.2v1.0h-1.2zM158.4 613.0h1.2v1.0h-1.2zM160.5 613.0h1.2v1.0h-1.2zM162.7 613.0h1.2v1.0h-1.2zM164.8 613.0h1.2v1.0h-1.2zM167.0 613.0h1.2v1.0h-1.2zM169.1 613.0h1.2v1.0h-1.2zM171.3 613.0h1.2v1.0h-1.2zM173.4 613.0h1.2v1.0h-1.2zM175.6 613.0h1.2v1.0h-1.2zM177.7 613.0h1.2v1.0h-1.2zM179.9 613.0h1.2v1.0h-1.2zM182.0 613.0h1.2v1.0h-1.2zM184.2 613.0h1.2v1.0h-1.2zM186.3 613.0h1.2v1.0h-1.2zM188.5 613.0h1.2v1.0h-1.2zM190.6 613.0h1.2v1.0h-1.2zM192.8 613.0h1.2v1.0h-1.2zM194.9 613.0h1.2v1.0h-1.2zM197.1 613.0h1.2v1.0h-1.2zM199.2 613.0h1.2v1.0h-1.2zM201.4 613.0h1.2v1.0h-1.2zM203.5 613.0h1.2v1.0h-1.2zM205.7 613.0h1.2v1.0h-1.2zM207.8 613.0h1.2v1.0h-1.2zM210.0 613.0h1.2v1.0h-1.2zM212.1 613.0h1.2v1.0h-1.2zM214.3 613.0h1.2v1.0h-1.2zM216.4 613.0h1.2v1.0h-1.2zM218.6 613.0h1.2v1.0h-1.2zM220.7 613.0h1.2v1.0h-1.2zM222.9 613.0h1.2v1.0h-1.2zM225.0 613.0h1.2v1.0h-1.2zM227.2 613.0h1.2v1.0h-1.2zM229.3 613.0h1.2v1.0h-1.2zM231.5 613.0h1.2v1.0h-1.2zM233.6 613.0h1.2v1.0h-1.2zM235.8 613.0h1.2v1.0h-1.2zM237.9 613.0h1.2v1.0h-1.2zM240.1 613.0h1.2v1.0h-1.2zM242.2 613.0h1.2v1.0h-1.2zM244.4 613.0h1.2v1.0h-1.2zM246.5 613.0h1.2v1.0h-1.2zM248.7 613.0h1.2v1.0h-1.2zM250.8 613.0h1.2v1.0h-1.2zM253.0 613.0h1.2v1.0h-1.2zM255.1 613.0h1.2v1.0h-1.2zM257.3 613.0h1.2v1.0h-1.2zM259.4 613.0h1.2v1.0h-1.2zM261.6 613.0h1.2v1.0h-1.2zM263.7 613.0h1.2v1.0h-1.2zM265.9 613.0h1.2v1.0h-1.2zM268.0 613.0h1.2v1.0h-1.2zM270.2 613.0h1.2v1.0h-1.2zM272.3 613.0h1.2v1.0h-1.2zM274.5 613.0h1.2v1.0h-1.2zM276.6 613.0h1.2v1.0h-1.2zM278.8 613.0h1.2v1.0h-1.2zM280.9 613.0h1.2v1.0h-1.2zM283.1 613.0h1.2v1.0h-1.2zM285.2 613.0h1.2v1.0h-1.2zM287.4 613.0h1.2v1.0h-1.2zM289.5 613.0h1.2v1.0h-1.2zM291.7 613.0h1.2v1.0h-1.2zM293.8 613.0h1.2v1.0h-1.2zM296.0 613.0h1.2v1.0h-1.2zM298.1 613.0h1.2v1.0h-1.2zM98.7 615.2h1.2v1.0h-1.2zM100.9 615.2h1.2v1.0h-1.2zM103.0 615.2h1.2v1.0h-1.2zM105.2 615.2h1.2v1.0h-1.2zM107.3 615.2h1.2v1.0h-1.2zM109.5 615.2h1.2v1.0h-1.2zM111.6 615.2h1.2v1.0h-1.2zM113.8 615.2h1.2v1.0h-1.2zM115.9 615.2h1.2v1.0h-1.2zM118.1 615.2h1.2v1.0h-1.2zM120.2 615.2h1.2v1.0h-1.2zM122.4 615.2h1.2v1.0h-1.2zM124.5 615.2h1.2v1.0h-1.2zM126.7 615.2h1.2v1.0h-1.2zM128.8 615.2h1.2v1.0h-1.2zM131.0 615.2h1.2v1.0h-1.2zM133.1 615.2h1.2v1.0h-1.2zM135.3 615.2h1.2v1.0h-1.2zM137.4 615.2h1.2v1.0h-1.2zM139.6 615.2h1.2v1.0h-1.2zM141.7 615.2h1.2v1.0h-1.2zM143.9 615.2h1.2v1.0h-1.2zM146.0 615.2h1.2v1.0h-1.2zM148.2 615.2h1.2v1.0h-1.2zM150.3 615.2h1.2v1.0h-1.2zM152.5 615.2h1.2v1.0h-1.2zM154.6 615.2h1.2v1.0h-1.2zM156.8 615.2h1.2v1.0h-1.2zM158.9 615.2h1.2v1.0h-1.2zM161.1 615.2h1.2v1.0h-1.2zM163.2 615.2h1.2v1.0h-1.2zM165.4 615.2h1.2v1.0h-1.2zM167.5 615.2h1.2v1.0h-1.2zM169.7 615.2h1.2v1.0h-1.2zM171.8 615.2h1.2v1.0h-1.2zM174.0 615.2h1.2v1.0h-1.2zM176.1 615.2h1.2v1.0h-1.2zM178.3 615.2h1.2v1.0h-1.2zM180.4 615.2h1.2v1.0h-1.2zM182.6 615.2h1.2v1.0h-1.2zM184.7 615.2h1.2v1.0h-1.2zM186.9 615.2h1.2v1.0h-1.2zM189.0 615.2h1.2v1.0h-1.2zM191.2 615.2h1.2v1.0h-1.2zM193.3 615.2h1.2v1.0h-1.2zM195.5 615.2h1.2v1.0h-1.2zM197.6 615.2h1.2v1.0h-1.2zM199.8 615.2h1.2v1.0h-1.2zM201.9 615.2h1.2v1.0h-1.2zM204.1 615.2h1.2v1.0h-1.2zM206.2 615.2h1.2v1.0h-1.2zM208.4 615.2h1.2v1.0h-1.2zM210.5 615.2h1.2v1.0h-1.2zM212.7 615.2h1.2v1.0h-1.2zM214.8 615.2h1.2v1.0h-1.2zM217.0 615.2h1.2v1.0h-1.2zM219.1 615.2h1.2v1.0h-1.2zM221.3 615.2h1.2v1.0h-1.2zM223.4 615.2h1.2v1.0h-1.2zM225.6 615.2h1.2v1.0h-1.2zM227.7 615.2h1.2v1.0h-1.2zM229.9 615.2h1.2v1.0h-1.2zM232.0 615.2h1.2v1.0h-1.2zM234.2 615.2h1.2v1.0h-1.2zM236.3 615.2h1.2v1.0h-1.2zM238.5 615.2h1.2v1.0h-1.2zM240.6 615.2h1.2v1.0h-1.2zM242.8 615.2h1.2v1.0h-1.2zM244.9 615.2h1.2v1.0h-1.2zM247.1 615.2h1.2v1.0h-1.2zM249.2 615.2h1.2v1.0h-1.2zM251.4 615.2h1.2v1.0h-1.2zM253.5 615.2h1.2v1.0h-1.2zM255.7 615.2h1.2v1.0h-1.2zM257.8 615.2h1.2v1.0h-1.2zM260.0 615.2h1.2v1.0h-1.2zM262.1 615.2h1.2v1.0h-1.2zM264.3 615.2h1.2v1.0h-1.2zM266.4 615.2h1.2v1.0h-1.2zM268.6 615.2h1.2v1.0h-1.2zM270.7 615.2h1.2v1.0h-1.2zM272.9 615.2h1.2v1.0h-1.2zM275.0 615.2h1.2v1.0h-1.2zM277.2 615.2h1.2v1.0h-1.2zM279.3 615.2h1.2v1.0h-1.2zM281.5 615.2h1.2v1.0h-1.2zM283.6 615.2h1.2v1.0h-1.2zM285.8 615.2h1.2v1.0h-1.2zM287.9 615.2h1.2v1.0h-1.2zM290.1 615.2h1.2v1.0h-1.2zM292.2 615.2h1.2v1.0h-1.2zM294.4 615.2h1.2v1.0h-1.2zM296.5 615.2h1.2v1.0h-1.2zM298.7 615.2h1.2v1.0h-1.2zM97.1 617.4h1.2v1.0h-1.2zM99.3 617.4h1.2v1.0h-1.2zM101.4 617.4h1.2v1.0h-1.2zM103.6 617.4h1.2v1.0h-1.2zM105.7 617.4h1.2v1.0h-1.2zM107.9 617.4h1.2v1.0h-1.2zM110.0 617.4h1.2v1.0h-1.2zM112.2 617.4h1.2v1.0h-1.2zM114.3 617.4h1.2v1.0h-1.2zM116.5 617.4h1.2v1.0h-1.2zM118.6 617.4h1.2v1.0h-1.2zM120.8 617.4h1.2v1.0h-1.2zM122.9 617.4h1.2v1.0h-1.2zM125.1 617.4h1.2v1.0h-1.2zM127.2 617.4h1.2v1.0h-1.2zM129.4 617.4h1.2v1.0h-1.2zM131.5 617.4h1.2v1.0h-1.2zM133.7 617.4h1.2v1.0h-1.2zM135.8 617.4h1.2v1.0h-1.2zM138.0 617.4h1.2v1.0h-1.2zM140.1 617.4h1.2v1.0h-1.2zM142.3 617.4h1.2v1.0h-1.2zM144.4 617.4h1.2v1.0h-1.2zM146.6 617.4h1.2v1.0h-1.2zM148.7 617.4h1.2v1.0h-1.2zM150.9 617.4h1.2v1.0h-1.2zM153.0 617.4h1.2v1.0h-1.2zM155.2 617.4h1.2v1.0h-1.2zM157.3 617.4h1.2v1.0h-1.2zM159.5 617.4h1.2v1.0h-1.2zM161.6 617.4h1.2v1.0h-1.2zM163.8 617.4h1.2v1.0h-1.2zM165.9 617.4h1.2v1.0h-1.2zM168.1 617.4h1.2v1.0h-1.2zM170.2 617.4h1.2v1.0h-1.2zM172.4 617.4h1.2v1.0h-1.2zM174.5 617.4h1.2v1.0h-1.2zM176.7 617.4h1.2v1.0h-1.2zM178.8 617.4h1.2v1.0h-1.2zM181.0 617.4h1.2v1.0h-1.2zM183.1 617.4h1.2v1.0h-1.2zM185.3 617.4h1.2v1.0h-1.2zM187.4 617.4h1.2v1.0h-1.2zM189.6 617.4h1.2v1.0h-1.2zM191.7 617.4h1.2v1.0h-1.2zM193.9 617.4h1.2v1.0h-1.2zM196.0 617.4h1.2v1.0h-1.2zM198.2 617.4h1.2v1.0h-1.2zM200.3 617.4h1.2v1.0h-1.2zM202.5 617.4h1.2v1.0h-1.2zM204.6 617.4h1.2v1.0h-1.2zM206.8 617.4h1.2v1.0h-1.2zM208.9 617.4h1.2v1.0h-1.2zM211.1 617.4h1.2v1.0h-1.2zM213.2 617.4h1.2v1.0h-1.2zM215.4 617.4h1.2v1.0h-1.2zM217.5 617.4h1.2v1.0h-1.2zM219.7 617.4h1.2v1.0h-1.2zM221.8 617.4h1.2v1.0h-1.2zM224.0 617.4h1.2v1.0h-1.2zM226.1 617.4h1.2v1.0h-1.2zM228.3 617.4h1.2v1.0h-1.2zM230.4 617.4h1.2v1.0h-1.2zM232.6 617.4h1.2v1.0h-1.2zM234.7 617.4h1.2v1.0h-1.2zM236.9 617.4h1.2v1.0h-1.2zM239.0 617.4h1.2v1.0h-1.2zM241.2 617.4h1.2v1.0h-1.2zM243.3 617.4h1.2v1.0h-1.2zM245.5 617.4h1.2v1.0h-1.2zM247.6 617.4h1.2v1.0h-1.2zM249.8 617.4h1.2v1.0h-1.2zM251.9 617.4h1.2v1.0h-1.2zM254.1 617.4h1.2v1.0h-1.2zM256.2 617.4h1.2v1.0h-1.2zM258.4 617.4h1.2v1.0h-1.2zM260.5 617.4h1.2v1.0h-1.2zM262.7 617.4h1.2v1.0h-1.2zM264.8 617.4h1.2v1.0h-1.2zM267.0 617.4h1.2v1.0h-1.2zM269.1 617.4h1.2v1.0h-1.2zM271.3 617.4h1.2v1.0h-1.2zM273.4 617.4h1.2v1.0h-1.2zM275.6 617.4h1.2v1.0h-1.2zM277.7 617.4h1.2v1.0h-1.2zM279.9 617.4h1.2v1.0h-1.2zM282.0 617.4h1.2v1.0h-1.2zM284.2 617.4h1.2v1.0h-1.2zM286.3 617.4h1.2v1.0h-1.2zM288.5 617.4h1.2v1.0h-1.2zM290.6 617.4h1.2v1.0h-1.2zM292.8 617.4h1.2v1.0h-1.2zM294.9 617.4h1.2v1.0h-1.2zM297.1 617.4h1.2v1.0h-1.2zM299.2 617.4h1.2v1.0h-1.2z"/>
<path fill="#fff" fill-opacity="0.5" d="M312.9 609.5h1.1v1.0h-1.1zM315.2 609.5h1.1v1.0h-1.1zM317.5 609.5h1.1v1.0h-1.1zM319.8 609.5h1.1v1.0h-1.1zM322.1 609.5h1.1v1.0h-1.1zM324.4 609.5h1.1v1.0h-1.1zM326.7 609.5h1.1v1.0h-1.1zM329.0 609.5h1.1v1.0h-1.1zM353.5 607.3h1.1v1.0h-1.1zM355.8 607.3h1.1v1.0h-1.1zM358.1 607.3h1.1v1.0h-1.1zM360.4 607.3h1.1v1.0h-1.1zM362.7 607.3h1.1v1.0h-1.1zM365.0 607.3h1.1v1.0h-1.1zM367.3 607.3h1.1v1.0h-1.1zM369.6 607.3h1.1v1.0h-1.1zM371.9 607.3h1.1v1.0h-1.1zM1004.8 614.2h1.2v1.0h-1.2zM1006.8 614.2h1.2v1.0h-1.2zM1008.8 614.2h1.2v1.0h-1.2zM1010.8 614.2h1.2v1.0h-1.2zM1012.8 614.2h1.2v1.0h-1.2zM1014.8 614.2h1.2v1.0h-1.2zM1016.8 614.2h1.2v1.0h-1.2zM1018.8 614.2h1.2v1.0h-1.2zM1020.8 614.2h1.2v1.0h-1.2zM1022.8 614.2h1.2v1.0h-1.2zM1024.4 614.2h1.2v1.0h-1.2zM1026.4 614.2h1.2v1.0h-1.2zM1028.4 614.2h1.2v1.0h-1.2zM1030.4 614.2h1.2v1.0h-1.2zM1032.4 614.2h1.2v1.0h-1.2zM1034.4 614.2h1.2v1.0h-1.2zM1036.4 614.2h1.2v1.0h-1.2zM1038.4 614.2h1.2v1.0h-1.2zM1040.4 614.2h1.2v1.0h-1.2zM1042.4 614.2h1.2v1.0h-1.2zM1044.1 614.2h1.2v1.0h-1.2zM1046.1 614.2h1.2v1.0h-1.2zM1048.1 614.2h1.2v1.0h-1.2zM1050.1 614.2h1.2v1.0h-1.2zM1052.1 614.2h1.2v1.0h-1.2zM1054.1 614.2h1.2v1.0h-1.2zM1056.1 614.2h1.2v1.0h-1.2zM1058.1 614.2h1.2v1.0h-1.2zM1060.1 614.2h1.2v1.0h-1.2zM1062.1 614.2h1.2v1.0h-1.2zM1062.8 614.2h1.2v1.0h-1.2zM1064.8 614.2h1.2v1.0h-1.2zM1066.8 614.2h1.2v1.0h-1.2zM1068.8 614.2h1.2v1.0h-1.2zM1070.8 614.2h1.2v1.0h-1.2zM1072.8 614.2h1.2v1.0h-1.2zM1074.8 614.2h1.2v1.0h-1.2zM1076.8 614.2h1.2v1.0h-1.2zM1078.8 614.2h1.2v1.0h-1.2zM1080.8 614.2h1.2v1.0h-1.2zM1083.4 614.2h1.2v1.0h-1.2zM1085.4 614.2h1.2v1.0h-1.2zM1087.4 614.2h1.2v1.0h-1.2zM1089.4 614.2h1.2v1.0h-1.2zM1091.4 614.2h1.2v1.0h-1.2zM1093.4 614.2h1.2v1.0h-1.2zM1095.4 614.2h1.2v1.0h-1.2zM1097.4 614.2h1.2v1.0h-1.2zM1099.4 614.2h1.2v1.0h-1.2zM1101.4 614.2h1.2v1.0h-1.2zM1103.5 614.2h1.2v1.0h-1.2zM1105.5 614.2h1.2v1.0h-1.2zM1107.5 614.2h1.2v1.0h-1.2zM1109.5 614.2h1.2v1.0h-1.2zM1111.5 614.2h1.2v1.0h-1.2zM1113.5 614.2h1.2v1.0h-1.2zM1115.5 614.2h1.2v1.0h-1.2zM1117.5 614.2h1.2v1.0h-1.2zM1119.5 614.2h1.2v1.0h-1.2zM1121.5 614.2h1.2v1.0h-1.2zM1122.9 614.2h1.2v1.0h-1.2zM1124.9 614.2h1.2v1.0h-1.2zM1126.9 614.2h1.2v1.0h-1.2zM1128.9 614.2h1.2v1.0h-1.2zM1130.9 614.2h1.2v1.0h-1.2zM1132.9 614.2h1.2v1.0h-1.2zM1134.9 614.2h1.2v1.0h-1.2zM1136.9 614.2h1.2v1.0h-1.2zM1138.9 614.2h1.2v1.0h-1.2zM1140.9 614.2h1.2v1.0h-1.2zM1142.0 614.2h1.2v1.0h-1.2zM1144.0 614.2h1.2v1.0h-1.2zM1146.0 614.2h1.2v1.0h-1.2zM1148.0 614.2h1.2v1.0h-1.2zM1150.0 614.2h1.2v1.0h-1.2zM1152.0 614.2h1.2v1.0h-1.2zM1154.0 614.2h1.2v1.0h-1.2zM1156.0 614.2h1.2v1.0h-1.2zM1158.0 614.2h1.2v1.0h-1.2zM1160.0 614.2h1.2v1.0h-1.2zM1160.8 614.2h1.2v1.0h-1.2zM1162.8 614.2h1.2v1.0h-1.2zM1164.8 614.2h1.2v1.0h-1.2zM1166.8 614.2h1.2v1.0h-1.2zM1168.8 614.2h1.2v1.0h-1.2zM1170.8 614.2h1.2v1.0h-1.2zM1172.8 614.2h1.2v1.0h-1.2zM1174.8 614.2h1.2v1.0h-1.2zM1176.8 614.2h1.2v1.0h-1.2zM1178.8 614.2h1.2v1.0h-1.2zM1181.6 614.2h1.2v1.0h-1.2zM1183.6 614.2h1.2v1.0h-1.2zM1185.6 614.2h1.2v1.0h-1.2zM1187.6 614.2h1.2v1.0h-1.2zM1189.6 614.2h1.2v1.0h-1.2zM1191.6 614.2h1.2v1.0h-1.2zM1193.6 614.2h1.2v1.0h-1.2zM1195.6 614.2h1.2v1.0h-1.2zM1197.6 614.2h1.2v1.0h-1.2zM1199.6 614.2h1.2v1.0h-1.2zM1201.0 614.2h1.2v1.0h-1.2zM1203.0 614.2h1.2v1.0h-1.2zM1205.0 614.2h1.2v1.0h-1.2zM1207.0 614.2h1.2v1.0h-1.2zM1209.0 614.2h1.2v1.0h-1.2zM1211.0 614.2h1.2v1.0h-1.2zM1213.0 614.2h1.2v1.0h-1.2zM1215.0 614.2h1.2v1.0h-1.2zM1217.0 614.2h1.2v1.0h-1.2zM1219.0 614.2h1.2v1.0h-1.2zM1220.2 614.2h1.2v1.0h-1.2zM1222.2 614.2h1.2v1.0h-1.2zM1224.2 614.2h1.2v1.0h-1.2zM1226.2 614.2h1.2v1.0h-1.2zM1228.2 614.2h1.2v1.0h-1.2zM1230.2 614.2h1.2v1.0h-1.2zM1232.2 614.2h1.2v1.0h-1.2zM1234.2 614.2h1.2v1.0h-1.2zM1236.2 614.2h1.2v1.0h-1.2zM1238.2 614.2h1.2v1.0h-1.2zM1239.8 614.2h1.2v1.0h-1.2zM1241.8 614.2h1.2v1.0h-1.2zM1243.8 614.2h1.2v1.0h-1.2zM1245.8 614.2h1.2v1.0h-1.2zM1247.8 614.2h1.2v1.0h-1.2zM1249.8 614.2h1.2v1.0h-1.2zM1251.8 614.2h1.2v1.0h-1.2zM1253.8 614.2h1.2v1.0h-1.2zM1255.8 614.2h1.2v1.0h-1.2zM1257.8 614.2h1.2v1.0h-1.2zM1259.5 614.2h1.2v1.0h-1.2zM1261.5 614.2h1.2v1.0h-1.2zM1263.5 614.2h1.2v1.0h-1.2zM1265.5 614.2h1.2v1.0h-1.2zM1267.5 614.2h1.2v1.0h-1.2zM1269.5 614.2h1.2v1.0h-1.2zM1271.5 614.2h1.2v1.0h-1.2zM1273.5 614.2h1.2v1.0h-1.2zM1275.5 614.2h1.2v1.0h-1.2zM1277.5 614.2h1.2v1.0h-1.2zM1279.5 614.2h1.2v1.0h-1.2zM1281.5 614.2h1.2v1.0h-1.2zM1283.5 614.2h1.2v1.0h-1.2zM1285.5 614.2h1.2v1.0h-1.2zM1287.5 614.2h1.2v1.0h-1.2zM1289.5 614.2h1.2v1.0h-1.2zM1291.5 614.2h1.2v1.0h-1.2zM1293.5 614.2h1.2v1.0h-1.2zM1295.5 614.2h1.2v1.0h-1.2zM1297.5 614.2h1.2v1.0h-1.2zM1298.6 614.2h1.2v1.0h-1.2zM1300.6 614.2h1.2v1.0h-1.2zM1302.6 614.2h1.2v1.0h-1.2zM1304.6 614.2h1.2v1.0h-1.2zM1306.6 614.2h1.2v1.0h-1.2zM1308.6 614.2h1.2v1.0h-1.2zM1310.6 614.2h1.2v1.0h-1.2zM1312.6 614.2h1.2v1.0h-1.2zM1314.6 614.2h1.2v1.0h-1.2zM1316.6 614.2h1.2v1.0h-1.2zM1319.5 614.2h1.2v1.0h-1.2zM1321.5 614.2h1.2v1.0h-1.2zM1323.5 614.2h1.2v1.0h-1.2zM1325.5 614.2h1.2v1.0h-1.2zM1327.5 614.2h1.2v1.0h-1.2zM1329.5 614.2h1.2v1.0h-1.2zM1331.5 614.2h1.2v1.0h-1.2zM1333.5 614.2h1.2v1.0h-1.2zM1335.5 614.2h1.2v1.0h-1.2zM1337.5 614.2h1.2v1.0h-1.2zM1339.2 614.2h1.2v1.0h-1.2zM1341.2 614.2h1.2v1.0h-1.2zM1343.2 614.2h1.2v1.0h-1.2zM1345.2 614.2h1.2v1.0h-1.2zM1347.2 614.2h1.2v1.0h-1.2zM1349.2 614.2h1.2v1.0h-1.2zM1351.2 614.2h1.2v1.0h-1.2zM1353.2 614.2h1.2v1.0h-1.2zM1355.2 614.2h1.2v1.0h-1.2zM1357.2 614.2h1.2v1.0h-1.2zM1359.1 614.2h1.2v1.0h-1.2zM1361.1 614.2h1.2v1.0h-1.2zM1363.1 614.2h1.2v1.0h-1.2zM1365.1 614.2h1.2v1.0h-1.2zM1367.1 614.2h1.2v1.0h-1.2zM1369.1 614.2h1.2v1.0h-1.2zM1371.1 614.2h1.2v1.0h-1.2zM1373.1 614.2h1.2v1.0h-1.2zM1375.1 614.2h1.2v1.0h-1.2zM1377.1 614.2h1.2v1.0h-1.2zM1378.8 614.2h1.2v1.0h-1.2zM1380.8 614.2h1.2v1.0h-1.2zM1382.8 614.2h1.2v1.0h-1.2zM1384.8 614.2h1.2v1.0h-1.2zM1386.8 614.2h1.2v1.0h-1.2zM1388.8 614.2h1.2v1.0h-1.2zM1390.8 614.2h1.2v1.0h-1.2zM1392.8 614.2h1.2v1.0h-1.2zM1394.8 614.2h1.2v1.0h-1.2zM1396.8 614.2h1.2v1.0h-1.2zM1398.9 614.2h1.2v1.0h-1.2zM1400.9 614.2h1.2v1.0h-1.2zM1402.9 614.2h1.2v1.0h-1.2zM1404.9 614.2h1.2v1.0h-1.2zM1406.9 614.2h1.2v1.0h-1.2zM1408.9 614.2h1.2v1.0h-1.2zM1410.9 614.2h1.2v1.0h-1.2zM1412.9 614.2h1.2v1.0h-1.2zM1414.9 614.2h1.2v1.0h-1.2zM1416.9 614.2h1.2v1.0h-1.2zM1418.4 614.2h1.2v1.0h-1.2zM1420.4 614.2h1.2v1.0h-1.2zM1422.4 614.2h1.2v1.0h-1.2zM1424.4 614.2h1.2v1.0h-1.2zM1426.4 614.2h1.2v1.0h-1.2zM1428.4 614.2h1.2v1.0h-1.2zM1430.4 614.2h1.2v1.0h-1.2zM1432.4 614.2h1.2v1.0h-1.2zM1434.4 614.2h1.2v1.0h-1.2zM1436.4 614.2h1.2v1.0h-1.2zM1437.2 614.2h1.2v1.0h-1.2zM1439.2 614.2h1.2v1.0h-1.2zM1441.2 614.2h1.2v1.0h-1.2zM1443.2 614.2h1.2v1.0h-1.2zM1445.2 614.2h1.2v1.0h-1.2zM1447.2 614.2h1.2v1.0h-1.2zM1449.2 614.2h1.2v1.0h-1.2zM1451.2 614.2h1.2v1.0h-1.2zM1453.2 614.2h1.2v1.0h-1.2zM1455.2 614.2h1.2v1.0h-1.2zM1457.2 614.2h1.2v1.0h-1.2zM1459.2 614.2h1.2v1.0h-1.2zM1461.2 614.2h1.2v1.0h-1.2zM1463.2 614.2h1.2v1.0h-1.2zM1465.2 614.2h1.2v1.0h-1.2zM1467.2 614.2h1.2v1.0h-1.2zM1469.2 614.2h1.2v1.0h-1.2zM1471.2 614.2h1.2v1.0h-1.2zM1473.2 614.2h1.2v1.0h-1.2zM1475.2 614.2h1.2v1.0h-1.2zM1476.6 614.2h1.2v1.0h-1.2zM1478.6 614.2h1.2v1.0h-1.2zM1480.6 614.2h1.2v1.0h-1.2zM1482.6 614.2h1.2v1.0h-1.2zM1484.6 614.2h1.2v1.0h-1.2zM1486.6 614.2h1.2v1.0h-1.2z"/>
<path fill="#fff" fill-opacity="0.6" d="M894.9 607.0h1.2v1.0h-1.2zM907.3 607.0h1.2v1.0h-1.2zM910.4 607.0h1.2v1.0h-1.2zM913.5 607.0h1.2v1.0h-1.2zM906.7 609.0h1.2v1.0h-1.2zM892.9 611.0h1.2v1.0h-1.2zM899.1 611.0h1.2v1.0h-1.2zM902.2 611.0h1.2v1.0h-1.2zM905.3 611.0h1.2v1.0h-1.2zM908.4 611.0h1.2v1.0h-1.2zM911.5 611.0h1.2v1.0h-1.2zM914.6 611.0h1.2v1.0h-1.2zM901.5 613.0h1.2v1.0h-1.2zM907.7 613.0h1.2v1.0h-1.2zM910.8 613.0h1.2v1.0h-1.2zM893.6 615.0h1.2v1.0h-1.2zM896.7 615.0h1.2v1.0h-1.2zM902.9 615.0h1.2v1.0h-1.2zM906.0 615.0h1.2v1.0h-1.2zM912.2 615.0h1.2v1.0h-1.2zM916.0 618.0h1.3v1.0h-1.3zM918.2 618.0h1.3v1.0h-1.3zM920.4 618.0h1.3v1.0h-1.3zM922.6 618.0h1.3v1.0h-1.3zM924.8 618.0h1.3v1.0h-1.3zM927.0 618.0h1.3v1.0h-1.3zM929.2 618.0h1.3v1.0h-1.3zM931.4 618.0h1.3v1.0h-1.3zM933.6 618.0h1.3v1.0h-1.3zM935.8 618.0h1.3v1.0h-1.3zM938.0 618.0h1.3v1.0h-1.3zM940.2 618.0h1.3v1.0h-1.3zM942.4 618.0h1.3v1.0h-1.3zM944.6 618.0h1.3v1.0h-1.3zM946.8 618.0h1.3v1.0h-1.3zM949.0 618.0h1.3v1.0h-1.3zM951.2 618.0h1.3v1.0h-1.3zM953.4 618.0h1.3v1.0h-1.3zM955.6 618.0h1.3v1.0h-1.3zM957.8 618.0h1.3v1.0h-1.3zM960.0 618.0h1.3v1.0h-1.3zM962.2 618.0h1.3v1.0h-1.3zM964.4 618.0h1.3v1.0h-1.3zM966.6 618.0h1.3v1.0h-1.3zM968.8 618.0h1.3v1.0h-1.3zM971.0 618.0h1.3v1.0h-1.3zM973.2 618.0h1.3v1.0h-1.3zM975.4 618.0h1.3v1.0h-1.3zM977.6 618.0h1.3v1.0h-1.3zM979.8 618.0h1.3v1.0h-1.3zM982.0 618.0h1.3v1.0h-1.3zM984.2 618.0h1.3v1.0h-1.3zM986.4 618.0h1.3v1.0h-1.3zM988.6 618.0h1.3v1.0h-1.3zM990.8 618.0h1.3v1.0h-1.3zM993.0 618.0h1.3v1.0h-1.3zM995.2 618.0h1.3v1.0h-1.3zM997.4 618.0h1.3v1.0h-1.3zM999.6 618.0h1.3v1.0h-1.3z"/>
<path fill="#fff" fill-opacity="0.7" d="M925.1 615.5h2.0v1.0h-2.0zM939.1 615.5h2.0v1.0h-2.0zM953.1 615.5h2.0v1.0h-2.0zM967.1 615.5h2.0v1.0h-2.0zM981.1 615.5h2.0v1.0h-2.0zM995.1 615.5h2.0v1.0h-2.0zM1071.1 608.0h1.3v1.2h-1.3zM1209.0 608.0h1.3v1.2h-1.3zM1346.9 608.0h1.3v1.2h-1.3zM1484.8 608.0h1.3v1.2h-1.3z"/>
<rect x="1204.52" y="105.52" width="150.66" height="150.66" fill="#fde725"/>
<path fill="#45015c" d="M1210.10 111.10H1249.16V116.68H1210.10zM1254.74 111.10H1260.32V116.68H1254.74zM1271.48 111.10H1282.64V116.68H1271.48zM1288.22 111.10H1293.80V116.68H1288.22zM1310.54 111.10H1349.60V116.68H1310.54zM1210.10 116.68H1215.68V122.26H1210.10zM1243.58 116.68H1249.16V122.26H1243.58zM1260.32 116.68H1271.48V122.26H1260.32zM1282.64 116.68H1293.80V122.26H1282.64zM1310.54 116.68H1316.12V122.26H1310.54zM1344.02 116.68H1349.60V122.26H1344.02zM1210.10 122.26H1215.68V127.84H1210.10zM1221.26 122.26H1238.00V127.84H1221.26zM1243.58 122.26H1249.16V127.84H1243.58zM1265.90 122.26H1271.48V127.84H1265.90zM1277.06 122.26H1293.80V127.84H1277.06zM1310.54 122.26H1316.12V127.84H1310.54zM1321.70 122.26H1338.44V127.84H1321.70zM1344.02 122.26H1349.60V127.84H1344.02zM1210.10 127.84H1215.68V133.42H1210.10zM1221.26 127.84H1238.00V133.42H1221.26zM1243.58 127.84H1249.16V133.42H1243.58zM1277.06 127.84H1288.22V133.42H1277.06zM1299.38 127.84H1304.96V133.42H1299.38zM1310.54 127.84H1316.12V133.42H1310.54zM1321.70 127.84H1338.44V133.42H1321.70zM1344.02 127.84H1349.60V133.42H1344.02zM1210.10 133.42H1215.68V139.00H1210.10zM1221.26 133.42H1238.00V139.00H1221.26zM1243.58 133.42H1249.16V139.00H1243.58zM1260.32 133.42H1265.90V139.00H1260.32zM1271.48 133.42H1277.06V139.00H1271.48zM1282.64 133.42H1293.80V139.00H1282.64zM1299.38 133.42H1304.96V139.00H1299.38zM1310.54 133.42H1316.12V139.00H1310.54zM1321.70 133.42H1338.44V139.00H1321.70zM1344.02 133.42H1349.60V139.00H1344.02zM1210.10 139.00H1215.68V144.58H1210.10zM1243.58 139.00H1249.16V144.58H1243.58zM1265.90 139.00H1271.48V144.58H1265.90zM1277.06 139.00H1282.64V144.58H1277.06zM1288.22 139.00H1293.80V144.58H1288.22zM1310.54 139.00H1316.12V144.58H1310.54zM1344.02 139.00H1349.60V144.58H1344.02zM1210.10 144.58H1249.16V150.16H1210.10zM1254.74 144.58H1260.32V150.16H1254.74zM1265.90 144.58H1271.48V150.16H1265.90zM1277.06 144.58H1282.64V150.16H1277.06zM1288.22 144.58H1293.80V150.16H1288.22zM1299.38 144.58H1304.96V150.16H1299.38zM1310.54 144.58H1349.60V150.16H1310.54zM1254.74 150.16H1260.32V155.74H1254.74zM1265.90 150.16H1277.06V155.74H1265.90zM1282.64 150.16H1293.80V155.74H1282.64zM1210.10 155.74H1221.26V161.32H1210.10zM1226.84 155.74H1238.00V161.32H1226.84zM1243.58 155.74H1249.16V161.32H1243.58zM1260.32 155.74H1277.06V161.32H1260.32zM1288.22 155.74H1293.80V161.32H1288.22zM1299.38 155.74H1304.96V161.32H1299.38zM1310.54 155.74H1316.12V161.32H1310.54zM1344.02 155.74H1349.60V161.32H1344.02zM1210.10 161.32H1226.84V166.90H1210.10zM1238.00 161.32H1243.58V166.90H1238.00zM1260.32 161.32H1265.90V166.90H1260.32zM1277.06 161.32H1282.64V166.90H1277.06zM1288.22 161.32H1299.38V166.90H1288.22zM1304.96 161.32H1310.54V166.90H1304.96zM1316.12 161.32H1344.02V166.90H1316.12zM1210.10 166.90H1221.26V172.48H1210.10zM1232.42 166.90H1238.00V172.48H1232.42zM1243.58 166.90H1254.74V172.48H1243.58zM1265.90 166.90H1277.06V172.48H1265.90zM1293.80 166.90H1299.38V172.48H1293.80zM1310.54 166.90H1321.70V172.48H1310.54zM1327.28 166.90H1332.86V172.48H1327.28zM1344.02 166.90H1349.60V172.48H1344.02zM1210.10 172.48H1215.68V178.06H1210.10zM1226.84 172.48H1238.00V178.06H1226.84zM1260.32 172.48H1282.64V178.06H1260.32zM1288.22 172.48H1293.80V178.06H1288.22zM1316.12 172.48H1321.70V178.06H1316.12zM1327.28 172.48H1349.60V178.06H1327.28zM1210.10 178.06H1215.68V183.64H1210.10zM1226.84 178.06H1232.42V183.64H1226.84zM1238.00 178.06H1265.90V183.64H1238.00zM1271.48 178.06H1282.64V183.64H1271.48zM1293.80 178.06H1304.96V183.64H1293.80zM1310.54 178.06H1316.12V183.64H1310.54zM1344.02 178.06H1349.60V183.64H1344.02zM1210.10 183.64H1221.26V189.22H1210.10zM1232.42 183.64H1238.00V189.22H1232.42zM1254.74 183.64H1265.90V189.22H1254.74zM1282.64 183.64H1288.22V189.22H1282.64zM1293.80 183.64H1310.54V189.22H1293.80zM1321.70 183.64H1327.28V189.22H1321.70zM1338.44 183.64H1344.02V189.22H1338.44zM1210.10 189.22H1238.00V194.80H1210.10zM1243.58 189.22H1260.32V194.80H1243.58zM1271.48 189.22H1282.64V194.80H1271.48zM1293.80 189.22H1299.38V194.80H1293.80zM1304.96 189.22H1316.12V194.80H1304.96zM1321.70 189.22H1349.60V194.80H1321.70zM1210.10 194.80H1215.68V200.38H1210.10zM1221.26 194.80H1226.84V200.38H1221.26zM1232.42 194.80H1243.58V200.38H1232.42zM1249.16 194.80H1265.90V200.38H1249.16zM1271.48 194.80H1277.06V200.38H1271.48zM1299.38 194.80H1310.54V200.38H1299.38zM1316.12 194.80H1321.70V200.38H1316.12zM1327.28 194.80H1338.44V200.38H1327.28zM1344.02 194.80H1349.60V200.38H1344.02zM1210.10 200.38H1215.68V205.96H1210.10zM1243.58 200.38H1254.74V205.96H1243.58zM1260.32 200.38H1265.90V205.96H1260.32zM1277.06 200.38H1293.80V205.96H1277.06zM1299.38 200.38H1327.28V205.96H1299.38zM1332.86 200.38H1344.02V205.96H1332.86zM1254.74 205.96H1265.90V211.54H1254.74zM1271.48 205.96H1288.22V211.54H1271.48zM1299.38 205.96H1304.96V211.54H1299.38zM1321.70 205.96H1327.28V211.54H1321.70zM1332.86 205.96H1344.02V211.54H1332.86zM1210.10 211.54H1249.16V217.12H1210.10zM1271.48 211.54H1277.06V217.12H1271.48zM1299.38 211.54H1304.96V217.12H1299.38zM1310.54 211.54H1316.12V217.12H1310.54zM1321.70 211.54H1327.28V217.12H1321.70zM1344.02 211.54H1349.60V217.12H1344.02zM1210.10 217.12H1215.68V222.70H1210.10zM1243.58 217.12H1249.16V222.70H1243.58zM1260.32 217.12H1265.90V222.70H1260.32zM1282.64 217.12H1304.96V222.70H1282.64zM1321.70 217.12H1327.28V222.70H1321.70zM1338.44 217.12H1349.60V222.70H1338.44zM1210.10 222.70H1215.68V228.28H1210.10zM1221.26 222.70H1238.00V228.28H1221.26zM1243.58 222.70H1249.16V228.28H1243.58zM1254.74 222.70H1265.90V228.28H1254.74zM1271.48 222.70H1282.64V228.28H1271.48zM1288.22 222.70H1327.28V228.28H1288.22zM1210.10 228.28H1215.68V233.86H1210.10zM1221.26 228.28H1238.00V233.86H1221.26zM1243.58 228.28H1249.16V233.86H1243.58zM1254.74 228.28H1277.06V233.86H1254.74zM1288.22 228.28H1304.96V233.86H1288.22zM1310.54 228.28H1316.12V233.86H1310.54zM1338.44 228.28H1349.60V233.86H1338.44zM1210.10 233.86H1215.68V239.44H1210.10zM1221.26 233.86H1238.00V239.44H1221.26zM1243.58 233.86H1249.16V239.44H1243.58zM1271.48 233.86H1277.06V239.44H1271.48zM1282.64 233.86H1293.80V239.44H1282.64zM1299.38 233.86H1310.54V239.44H1299.38zM1321.70 233.86H1349.60V239.44H1321.70zM1210.10 239.44H1215.68V245.02H1210.10zM1243.58 239.44H1249.16V245.02H1243.58zM1254.74 239.44H1265.90V245.02H1254.74zM1288.22 239.44H1293.80V245.02H1288.22zM1316.12 239.44H1327.28V245.02H1316.12zM1332.86 239.44H1349.60V245.02H1332.86zM1210.10 245.02H1249.16V250.60H1210.10zM1254.74 245.02H1271.48V250.60H1254.74zM1277.06 245.02H1282.64V250.60H1277.06zM1299.38 245.02H1310.54V250.60H1299.38zM1327.28 245.02H1332.86V250.60H1327.28zM1344.02 245.02H1349.60V250.60H1344.02z"/>
</svg>
<div class="lbl" style="top:10.6px">ElPiano2</div>
<div class="lbl" style="top:72.0px">FngrBass</div>
<div class="lbl" style="top:133.4px">SteelGtr</div>
<div class="lbl" style="top:194.9px">TenorSax</div>
<div class="lbl" style="top:256.3px">RockOrgn</div>
<div class="lbl" style="top:317.7px">Ovrdrive</div>
<div class="lbl" style="top:379.1px">Distortd</div>
<div class="lbl" style="top:440.6px">SynStrg1</div>
<div class="lbl" style="top:502.0px">AltoSax</div>
<div class="lbl" style="top:563.4px">GM Drums</div>
<div class="lbl" style="top:624.9px">SteelGtr</div>
<div class="tk" style="left:31.0px">0.0s</div>
<div class="tk" style="left:313.2px">50.0s</div>
<div class="tk" style="left:595.4px">100.0s</div>
<div class="tk" style="left:877.6px">150.0s</div>
<div class="tk" style="left:1159.8px">200.0s</div>
<div class="tk" style="left:1442.0px">250.0s</div>
<div class="cr">© www.midifiles.com</div>
<div class="tb">
<div style="left:9px;top:0.5px;width:53.5px;height:27px;background:#131313;border:1.5px solid #000;border-radius:3px"></div>
<div style="left:70px;top:0.5px;width:53.5px;height:27px;background:#131313;border:1.5px solid #000;border-radius:3px"></div>
<div style="left:133px;top:2.5px;width:48.5px;height:23px;background:#333"></div>
<div style="left:145.3px;top:8px;width:23.7px;height:13px;background:#8a8a8a"></div>
<div style="left:191.5px;top:0;width:53px;height:28.5px;background:#235221"></div>
<div style="left:252.6px;top:0.3px;width:49.4px;height:28.2px;background:#4a2724"></div>
<svg width="302" height="29" viewBox="0 0 302 29" style="position:absolute;left:0;top:0;overflow:visible">
<g fill="#fff">
<path d="M10 12.5H13.3Q16.8 11.4 20.2 7.7L22.8 9.2 21.1 11.3 23.2 12V16.4L21.1 17.1 22.8 19.2 20.2 20.7Q16.8 17 13.3 15.9H10z"/>
<path transform="translate(15.2 0)" d="M10 12.5H13.3Q16.8 11.4 20.2 7.7L22.8 9.2 21.1 11.3 23.2 12V16.4L21.1 17.1 22.8 19.2 20.2 20.7Q16.8 17 13.3 15.9H10z"/>
<g transform="translate(118.2 0) scale(-1 1)">
<path d="M10 12.5H13.3Q16.8 11.4 20.2 7.7L22.8 9.2 21.1 11.3 23.2 12V16.4L21.1 17.1 22.8 19.2 20.2 20.7Q16.8 17 13.3 15.9H10z"/>
<path transform="translate(15.2 0)" d="M10 12.5H13.3Q16.8 11.4 20.2 7.7L22.8 9.2 21.1 11.3 23.2 12V16.4L21.1 17.1 22.8 19.2 20.2 20.7Q16.8 17 13.3 15.9H10z"/>
</g></g>
<path d="M210.6 7.4v13.8l28.4-6.9z" fill="#5fcf5f"/>
<ellipse cx="278.3" cy="14.7" rx="12" ry="6.6" fill="#e03a35"/>
</svg>
</div>
</body></html>
